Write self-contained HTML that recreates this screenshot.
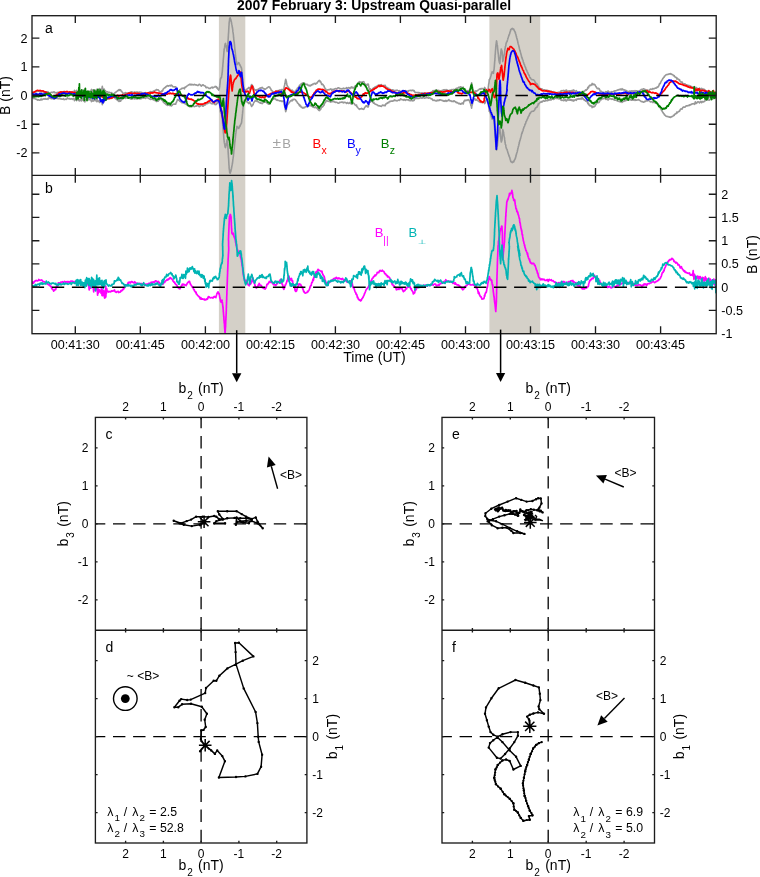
<!DOCTYPE html>
<html><head><meta charset="utf-8"><title>2007 February 3: Upstream Quasi-parallel</title>
<style>html,body{margin:0;padding:0;background:#fff}svg{display:block}</style></head>
<body>
<svg width="760" height="877" viewBox="0 0 760 877" font-family='"Liberation Sans", Arial, Helvetica, "DejaVu Sans", sans-serif' font-size="12.6" fill="#000">
<rect x="0" y="0" width="760" height="877" fill="#fff"/>
<rect x="218.9" y="15.7" width="26.4" height="318.0" fill="#d4d0c8"/>
<rect x="489.4" y="15.7" width="50.8" height="318.0" fill="#d4d0c8"/>
<clipPath id="ca"><rect x="32.0" y="15.7" width="684.2" height="159.60000000000002"/></clipPath>
<clipPath id="cb"><rect x="32.0" y="175.3" width="684.2" height="158.39999999999998"/></clipPath>
<g clip-path="url(#ca)">
<polyline points="31.0,93.5 31.5,93.2 32.1,93.2 32.6,93.3 33.1,92.5 33.6,93.3 34.1,92.8 34.7,92.5 35.2,92.1 35.7,91.9 36.2,91.7 36.7,91.7 37.3,90.9 37.8,91.3 38.4,91.0 38.9,91.2 39.5,90.7 40.0,90.7 40.5,91.2 41.1,92.1 41.6,91.1 42.1,91.2 42.6,91.6 43.2,92.1 43.7,92.0 44.2,91.8 44.7,92.3 45.3,92.4 45.8,91.8 46.3,92.0 46.8,91.9 47.4,92.3 47.9,91.7 48.4,92.7 48.9,93.4 49.5,93.3 50.0,92.8 50.6,92.7 51.1,92.3 51.7,92.3 52.2,92.3 52.8,92.7 53.3,92.2 53.8,91.8 54.4,92.0 54.9,93.0 55.5,92.8 56.0,92.6 56.6,93.1 57.1,92.6 57.6,92.4 58.2,92.4 58.7,92.3 59.2,92.3 59.7,92.5 60.3,92.1 60.8,92.0 61.3,92.3 61.8,91.8 62.4,91.7 62.9,92.1 63.4,92.4 64.0,91.4 64.6,91.5 65.1,91.8 65.7,91.9 66.2,91.5 66.8,92.0 67.3,93.2 67.9,92.5 68.4,92.3 69.0,92.2 69.5,92.5 70.1,91.8 70.7,92.0 71.2,92.3 71.8,92.3 72.3,91.7 72.9,92.1 73.4,92.6 73.9,92.0 74.5,90.3 75.0,91.2 75.5,93.1 76.1,92.6 76.6,90.4 77.1,91.2 77.6,91.4 78.2,92.6 78.8,90.6 79.3,90.1 79.9,91.5 80.4,90.5 81.0,92.0 81.5,90.0 82.1,91.2 82.6,92.4 83.2,91.5 83.7,90.1 84.3,93.8 84.8,89.1 85.4,90.9 86.0,91.9 86.5,91.5 87.1,93.0 87.6,91.3 88.2,93.1 88.7,91.1 89.3,91.4 89.8,91.9 90.4,91.0 90.9,91.0 91.5,89.4 92.0,90.9 92.6,92.4 93.2,89.8 93.7,90.6 94.3,90.3 94.8,91.1 95.4,91.7 95.9,90.2 96.5,89.4 97.0,92.3 97.6,89.6 98.1,89.4 98.7,90.1 99.2,90.1 99.7,88.5 100.2,91.3 100.7,89.4 101.2,90.2 101.7,89.9 102.3,86.4 102.8,89.1 103.2,89.4 103.6,89.8 104.1,89.0 104.5,90.7 104.9,93.5 105.3,90.6 105.7,92.7 106.1,91.4 106.6,91.7 107.1,92.0 107.6,91.8 108.2,92.1 108.7,92.8 109.2,92.3 109.7,92.4 110.3,92.9 110.8,93.0 111.4,92.6 112.0,93.2 112.5,93.6 113.1,93.5 113.6,94.6 114.2,94.0 114.7,93.1 115.2,92.4 115.6,92.5 116.1,92.1 116.6,91.5 117.0,91.5 117.3,90.9 117.7,90.8 118.0,90.8 118.3,90.1 118.7,90.5 119.0,89.6 119.4,89.6 119.8,90.4 120.2,89.9 120.6,89.8 121.0,90.9 121.4,91.3 121.8,91.4 122.2,92.2 122.6,92.8 123.0,93.4 123.4,93.4 124.0,93.2 124.5,93.1 125.1,93.1 125.6,92.5 126.2,93.0 126.7,93.0 127.3,93.2 127.8,93.0 128.3,92.8 128.9,92.7 129.4,92.9 130.0,92.5 130.5,92.0 131.1,92.1 131.6,91.7 132.2,92.0 132.8,92.8 133.3,92.8 133.9,92.2 134.4,92.0 135.0,92.3 135.5,92.2 136.1,92.6 136.6,92.0 137.2,92.2 137.7,92.1 138.3,92.8 138.9,92.5 139.4,92.4 140.0,92.0 140.5,92.7 141.1,92.2 141.6,92.4 142.2,92.9 142.7,93.2 143.3,93.1 143.8,92.8 144.4,93.4 144.9,93.2 145.5,92.6 146.1,93.1 146.6,93.5 147.2,93.4 147.7,93.0 148.3,92.9 148.8,92.8 149.4,92.1 149.9,92.0 150.5,91.6 151.0,91.6 151.6,91.9 152.1,92.0 152.6,91.8 153.1,91.3 153.6,91.1 154.1,91.3 154.6,90.9 155.0,90.4 155.5,90.4 155.9,90.2 156.4,89.6 156.8,89.5 157.2,89.9 157.7,89.8 158.1,89.7 158.6,90.4 159.0,90.9 159.5,91.3 160.0,91.8 160.5,92.0 160.9,92.0 161.3,91.5 161.7,91.2 162.0,90.7 162.3,91.1 162.7,90.7 163.0,89.8 163.3,89.0 163.7,88.7 164.1,88.1 164.5,87.8 164.8,87.5 165.2,87.7 165.6,87.2 166.0,86.5 166.5,86.6 167.0,85.8 167.5,85.6 167.9,85.8 168.4,86.1 168.9,85.7 169.5,85.7 170.0,85.3 170.5,85.9 171.1,85.5 171.5,85.1 172.0,85.5 172.5,86.2 173.0,86.9 173.4,86.7 173.9,86.7 174.4,87.0 174.9,86.9 175.4,87.0 175.8,86.9 176.0,88.1 176.3,88.5 176.5,88.7 176.8,89.7 177.0,90.2 177.3,91.1 177.5,91.3 177.9,91.6 178.3,90.8 178.7,91.0 179.2,90.6 179.6,89.8 180.0,89.7 180.5,89.3 180.9,89.1 181.4,88.9 181.8,88.3 182.4,88.5 182.9,88.1 183.4,88.1 183.9,88.1 184.4,88.9 184.9,87.2 185.3,87.1 185.7,87.1 186.2,86.8 186.6,86.3 187.1,85.9 187.6,85.6 188.0,85.3 188.5,85.1 189.0,84.8 189.5,84.5 190.0,84.1 190.5,84.7 191.1,84.9 191.6,84.4 192.1,84.8 192.6,84.5 193.2,85.0 193.7,84.8 194.2,84.4 194.7,84.5 195.3,84.7 195.8,85.0 196.3,84.7 196.8,85.2 197.4,85.3 197.9,85.6 198.5,85.2 199.0,84.3 199.6,84.4 200.1,84.7 200.7,85.4 201.2,86.2 201.8,85.6 202.3,84.9 202.9,85.3 203.4,84.9 203.9,85.6 204.4,85.9 204.9,86.0 205.4,86.1 205.9,87.6 206.3,87.8 206.8,87.4 207.4,87.4 207.9,87.6 208.4,88.0 208.9,88.4 209.5,88.3 210.0,88.4 210.5,88.2 211.1,87.6 211.6,87.5 212.1,87.0 212.7,88.0 213.2,87.8 213.7,87.3 214.2,87.2 214.7,86.8 215.2,86.3 215.7,86.7 216.1,87.1 216.4,86.7 216.8,87.9 217.1,87.5 217.4,88.0 217.7,89.1 218.0,89.2 218.3,89.5 218.5,89.7 218.7,90.1 218.9,89.7 219.0,89.3 219.2,88.8 219.4,88.3 219.5,87.7 219.6,86.2 219.7,86.4 219.7,85.7 219.8,85.2 219.9,84.2 219.9,84.5 220.0,83.9 220.0,82.8 220.1,82.6 220.2,81.9 220.2,81.0 220.3,80.6 220.3,80.0 220.4,79.5 220.5,79.0 220.7,78.1 221.0,77.8 221.4,77.8 221.5,77.5 221.6,76.7 221.6,75.7 221.7,75.6 221.8,75.3 221.9,74.2 222.0,74.4 222.0,73.8 222.1,72.9 222.2,72.4 222.3,72.1 222.3,71.4 222.4,70.5 222.4,70.0 222.5,69.3 222.5,68.5 222.6,68.4 222.6,67.4 222.7,67.1 222.7,67.0 222.8,66.5 222.8,65.5 222.8,65.4 222.9,65.2 222.9,64.2 223.0,63.1 223.0,62.6 223.1,62.9 223.1,62.5 223.2,61.2 223.2,60.4 223.3,60.1 223.3,60.0 223.3,59.8 223.4,58.6 223.4,58.5 223.5,57.5 223.5,57.3 223.6,57.1 223.6,56.2 223.7,55.3 223.7,54.6 223.8,54.5 223.8,53.9 223.8,53.4 223.9,52.4 223.9,51.5 224.0,51.8 224.0,51.3 224.1,50.7 224.1,50.1 224.2,49.5 224.3,48.6 224.4,48.0 224.5,47.7 224.6,47.2 224.7,46.6 224.8,46.1 224.9,45.4 225.0,44.7 225.1,44.0 225.5,43.4 225.7,44.1 225.8,44.7 226.0,45.6 226.1,45.6 226.2,45.5 226.3,46.8 226.4,48.0 226.5,48.1 226.6,48.5 226.7,49.0 226.8,50.2 226.9,50.3 227.0,50.9 227.1,51.1 227.2,51.5 227.2,50.8 227.3,50.9 227.4,50.4 227.4,49.8 227.5,48.8 227.6,47.9 227.6,47.3 227.7,46.8 227.8,46.6 227.8,45.3 227.8,44.8 227.9,44.2 227.9,43.7 227.9,42.6 228.0,42.8 228.0,42.3 228.0,41.3 228.1,41.5 228.1,40.9 228.1,40.3 228.1,39.6 228.2,38.7 228.2,38.8 228.2,37.6 228.3,38.0 228.3,37.6 228.3,36.5 228.4,36.0 228.4,35.7 228.4,34.6 228.5,33.8 228.5,33.7 228.5,33.6 228.6,32.8 228.6,32.4 228.6,32.3 228.7,31.1 228.7,30.9 228.7,30.2 228.8,28.9 228.8,29.0 228.8,27.9 228.9,27.4 228.9,27.4 228.9,26.4 229.0,25.9 229.0,25.6 229.0,25.2 229.1,24.7 229.1,24.4 229.1,23.3 229.2,22.2 229.3,21.9 229.3,21.7 229.4,21.0 229.5,20.6 229.6,19.7 229.6,18.8 229.7,18.7 229.8,18.9 229.9,18.0 230.0,17.8 230.3,17.9 230.5,19.2 230.7,19.5 230.8,19.6 231.0,20.0 231.1,21.4 231.3,21.7 231.4,21.8 231.5,22.5 231.6,23.6 231.7,23.7 231.8,24.4 231.9,24.9 232.0,25.1 232.1,26.1 232.2,26.6 232.3,27.5 232.4,27.4 232.4,27.0 232.5,28.4 232.6,28.6 232.7,29.6 232.8,30.3 232.8,30.6 232.9,31.9 233.0,32.3 233.1,32.8 233.1,33.3 233.2,33.3 233.3,34.0 233.4,35.0 233.4,34.8 233.5,35.9 233.5,36.7 233.6,37.7 233.7,37.6 233.7,38.3 233.8,39.0 233.8,39.8 233.9,40.6 234.0,40.8 234.0,41.4 234.1,41.9 234.1,41.8 234.2,42.1 234.3,42.8 234.3,43.8 234.4,43.8 234.4,44.4 234.5,45.1 234.5,46.2 234.6,46.2 234.6,47.1 234.7,47.6 234.8,48.7 234.8,49.4 234.9,49.2 234.9,50.1 235.0,49.9 235.0,50.9 235.1,51.1 235.2,52.0 235.2,52.2 235.3,52.6 235.4,53.8 235.4,54.0 235.5,55.2 235.6,55.4 235.6,56.3 235.7,57.1 235.8,57.1 235.8,57.6 235.9,58.1 236.0,58.8 236.0,59.4 236.1,59.9 236.2,60.4 236.3,60.9 236.4,61.2 236.5,61.9 236.6,61.8 236.7,62.7 236.8,63.3 236.9,64.7 237.1,64.4 237.6,64.0 238.0,63.5 238.4,62.8 238.7,62.6 239.0,63.0 239.3,63.7 239.5,65.0 239.8,64.4 240.0,64.9 240.3,65.5 240.6,66.4 240.9,67.1 241.2,67.2 241.5,68.0 241.5,68.7 241.6,68.7 241.7,69.4 241.8,70.8 241.8,71.3 241.9,72.2 242.0,72.2 242.0,72.2 242.1,72.9 242.1,73.7 242.2,74.2 242.2,73.9 242.3,75.2 242.3,75.3 242.4,75.9 242.4,76.7 242.5,77.1 242.6,78.1 242.6,78.4 242.7,79.3 242.7,80.2 242.8,80.6 242.8,80.6 242.9,81.3 243.0,82.2 243.0,83.0 243.1,83.4 243.2,83.7 243.2,83.9 243.3,84.5 243.3,85.2 243.4,86.4 243.5,86.8 243.5,87.0 243.6,87.2 243.7,87.9 243.9,87.5 244.0,88.7 244.2,89.5 244.4,90.4 244.5,89.8 244.7,90.5 245.1,90.6 245.6,90.7 246.1,89.8 246.5,89.3 247.0,89.2 247.4,88.9 247.9,88.2 248.4,88.4 248.9,87.4 249.4,88.1 249.9,89.0 250.1,87.7 250.4,87.5 250.7,86.8 250.9,86.1 251.2,85.7 251.4,85.0 251.7,84.5 252.0,85.3 252.3,85.9 252.6,85.7 252.9,86.2 253.2,86.6 253.5,87.9 253.8,88.4 254.1,88.8 254.5,89.5 254.8,89.9 255.1,90.0 255.6,90.2 256.1,89.7 256.6,90.9 257.1,90.1 257.6,89.5 258.2,89.0 258.7,89.1 259.2,88.5 259.7,88.4 260.3,87.8 260.8,88.4 261.3,87.8 261.8,87.6 262.4,87.4 262.8,88.1 263.3,88.5 263.8,88.9 264.3,88.7 264.8,89.4 265.2,89.3 265.7,88.9 266.2,88.6 266.7,88.3 267.2,87.8 267.6,87.5 268.1,87.3 268.6,86.8 269.1,87.0 269.6,87.1 269.9,87.5 270.1,87.6 270.3,88.5 270.6,88.8 270.8,88.8 271.1,89.9 271.3,90.3 271.6,90.5 272.0,90.6 272.5,91.4 272.9,91.8 273.3,91.9 273.8,92.3 274.3,92.6 274.9,92.1 275.4,92.0 275.9,91.7 276.4,90.9 277.0,90.6 277.5,91.2 278.0,90.7 278.6,90.5 279.1,90.5 279.5,90.1 280.0,90.0 280.5,90.1 281.0,90.2 281.4,89.6 281.9,89.6 282.3,89.5 282.8,89.7 283.2,90.0 283.5,90.4 283.6,89.6 283.7,89.4 283.8,89.0 284.0,88.6 284.1,87.0 284.2,86.9 284.3,86.3 284.4,85.9 284.6,85.3 284.7,85.0 284.8,83.6 284.9,83.8 285.0,83.0 285.1,83.1 285.2,82.2 285.3,81.4 285.4,81.1 285.5,80.5 285.6,79.8 285.7,79.4 285.8,79.6 285.9,79.8 286.1,80.7 286.2,81.7 286.3,81.2 286.4,82.0 286.5,82.7 286.6,83.3 286.7,84.0 286.8,84.6 287.0,85.1 287.2,85.7 287.4,86.1 287.7,86.5 287.9,86.5 288.2,87.1 288.6,87.4 289.0,88.5 289.4,88.5 289.8,89.1 290.2,89.9 290.7,90.2 291.1,90.2 291.5,90.8 292.0,90.0 292.5,90.5 293.0,91.7 293.5,91.3 293.9,91.7 294.4,91.7 294.9,91.4 295.4,91.2 295.9,90.5 296.2,90.0 296.6,89.8 296.9,89.1 297.2,88.9 297.6,87.9 297.9,87.8 298.3,87.4 298.7,86.9 299.1,86.1 299.5,85.2 299.9,86.1 300.2,85.2 300.5,85.0 300.9,85.0 301.2,83.6 301.5,83.6 301.8,83.5 302.4,83.6 303.0,82.8 303.5,83.5 304.1,83.6 304.6,83.3 305.0,83.9 305.5,84.3 306.0,84.2 306.5,84.3 307.0,84.8 307.5,84.4 308.0,85.0 308.4,85.5 308.9,85.6 309.3,85.4 309.7,85.7 310.2,86.0 310.6,85.2 311.1,85.4 311.5,85.0 311.9,84.7 312.4,84.2 312.8,84.6 313.2,83.9 313.7,83.7 314.2,83.4 314.7,83.5 315.2,83.8 315.7,84.2 316.0,83.4 316.4,83.0 316.7,83.1 317.1,83.1 317.5,82.2 317.9,81.6 318.3,81.5 318.8,80.6 319.2,80.6 319.6,80.4 319.9,81.2 320.2,81.9 320.6,81.6 320.9,82.2 321.3,83.2 321.7,84.4 322.1,83.8 322.5,84.3 322.9,84.5 323.2,84.9 323.5,85.7 323.7,85.8 324.0,85.8 324.3,87.0 324.6,87.5 324.9,88.1 325.2,88.7 325.5,88.7 325.9,89.5 326.2,90.1 326.5,90.1 326.8,90.5 327.3,89.9 327.8,89.7 328.3,89.6 328.8,89.9 329.3,89.7 329.8,89.3 330.3,89.3 330.8,88.9 331.3,89.4 331.8,90.3 332.3,89.9 332.8,89.3 333.3,89.6 333.8,89.9 334.2,89.0 334.7,89.0 335.3,88.6 335.8,88.8 336.4,88.7 336.9,88.6 337.5,88.3 338.0,87.9 338.6,87.8 339.1,88.0 339.7,88.8 340.2,88.6 340.8,88.8 341.3,89.0 341.9,88.8 342.4,88.5 342.9,89.0 343.5,88.1 344.0,88.6 344.6,88.8 345.1,88.5 345.7,88.4 346.2,88.1 346.7,87.5 347.2,88.5 347.7,88.2 348.2,87.9 348.6,87.5 349.0,87.7 349.5,88.1 349.9,88.6 350.3,87.7 350.7,87.9 351.1,87.4 351.4,86.9 351.9,87.8 352.3,87.2 352.8,87.7 353.2,88.2 353.6,87.8 354.0,87.6 354.4,87.1 354.8,86.5 355.2,86.0 355.6,85.7 355.9,85.5 356.2,85.6 356.5,86.0 356.9,84.2 357.2,84.1 357.6,83.7 358.0,83.1 358.5,82.4 358.9,82.2 359.3,81.7 359.9,82.3 360.5,82.0 361.0,82.1 361.6,82.7 362.1,82.2 362.6,81.9 363.1,81.6 363.5,81.9 364.0,81.9 364.4,83.0 364.8,83.8 365.3,84.1 365.7,84.5 366.1,85.3 366.6,84.7 367.0,85.1 367.5,84.2 367.9,84.4 368.2,84.1 368.4,84.3 368.5,85.3 368.6,85.7 368.8,86.4 368.9,87.2 369.0,87.7 369.1,87.9 369.3,88.8 369.4,89.5 369.7,89.6 370.2,88.8 370.7,90.4 371.2,89.9 371.6,90.0 372.1,89.4 372.5,89.0 372.9,88.6 373.4,87.9 373.8,88.7 374.3,87.8 374.7,87.3 375.1,86.9 375.6,86.7 376.1,86.5 376.6,86.4 377.1,86.1 377.6,85.9 378.1,85.3 378.6,85.2 379.1,85.0 379.6,85.2 380.2,85.0 380.8,84.7 381.3,84.6 381.9,85.2 382.5,85.9 383.0,85.5 383.6,85.8 384.2,85.3 384.7,85.7 385.2,85.3 385.7,86.9 386.1,86.8 386.5,87.7 387.0,87.7 387.4,87.6 387.9,88.5 388.3,88.2 388.7,88.2 389.2,89.3 389.7,89.6 390.2,89.4 390.7,89.7 391.2,90.0 391.7,90.0 392.2,89.9 392.8,89.8 393.3,90.5 393.8,90.4 394.4,91.1 394.9,90.3 395.5,90.8 396.0,90.6 396.6,90.2 397.1,90.1 397.7,90.5 398.3,90.7 398.8,91.0 399.4,90.6 399.9,91.0 400.5,92.2 401.1,91.4 401.6,91.7 402.2,91.3 402.8,91.2 403.3,90.7 403.9,91.4 404.5,91.5 405.0,90.7 405.6,90.6 406.1,91.4 406.7,91.2 407.2,91.2 407.8,91.0 408.3,91.5 408.8,90.6 409.3,90.5 409.9,90.4 410.4,90.3 410.9,90.5 411.4,90.7 411.9,90.3 412.4,90.4 412.9,90.0 413.3,90.5 413.7,91.0 414.2,90.7 414.6,91.8 415.0,92.4 415.5,92.5 416.1,92.5 416.6,92.5 417.2,92.5 417.7,92.6 418.3,92.8 418.8,92.6 419.4,92.8 420.0,93.0 420.5,93.4 421.1,93.0 421.7,92.9 422.2,92.8 422.8,93.3 423.3,93.6 423.9,93.1 424.5,92.7 425.0,92.9 425.6,93.1 426.2,93.2 426.7,93.8 427.3,93.3 427.9,93.3 428.4,92.7 429.0,93.0 429.5,93.2 430.1,93.0 430.6,92.5 431.1,92.1 431.6,92.5 432.1,92.0 432.6,91.1 433.1,90.6 433.6,90.7 434.1,90.9 434.5,90.5 435.0,90.6 435.5,90.3 436.1,90.1 436.6,90.0 437.1,90.8 437.6,90.4 438.2,90.7 438.7,90.4 439.2,91.2 439.7,90.7 440.3,91.2 440.8,91.0 441.3,91.0 441.8,90.6 442.4,90.2 442.9,90.6 443.4,89.8 444.0,89.8 444.5,90.2 445.1,89.7 445.6,90.6 446.2,90.4 446.7,89.6 447.3,90.2 447.8,90.5 448.4,90.6 448.9,91.5 449.5,90.2 450.0,90.4 450.6,90.0 451.1,90.2 451.7,89.6 452.2,89.8 452.8,89.7 453.3,89.4 453.7,90.2 454.2,89.7 454.7,89.9 455.2,89.1 455.7,89.3 456.2,88.5 456.7,88.2 457.2,88.5 457.8,88.1 458.3,87.6 458.8,87.2 459.3,87.6 459.9,87.5 460.4,86.8 460.9,86.9 461.4,87.4 461.9,87.8 462.4,88.0 462.9,87.2 463.2,87.1 463.6,88.4 463.9,89.8 464.2,90.0 464.5,90.0 464.9,91.0 465.4,90.3 465.9,90.6 466.4,90.9 467.0,90.5 467.5,91.1 468.0,91.0 468.5,91.4 469.0,90.4 469.5,90.6 469.6,90.0 469.8,89.1 470.0,88.7 470.1,88.0 470.3,88.2 470.4,87.7 470.6,87.9 470.7,86.5 470.9,85.4 471.0,85.5 471.2,85.1 471.3,84.7 471.4,83.9 471.6,82.8 471.7,83.8 471.8,84.6 472.0,85.6 472.1,85.9 472.2,86.0 472.3,86.1 472.4,87.2 472.6,87.4 472.7,88.3 472.9,89.3 473.1,90.5 473.3,90.1 473.5,90.4 473.7,91.5 473.9,92.0 474.1,92.2 474.6,92.3 475.1,92.0 475.6,90.9 476.1,91.6 476.5,91.3 476.9,90.7 477.4,90.6 477.8,90.6 478.3,89.9 478.8,89.6 479.3,89.2 479.8,88.9 480.3,88.6 480.8,89.3 481.4,88.5 482.0,88.8 482.5,88.6 483.0,88.7 483.5,89.3 483.9,89.7 484.2,88.7 484.4,88.0 484.6,87.4 484.9,87.8 485.1,88.5 485.3,88.4 485.6,90.0 485.8,89.9 486.1,90.6 486.3,90.9 486.6,91.3 486.9,91.8 487.2,92.5 487.4,92.2 487.6,92.3 487.7,92.5 487.8,91.5 487.8,91.4 487.9,90.1 488.0,89.7 488.1,89.0 488.1,88.8 488.2,88.7 488.3,87.9 488.3,86.9 488.4,86.7 488.5,85.8 488.6,85.2 488.6,84.9 488.7,83.9 488.8,84.0 488.9,83.5 488.9,83.2 489.0,82.8 489.1,81.8 489.2,80.9 489.2,79.7 489.4,79.6 489.6,79.6 489.8,79.2 490.1,78.4 490.3,78.1 490.4,77.5 490.6,76.9 490.7,76.7 490.8,76.2 491.0,75.5 491.1,75.3 491.2,74.9 491.4,74.3 491.6,73.2 491.8,73.1 492.1,71.9 492.3,72.4 492.6,72.9 492.9,72.7 493.2,73.2 493.5,73.4 493.5,72.9 493.6,72.2 493.7,71.0 493.8,70.7 493.8,70.6 493.9,70.4 494.0,69.7 494.0,69.6 494.1,69.2 494.2,68.0 494.2,67.6 494.3,66.8 494.3,67.1 494.4,65.6 494.4,65.1 494.5,64.4 494.5,64.0 494.5,63.6 494.6,63.2 494.6,62.2 494.7,62.2 494.7,61.0 494.8,60.9 494.8,60.1 494.9,60.5 494.9,58.3 494.9,58.7 495.0,57.5 495.0,58.1 495.1,56.7 495.1,55.7 495.1,55.3 495.2,54.5 495.2,54.4 495.3,54.6 495.3,54.1 495.3,53.5 495.4,52.2 495.4,51.7 495.5,50.9 495.5,50.7 495.5,50.2 495.6,49.9 495.6,49.0 495.7,48.6 495.7,47.8 495.7,47.6 495.8,46.6 495.8,46.4 495.9,45.6 496.0,45.3 496.0,44.2 496.1,44.4 496.2,43.6 496.2,43.3 496.3,42.2 496.4,41.5 496.5,42.0 496.5,40.9 496.6,41.6 496.7,41.8 496.8,41.6 496.9,43.7 497.0,44.2 497.1,44.5 497.2,44.7 497.3,45.4 497.4,45.4 497.5,46.6 497.5,46.8 497.6,47.9 497.6,48.1 497.7,48.8 497.7,49.8 497.8,49.4 497.8,49.8 497.9,50.5 497.9,51.6 498.0,51.6 498.1,52.4 498.1,52.9 498.2,53.2 498.2,53.8 498.3,54.0 498.4,54.7 498.4,55.3 498.5,56.0 498.5,56.9 498.6,57.1 498.7,57.9 498.7,58.7 498.8,58.6 498.9,59.7 498.9,60.3 499.0,60.7 499.2,61.7 499.3,62.0 499.4,62.5 499.6,62.7 499.7,63.5 499.8,63.6 499.9,63.0 499.9,62.9 500.0,61.5 500.0,60.5 500.1,60.4 500.1,59.6 500.1,59.2 500.2,58.5 500.2,57.9 500.3,57.5 500.3,57.2 500.4,56.8 500.4,55.9 500.5,55.8 500.5,55.0 500.6,54.7 500.7,53.7 500.7,53.0 500.8,52.5 500.8,52.0 500.9,51.6 501.0,51.1 501.0,50.4 501.1,50.1 501.2,50.0 501.2,49.0 501.3,49.0 501.5,49.3 501.6,49.9 501.8,50.9 501.9,50.7 502.0,50.9 502.1,52.3 502.2,52.4 502.2,53.3 502.2,53.1 502.3,53.8 502.3,54.9 502.3,55.2 502.4,55.5 502.4,56.8 502.4,56.9 502.5,57.8 502.5,58.9 502.6,59.3 502.6,59.1 502.6,59.4 502.7,59.8 502.7,61.0 502.7,61.6 502.9,60.9 503.1,60.6 503.2,59.5 503.4,58.8 503.5,59.0 503.6,58.7 503.7,57.2 503.8,56.7 503.9,56.1 504.0,55.5 504.1,55.0 504.2,54.9 504.3,54.1 504.4,53.9 504.4,54.0 504.5,53.2 504.6,52.2 504.7,51.1 504.8,50.7 504.8,50.3 504.9,49.7 505.0,48.5 505.1,49.0 505.1,49.0 505.2,48.0 505.3,47.1 505.4,46.5 505.6,46.4 505.7,46.0 505.8,45.8 505.9,44.6 506.0,43.9 506.1,43.4 506.3,43.2 506.4,42.3 506.6,42.1 506.8,41.9 507.1,41.7 507.3,40.5 507.5,39.9 507.7,39.2 507.8,38.6 508.0,38.2 508.2,37.7 508.3,37.1 508.5,36.8 508.7,36.1 508.9,35.3 509.0,34.8 509.2,35.1 509.4,34.3 509.6,33.7 509.7,33.6 509.9,32.8 510.1,31.8 510.3,31.3 510.4,31.3 510.7,29.6 511.0,29.7 511.2,29.1 511.5,29.1 511.8,28.6 512.1,28.7 512.5,28.4 512.9,29.2 513.3,29.6 513.7,29.1 514.0,30.0 514.3,30.3 514.5,31.1 514.8,31.6 515.1,32.0 515.3,33.0 515.5,32.8 515.6,33.7 515.8,34.3 515.9,34.4 516.1,35.5 516.2,36.2 516.4,36.3 516.5,37.0 516.6,37.5 516.8,38.1 516.9,38.8 517.0,38.6 517.2,39.2 517.3,39.6 517.4,40.4 517.6,40.8 517.7,41.4 517.8,42.3 518.0,42.7 518.1,43.4 518.2,43.7 518.4,44.5 518.5,44.8 518.6,44.9 518.8,45.8 518.9,46.6 519.0,46.9 519.1,46.8 519.3,48.0 519.4,49.0 519.5,49.1 519.7,49.7 519.8,50.3 519.9,50.7 520.1,50.9 520.2,51.5 520.3,51.7 520.5,52.2 520.6,52.7 520.8,53.5 520.9,54.1 521.1,54.5 521.2,55.1 521.4,55.8 521.5,56.6 521.7,57.2 521.8,57.9 522.0,57.4 522.2,58.4 522.4,58.9 522.5,59.6 522.7,59.8 522.9,59.9 523.1,60.8 523.3,62.0 523.5,62.4 523.7,62.8 523.8,63.2 524.0,64.1 524.2,64.4 524.4,64.5 524.6,65.1 524.8,65.8 525.0,66.4 525.2,67.1 525.4,67.1 525.6,67.6 525.8,68.1 526.0,69.4 526.2,69.6 526.4,69.8 526.6,70.1 526.8,70.6 527.1,71.6 527.3,71.9 527.5,72.4 527.7,72.6 527.9,72.8 528.1,73.8 528.4,74.3 528.6,74.8 528.9,75.2 529.1,75.3 529.4,76.1 529.6,77.0 529.9,77.6 530.2,77.5 530.5,78.0 530.8,78.7 531.1,79.0 531.6,79.5 532.1,79.6 532.6,79.7 533.1,79.8 533.5,79.7 534.0,80.4 534.4,80.8 534.8,81.2 535.2,82.6 535.6,82.5 535.9,83.4 536.3,83.6 536.6,83.9 536.9,83.8 537.2,84.1 537.5,85.2 537.7,85.0 538.0,85.6 538.2,87.2 538.5,86.6 538.7,87.2 538.9,87.1 539.3,87.9 539.7,88.1 540.1,88.5 540.5,88.8 540.9,88.7 541.3,89.6 541.8,88.8 542.4,89.3 542.9,90.0 543.4,90.4 543.9,90.0 544.5,89.9 545.1,89.9 545.6,90.8 546.2,90.5 546.7,90.4 547.3,90.2 547.9,91.5 548.4,91.1 548.9,90.7 549.5,91.3 550.0,91.3 550.5,91.0 551.1,91.0 551.6,91.9 552.1,92.2 552.6,91.8 553.2,92.0 553.7,91.5 554.2,92.0 554.8,93.4 555.3,93.2 555.9,92.6 556.4,93.4 557.0,92.6 557.5,92.7 558.1,92.4 558.6,93.1 559.2,92.0 559.7,93.2 560.2,93.0 560.5,92.6 560.8,91.2 561.2,90.6 561.6,91.0 562.1,90.9 562.7,90.8 563.3,90.3 563.8,91.1 564.4,90.6 564.9,91.2 565.5,91.5 566.0,90.1 566.6,90.1 567.1,91.0 567.7,91.3 568.2,91.2 568.8,90.8 569.3,90.9 569.9,91.4 570.5,90.8 571.0,91.4 571.6,90.6 572.1,90.7 572.6,91.0 573.2,89.9 573.7,91.0 574.2,90.3 574.7,91.0 575.3,91.2 575.8,91.4 576.3,90.6 576.8,91.9 577.4,91.8 577.9,92.3 578.4,92.4 578.9,91.7 579.5,92.0 580.0,92.4 580.6,92.6 581.1,91.7 581.7,93.1 582.2,93.4 582.8,92.0 583.2,92.5 583.7,91.3 584.1,91.5 584.6,90.7 585.0,90.8 585.4,90.0 585.8,89.9 586.2,90.2 586.6,90.0 587.0,89.2 587.4,89.1 587.8,87.4 588.2,87.1 588.6,87.8 588.9,86.2 589.4,85.8 589.8,85.2 590.3,85.1 590.7,85.6 591.2,85.2 591.7,84.7 592.2,83.4 592.6,84.7 593.1,84.5 593.6,84.0 594.1,84.7 594.6,84.4 595.1,85.0 595.5,85.9 595.9,86.6 596.2,86.9 596.6,87.7 597.0,88.1 597.4,88.7 597.8,88.2 598.2,88.2 598.6,88.9 599.0,88.5 599.4,89.1 599.8,90.0 600.2,91.3 600.6,91.8 601.1,91.3 601.6,91.4 602.1,92.0 602.6,92.9 603.2,92.2 603.7,92.4 604.2,92.5 604.7,92.8 605.3,92.6 605.8,91.6 606.4,92.2 607.0,91.7 607.5,92.7 608.1,90.9 608.6,91.6 609.2,92.0 609.7,92.5 610.3,92.4 610.8,92.5 611.3,91.6 611.8,91.9 612.4,91.7 612.9,92.1 613.4,91.3 613.9,91.7 614.5,90.9 615.0,91.0 615.5,90.9 616.1,90.8 616.6,90.6 617.1,90.3 617.6,90.0 618.2,89.6 618.7,90.0 619.3,89.6 619.9,89.3 620.4,89.0 621.0,89.9 621.6,89.8 622.1,88.7 622.6,89.7 623.2,89.8 623.7,89.6 624.2,90.2 624.7,90.1 625.3,90.3 625.8,90.3 626.3,90.7 626.8,91.5 627.4,91.3 627.9,91.2 628.4,92.3 628.9,91.6 629.5,91.7 630.0,90.9 630.5,91.5 631.1,92.0 631.6,90.8 632.2,91.7 632.7,91.0 633.3,90.8 633.9,92.1 634.4,91.2 635.0,90.6 635.5,91.5 636.1,90.8 636.6,90.8 637.1,91.0 637.6,91.0 638.2,91.4 638.7,91.4 639.2,90.8 639.7,90.7 640.2,90.3 640.7,90.1 641.2,89.4 641.7,89.5 642.2,89.5 642.7,89.3 643.2,88.8 643.7,88.9 644.2,89.0 644.6,89.6 645.1,89.5 645.6,89.5 646.1,90.2 646.6,90.8 647.1,90.1 647.7,90.3 648.2,90.5 648.8,90.5 649.3,90.1 649.9,89.7 650.4,89.1 651.0,89.3 651.5,89.2 652.1,89.4 652.6,88.5 653.2,88.5 653.7,88.9 654.2,88.7 654.7,88.3 655.3,88.2 655.8,87.9 656.2,88.1 656.7,87.8 657.2,86.9 657.7,87.1 658.2,87.0 658.4,86.6 658.7,85.8 659.0,85.4 659.3,84.2 659.6,83.6 659.8,83.9 660.1,83.5 660.4,83.4 660.6,82.4 660.9,82.2 661.1,81.3 661.4,81.0 661.6,80.6 661.9,80.2 662.1,79.8 662.4,79.3 662.8,78.8 663.1,78.2 663.4,77.8 663.8,77.2 664.1,77.2 664.5,76.1 665.0,75.9 665.4,75.5 665.8,75.0 666.3,74.8 666.8,74.6 667.3,74.4 667.8,74.6 668.3,74.3 668.9,74.1 669.4,73.8 670.0,74.2 670.6,73.5 671.1,73.9 671.7,74.4 672.2,74.5 672.6,74.5 673.1,75.1 673.5,75.7 673.9,75.9 674.3,75.7 674.7,76.7 675.1,77.0 675.5,77.1 675.9,77.4 676.4,77.5 676.8,79.0 677.2,78.1 677.7,78.8 678.1,79.1 678.5,79.5 678.9,79.4 679.3,80.2 679.7,79.9 680.1,81.1 680.5,81.8 681.0,82.1 681.5,82.0 682.0,81.8 682.4,82.7 682.9,83.7 683.4,83.7 683.9,84.1 684.4,83.7 684.8,83.8 685.3,84.1 685.8,84.9 686.3,85.0 686.7,85.2 687.2,85.1 687.7,85.2 688.2,85.4 688.7,85.5 689.2,86.1 689.7,85.5 690.2,86.2 690.7,86.4 691.2,86.4 691.7,87.0 692.2,87.1 692.7,87.0 693.2,87.1 693.7,87.5 694.2,87.4 694.7,86.6 695.3,89.1 695.8,88.7 696.3,87.6 696.8,87.9 697.4,88.9 697.9,89.2 698.4,89.2 698.9,88.7 699.5,88.1 700.0,88.9 700.5,89.6 701.1,88.9 701.6,88.4 702.1,89.6 702.6,89.1 703.2,89.2 703.7,89.1 704.2,89.8 704.7,89.6 705.3,90.8 705.8,91.9 706.3,91.3 706.8,90.8 707.4,91.1 707.9,91.6 708.4,91.2 708.9,90.8 709.5,90.8 710.0,91.9 710.5,92.4 711.1,92.8 711.6,93.4 712.1,92.7 712.6,91.7 713.2,92.4 713.7,93.3 714.2,92.9 714.7,93.5 715.3,93.2 715.9,93.2 716.4,92.9 717.0,92.5 717.5,92.8" fill="none" stroke="#989898" stroke-width="1.6" stroke-linejoin="round" stroke-linecap="butt" />
<polyline points="31.0,97.5 31.5,97.8 32.1,97.8 32.6,97.7 33.1,98.5 33.6,97.7 34.1,98.2 34.7,98.5 35.2,98.9 35.7,99.1 36.2,99.3 36.7,99.3 37.3,100.1 37.8,99.7 38.4,100.0 38.9,99.8 39.5,100.3 40.0,100.3 40.5,99.8 41.1,98.9 41.6,99.9 42.1,99.8 42.6,99.4 43.2,98.9 43.7,99.0 44.2,99.2 44.7,98.7 45.3,98.6 45.8,99.2 46.3,99.0 46.8,99.1 47.4,98.7 47.9,99.3 48.4,98.3 48.9,97.6 49.5,97.7 50.0,98.2 50.6,98.3 51.1,98.7 51.7,98.7 52.2,98.7 52.8,98.3 53.3,98.8 53.8,99.2 54.4,99.0 54.9,98.0 55.5,98.2 56.0,98.4 56.6,97.9 57.1,98.4 57.6,98.6 58.2,98.6 58.7,98.7 59.2,98.7 59.7,98.5 60.3,98.9 60.8,99.0 61.3,98.7 61.8,99.2 62.4,99.3 62.9,98.9 63.4,98.6 64.0,99.6 64.6,99.5 65.1,99.2 65.7,99.1 66.2,99.5 66.8,99.0 67.3,97.8 67.9,98.5 68.4,98.7 69.0,98.8 69.5,98.5 70.1,99.2 70.7,99.0 71.2,98.7 71.8,98.7 72.3,99.3 72.9,98.9 73.4,98.4 73.9,99.0 74.5,100.7 75.0,99.8 75.5,97.9 76.1,98.4 76.6,100.6 77.1,99.8 77.6,99.6 78.2,98.4 78.8,100.4 79.3,100.9 79.9,99.5 80.4,100.5 81.0,99.0 81.5,101.0 82.1,99.8 82.6,98.6 83.2,99.5 83.7,100.9 84.3,97.2 84.8,101.9 85.4,100.1 86.0,99.1 86.5,99.5 87.1,98.0 87.6,99.7 88.2,97.9 88.7,99.9 89.3,99.6 89.8,99.1 90.4,100.0 90.9,100.0 91.5,101.6 92.0,100.1 92.6,98.6 93.2,101.2 93.7,100.4 94.3,100.7 94.8,99.9 95.4,99.3 95.9,100.8 96.5,101.6 97.0,98.7 97.6,101.4 98.1,101.6 98.7,100.9 99.2,100.9 99.7,102.5 100.2,99.7 100.7,101.6 101.2,100.8 101.7,101.1 102.3,104.6 102.8,101.9 103.2,101.6 103.6,101.2 104.1,102.0 104.5,100.3 104.9,97.5 105.3,100.4 105.7,98.3 106.1,99.6 106.6,99.3 107.1,99.0 107.6,99.2 108.2,98.9 108.7,98.2 109.2,98.7 109.7,98.6 110.3,98.1 110.8,98.0 111.4,98.4 112.0,97.8 112.5,97.4 113.1,97.5 113.6,96.4 114.2,97.0 114.7,97.9 115.2,98.6 115.6,98.5 116.1,98.9 116.6,99.5 117.0,99.5 117.3,100.1 117.7,100.2 118.0,100.2 118.3,100.9 118.7,100.5 119.0,101.4 119.4,101.4 119.8,100.6 120.2,101.1 120.6,101.2 121.0,100.1 121.4,99.7 121.8,99.6 122.2,98.8 122.6,98.2 123.0,97.6 123.4,97.6 124.0,97.8 124.5,97.9 125.1,97.9 125.6,98.5 126.2,98.0 126.7,98.0 127.3,97.8 127.8,98.0 128.3,98.2 128.9,98.3 129.4,98.1 130.0,98.5 130.5,99.0 131.1,98.9 131.6,99.3 132.2,99.0 132.8,98.2 133.3,98.2 133.9,98.8 134.4,99.0 135.0,98.7 135.5,98.8 136.1,98.4 136.6,99.0 137.2,98.8 137.7,98.9 138.3,98.2 138.9,98.5 139.4,98.6 140.0,99.0 140.5,98.3 141.1,98.8 141.6,98.6 142.2,98.1 142.7,97.8 143.3,97.9 143.8,98.2 144.4,97.6 144.9,97.8 145.5,98.4 146.1,97.9 146.6,97.5 147.2,97.6 147.7,98.0 148.3,98.1 148.8,98.2 149.4,98.9 149.9,99.0 150.5,99.4 151.0,99.4 151.6,99.1 152.1,99.0 152.6,99.2 153.1,99.7 153.6,99.9 154.1,99.7 154.6,100.1 155.0,100.6 155.5,100.6 155.9,100.8 156.4,101.4 156.8,101.5 157.2,101.1 157.7,101.2 158.1,101.3 158.6,100.6 159.0,100.1 159.5,99.7 160.0,99.2 160.5,99.0 160.9,99.0 161.3,99.5 161.7,99.8 162.0,100.3 162.3,99.9 162.7,100.3 163.0,101.2 163.3,102.0 163.7,102.3 164.1,102.9 164.5,103.2 164.8,103.5 165.2,103.3 165.6,103.8 166.0,104.5 166.5,104.4 167.0,105.2 167.5,105.4 167.9,105.2 168.4,104.9 168.9,105.3 169.5,105.3 170.0,105.7 170.5,105.1 171.1,105.5 171.5,105.9 172.0,105.5 172.5,104.8 173.0,104.1 173.4,104.3 173.9,104.3 174.4,104.0 174.9,104.1 175.4,104.0 175.8,104.1 176.0,102.9 176.3,102.5 176.5,102.3 176.8,101.3 177.0,100.8 177.3,99.9 177.5,99.7 177.9,99.4 178.3,100.2 178.7,100.0 179.2,100.4 179.6,101.2 180.0,101.3 180.5,101.7 180.9,101.9 181.4,102.1 181.8,102.7 182.4,102.5 182.9,102.9 183.4,102.9 183.9,102.9 184.4,102.1 184.9,103.8 185.3,103.9 185.7,103.9 186.2,104.2 186.6,104.7 187.1,105.1 187.6,105.4 188.0,105.7 188.5,105.9 189.0,106.2 189.5,106.5 190.0,106.9 190.5,106.3 191.1,106.1 191.6,106.6 192.1,106.2 192.6,106.5 193.2,106.0 193.7,106.2 194.2,106.6 194.7,106.5 195.3,106.3 195.8,106.0 196.3,106.3 196.8,105.8 197.4,105.7 197.9,105.4 198.5,105.8 199.0,106.7 199.6,106.6 200.1,106.3 200.7,105.6 201.2,104.8 201.8,105.4 202.3,106.1 202.9,105.7 203.4,106.1 203.9,105.4 204.4,105.1 204.9,105.0 205.4,104.9 205.9,103.4 206.3,103.2 206.8,103.6 207.4,103.6 207.9,103.4 208.4,103.0 208.9,102.6 209.5,102.7 210.0,102.6 210.5,102.8 211.1,103.4 211.6,103.5 212.1,104.0 212.7,103.0 213.2,103.2 213.7,103.7 214.2,103.8 214.7,104.2 215.2,104.7 215.7,104.3 216.1,103.9 216.4,104.3 216.8,103.1 217.1,103.5 217.4,103.0 217.7,101.9 218.0,101.8 218.3,101.5 218.5,101.3 218.7,100.9 218.9,101.3 219.0,101.7 219.2,102.2 219.4,102.7 219.5,103.3 219.6,104.8 219.7,104.6 219.7,105.3 219.8,105.8 219.9,106.8 219.9,106.5 220.0,107.1 220.0,108.2 220.1,108.4 220.2,109.1 220.2,110.0 220.3,110.4 220.3,111.0 220.4,111.5 220.5,112.0 220.7,112.9 221.0,113.2 221.4,113.2 221.5,113.5 221.6,114.3 221.6,115.3 221.7,115.4 221.8,115.7 221.9,116.8 222.0,116.6 222.0,117.2 222.1,118.1 222.2,118.6 222.3,118.9 222.3,119.6 222.4,120.5 222.4,121.0 222.5,121.7 222.5,122.5 222.6,122.6 222.6,123.6 222.7,123.9 222.7,124.0 222.8,124.5 222.8,125.5 222.8,125.6 222.9,125.8 222.9,126.8 223.0,127.9 223.0,128.4 223.1,128.1 223.1,128.5 223.2,129.8 223.2,130.6 223.3,130.9 223.3,131.0 223.3,131.2 223.4,132.4 223.4,132.5 223.5,133.5 223.5,133.7 223.6,133.9 223.6,134.8 223.7,135.7 223.7,136.4 223.8,136.5 223.8,137.1 223.8,137.6 223.9,138.6 223.9,139.5 224.0,139.2 224.0,139.7 224.1,140.3 224.1,140.9 224.2,141.5 224.3,142.4 224.4,143.0 224.5,143.3 224.6,143.8 224.7,144.4 224.8,144.9 224.9,145.6 225.0,146.3 225.1,147.0 225.5,147.6 225.7,146.9 225.8,146.3 226.0,145.4 226.1,145.4 226.2,145.5 226.3,144.2 226.4,143.0 226.5,142.9 226.6,142.5 226.7,142.0 226.8,140.8 226.9,140.7 227.0,140.1 227.1,139.9 227.2,139.5 227.2,140.2 227.3,140.1 227.4,140.6 227.4,141.2 227.5,142.2 227.6,143.1 227.6,143.7 227.7,144.2 227.8,144.4 227.8,145.7 227.8,146.2 227.9,146.8 227.9,147.3 227.9,148.4 228.0,148.2 228.0,148.7 228.0,149.7 228.1,149.5 228.1,150.1 228.1,150.7 228.1,151.4 228.2,152.3 228.2,152.2 228.2,153.4 228.3,153.0 228.3,153.4 228.3,154.5 228.4,155.0 228.4,155.3 228.4,156.4 228.5,157.2 228.5,157.3 228.5,157.4 228.6,158.2 228.6,158.6 228.6,158.7 228.7,159.9 228.7,160.1 228.7,160.8 228.8,162.1 228.8,162.0 228.8,163.1 228.9,163.6 228.9,163.6 228.9,164.6 229.0,165.1 229.0,165.4 229.0,165.8 229.1,166.3 229.1,166.6 229.1,167.7 229.2,168.8 229.3,169.1 229.3,169.3 229.4,170.0 229.5,170.4 229.6,171.3 229.6,172.2 229.7,172.3 229.8,172.1 229.9,173.0 230.0,173.2 230.3,173.1 230.5,171.8 230.7,171.5 230.8,171.4 231.0,171.0 231.1,169.6 231.3,169.3 231.4,169.2 231.5,168.5 231.6,167.4 231.7,167.3 231.8,166.6 231.9,166.1 232.0,165.9 232.1,164.9 232.2,164.4 232.3,163.5 232.4,163.6 232.4,164.0 232.5,162.6 232.6,162.4 232.7,161.4 232.8,160.7 232.8,160.4 232.9,159.1 233.0,158.7 233.1,158.2 233.1,157.7 233.2,157.7 233.3,157.0 233.4,156.0 233.4,156.2 233.5,155.1 233.5,154.3 233.6,153.3 233.7,153.4 233.7,152.7 233.8,152.0 233.8,151.2 233.9,150.4 234.0,150.2 234.0,149.6 234.1,149.1 234.1,149.2 234.2,148.9 234.3,148.2 234.3,147.2 234.4,147.2 234.4,146.6 234.5,145.9 234.5,144.8 234.6,144.8 234.6,143.9 234.7,143.4 234.8,142.3 234.8,141.6 234.9,141.8 234.9,140.9 235.0,141.1 235.0,140.1 235.1,139.9 235.2,139.0 235.2,138.8 235.3,138.4 235.4,137.2 235.4,137.0 235.5,135.8 235.6,135.6 235.6,134.7 235.7,133.9 235.8,133.9 235.8,133.4 235.9,132.9 236.0,132.2 236.0,131.6 236.1,131.1 236.2,130.6 236.3,130.1 236.4,129.8 236.5,129.1 236.6,129.2 236.7,128.3 236.8,127.7 236.9,126.3 237.1,126.6 237.6,127.0 238.0,127.5 238.4,128.2 238.7,128.4 239.0,128.0 239.3,127.3 239.5,126.0 239.8,126.6 240.0,126.1 240.3,125.5 240.6,124.6 240.9,123.9 241.2,123.8 241.5,123.0 241.5,122.3 241.6,122.3 241.7,121.6 241.8,120.2 241.8,119.7 241.9,118.8 242.0,118.8 242.0,118.8 242.1,118.1 242.1,117.3 242.2,116.8 242.2,117.1 242.3,115.8 242.3,115.7 242.4,115.1 242.4,114.3 242.5,113.9 242.6,112.9 242.6,112.6 242.7,111.7 242.7,110.8 242.8,110.4 242.8,110.4 242.9,109.7 243.0,108.8 243.0,108.0 243.1,107.6 243.2,107.3 243.2,107.1 243.3,106.5 243.3,105.8 243.4,104.6 243.5,104.2 243.5,104.0 243.6,103.8 243.7,103.1 243.9,103.5 244.0,102.3 244.2,101.5 244.4,100.6 244.5,101.2 244.7,100.5 245.1,100.4 245.6,100.3 246.1,101.2 246.5,101.7 247.0,101.8 247.4,102.1 247.9,102.8 248.4,102.6 248.9,103.6 249.4,102.9 249.9,102.0 250.1,103.3 250.4,103.5 250.7,104.2 250.9,104.9 251.2,105.3 251.4,106.0 251.7,106.5 252.0,105.7 252.3,105.1 252.6,105.3 252.9,104.8 253.2,104.4 253.5,103.1 253.8,102.6 254.1,102.2 254.5,101.5 254.8,101.1 255.1,101.0 255.6,100.8 256.1,101.3 256.6,100.1 257.1,100.9 257.6,101.5 258.2,102.0 258.7,101.9 259.2,102.5 259.7,102.6 260.3,103.2 260.8,102.6 261.3,103.2 261.8,103.4 262.4,103.6 262.8,102.9 263.3,102.5 263.8,102.1 264.3,102.3 264.8,101.6 265.2,101.7 265.7,102.1 266.2,102.4 266.7,102.7 267.2,103.2 267.6,103.5 268.1,103.7 268.6,104.2 269.1,104.0 269.6,103.9 269.9,103.5 270.1,103.4 270.3,102.5 270.6,102.2 270.8,102.2 271.1,101.1 271.3,100.7 271.6,100.5 272.0,100.4 272.5,99.6 272.9,99.2 273.3,99.1 273.8,98.7 274.3,98.4 274.9,98.9 275.4,99.0 275.9,99.3 276.4,100.1 277.0,100.4 277.5,99.8 278.0,100.3 278.6,100.5 279.1,100.5 279.5,100.9 280.0,101.0 280.5,100.9 281.0,100.8 281.4,101.4 281.9,101.4 282.3,101.5 282.8,101.3 283.2,101.0 283.5,100.6 283.6,101.4 283.7,101.6 283.8,102.0 284.0,102.4 284.1,104.0 284.2,104.1 284.3,104.7 284.4,105.1 284.6,105.7 284.7,106.0 284.8,107.4 284.9,107.2 285.0,108.0 285.1,107.9 285.2,108.8 285.3,109.6 285.4,109.9 285.5,110.5 285.6,111.2 285.7,111.6 285.8,111.4 285.9,111.2 286.1,110.3 286.2,109.3 286.3,109.8 286.4,109.0 286.5,108.3 286.6,107.7 286.7,107.0 286.8,106.4 287.0,105.9 287.2,105.3 287.4,104.9 287.7,104.5 287.9,104.5 288.2,103.9 288.6,103.6 289.0,102.5 289.4,102.5 289.8,101.9 290.2,101.1 290.7,100.8 291.1,100.8 291.5,100.2 292.0,101.0 292.5,100.5 293.0,99.3 293.5,99.7 293.9,99.3 294.4,99.3 294.9,99.6 295.4,99.8 295.9,100.5 296.2,101.0 296.6,101.2 296.9,101.9 297.2,102.1 297.6,103.1 297.9,103.2 298.3,103.6 298.7,104.1 299.1,104.9 299.5,105.8 299.9,104.9 300.2,105.8 300.5,106.0 300.9,106.0 301.2,107.4 301.5,107.4 301.8,107.5 302.4,107.4 303.0,108.2 303.5,107.5 304.1,107.4 304.6,107.7 305.0,107.1 305.5,106.7 306.0,106.8 306.5,106.7 307.0,106.2 307.5,106.6 308.0,106.0 308.4,105.5 308.9,105.4 309.3,105.6 309.7,105.3 310.2,105.0 310.6,105.8 311.1,105.6 311.5,106.0 311.9,106.3 312.4,106.8 312.8,106.4 313.2,107.1 313.7,107.3 314.2,107.6 314.7,107.5 315.2,107.2 315.7,106.8 316.0,107.6 316.4,108.0 316.7,107.9 317.1,107.9 317.5,108.8 317.9,109.4 318.3,109.5 318.8,110.4 319.2,110.4 319.6,110.6 319.9,109.8 320.2,109.1 320.6,109.4 320.9,108.8 321.3,107.8 321.7,106.6 322.1,107.2 322.5,106.7 322.9,106.5 323.2,106.1 323.5,105.3 323.7,105.2 324.0,105.2 324.3,104.0 324.6,103.5 324.9,102.9 325.2,102.3 325.5,102.3 325.9,101.5 326.2,100.9 326.5,100.9 326.8,100.5 327.3,101.1 327.8,101.3 328.3,101.4 328.8,101.1 329.3,101.3 329.8,101.7 330.3,101.7 330.8,102.1 331.3,101.6 331.8,100.7 332.3,101.1 332.8,101.7 333.3,101.4 333.8,101.1 334.2,102.0 334.7,102.0 335.3,102.4 335.8,102.2 336.4,102.3 336.9,102.4 337.5,102.7 338.0,103.1 338.6,103.2 339.1,103.0 339.7,102.2 340.2,102.4 340.8,102.2 341.3,102.0 341.9,102.2 342.4,102.5 342.9,102.0 343.5,102.9 344.0,102.4 344.6,102.2 345.1,102.5 345.7,102.6 346.2,102.9 346.7,103.5 347.2,102.5 347.7,102.8 348.2,103.1 348.6,103.5 349.0,103.3 349.5,102.9 349.9,102.4 350.3,103.3 350.7,103.1 351.1,103.6 351.4,104.1 351.9,103.2 352.3,103.8 352.8,103.3 353.2,102.8 353.6,103.2 354.0,103.4 354.4,103.9 354.8,104.5 355.2,105.0 355.6,105.3 355.9,105.5 356.2,105.4 356.5,105.0 356.9,106.8 357.2,106.9 357.6,107.3 358.0,107.9 358.5,108.6 358.9,108.8 359.3,109.3 359.9,108.7 360.5,109.0 361.0,108.9 361.6,108.3 362.1,108.8 362.6,109.1 363.1,109.4 363.5,109.1 364.0,109.1 364.4,108.0 364.8,107.2 365.3,106.9 365.7,106.5 366.1,105.7 366.6,106.3 367.0,105.9 367.5,106.8 367.9,106.6 368.2,106.9 368.4,106.7 368.5,105.7 368.6,105.3 368.8,104.6 368.9,103.8 369.0,103.3 369.1,103.1 369.3,102.2 369.4,101.5 369.7,101.4 370.2,102.2 370.7,100.6 371.2,101.1 371.6,101.0 372.1,101.6 372.5,102.0 372.9,102.4 373.4,103.1 373.8,102.3 374.3,103.2 374.7,103.7 375.1,104.1 375.6,104.3 376.1,104.5 376.6,104.6 377.1,104.9 377.6,105.1 378.1,105.7 378.6,105.8 379.1,106.0 379.6,105.8 380.2,106.0 380.8,106.3 381.3,106.4 381.9,105.8 382.5,105.1 383.0,105.5 383.6,105.2 384.2,105.7 384.7,105.3 385.2,105.7 385.7,104.1 386.1,104.2 386.5,103.3 387.0,103.3 387.4,103.4 387.9,102.5 388.3,102.8 388.7,102.8 389.2,101.7 389.7,101.4 390.2,101.6 390.7,101.3 391.2,101.0 391.7,101.0 392.2,101.1 392.8,101.2 393.3,100.5 393.8,100.6 394.4,99.9 394.9,100.7 395.5,100.2 396.0,100.4 396.6,100.8 397.1,100.9 397.7,100.5 398.3,100.3 398.8,100.0 399.4,100.4 399.9,100.0 400.5,98.8 401.1,99.6 401.6,99.3 402.2,99.7 402.8,99.8 403.3,100.3 403.9,99.6 404.5,99.5 405.0,100.3 405.6,100.4 406.1,99.6 406.7,99.8 407.2,99.8 407.8,100.0 408.3,99.5 408.8,100.4 409.3,100.5 409.9,100.6 410.4,100.7 410.9,100.5 411.4,100.3 411.9,100.7 412.4,100.6 412.9,101.0 413.3,100.5 413.7,100.0 414.2,100.3 414.6,99.2 415.0,98.6 415.5,98.5 416.1,98.5 416.6,98.5 417.2,98.5 417.7,98.4 418.3,98.2 418.8,98.4 419.4,98.2 420.0,98.0 420.5,97.6 421.1,98.0 421.7,98.1 422.2,98.2 422.8,97.7 423.3,97.4 423.9,97.9 424.5,98.3 425.0,98.1 425.6,97.9 426.2,97.8 426.7,97.2 427.3,97.7 427.9,97.7 428.4,98.3 429.0,98.0 429.5,97.8 430.1,98.0 430.6,98.5 431.1,98.9 431.6,98.5 432.1,99.0 432.6,99.9 433.1,100.4 433.6,100.3 434.1,100.1 434.5,100.5 435.0,100.4 435.5,100.7 436.1,100.9 436.6,101.0 437.1,100.2 437.6,100.6 438.2,100.3 438.7,100.6 439.2,99.8 439.7,100.3 440.3,99.8 440.8,100.0 441.3,100.0 441.8,100.4 442.4,100.8 442.9,100.4 443.4,101.2 444.0,101.2 444.5,100.8 445.1,101.3 445.6,100.4 446.2,100.6 446.7,101.4 447.3,100.8 447.8,100.5 448.4,100.4 448.9,99.5 449.5,100.8 450.0,100.6 450.6,101.0 451.1,100.8 451.7,101.4 452.2,101.2 452.8,101.3 453.3,101.6 453.7,100.8 454.2,101.3 454.7,101.1 455.2,101.9 455.7,101.7 456.2,102.5 456.7,102.8 457.2,102.5 457.8,102.9 458.3,103.4 458.8,103.8 459.3,103.4 459.9,103.5 460.4,104.2 460.9,104.1 461.4,103.6 461.9,103.2 462.4,103.0 462.9,103.8 463.2,103.9 463.6,102.6 463.9,101.2 464.2,101.0 464.5,101.0 464.9,100.0 465.4,100.7 465.9,100.4 466.4,100.1 467.0,100.5 467.5,99.9 468.0,100.0 468.5,99.6 469.0,100.6 469.5,100.4 469.6,101.0 469.8,101.9 470.0,102.3 470.1,103.0 470.3,102.8 470.4,103.3 470.6,103.1 470.7,104.5 470.9,105.6 471.0,105.5 471.2,105.9 471.3,106.3 471.4,107.1 471.6,108.2 471.7,107.2 471.8,106.4 472.0,105.4 472.1,105.1 472.2,105.0 472.3,104.9 472.4,103.8 472.6,103.6 472.7,102.7 472.9,101.7 473.1,100.5 473.3,100.9 473.5,100.6 473.7,99.5 473.9,99.0 474.1,98.8 474.6,98.7 475.1,99.0 475.6,100.1 476.1,99.4 476.5,99.7 476.9,100.3 477.4,100.4 477.8,100.4 478.3,101.1 478.8,101.4 479.3,101.8 479.8,102.1 480.3,102.4 480.8,101.7 481.4,102.5 482.0,102.2 482.5,102.4 483.0,102.3 483.5,101.7 483.9,101.3 484.2,102.3 484.4,103.0 484.6,103.6 484.9,103.2 485.1,102.5 485.3,102.6 485.6,101.0 485.8,101.1 486.1,100.4 486.3,100.1 486.6,99.7 486.9,99.2 487.2,98.5 487.4,98.8 487.6,98.7 487.7,98.5 487.8,99.5 487.8,99.6 487.9,100.9 488.0,101.3 488.1,102.0 488.1,102.2 488.2,102.3 488.3,103.1 488.3,104.1 488.4,104.3 488.5,105.2 488.6,105.8 488.6,106.1 488.7,107.1 488.8,107.0 488.9,107.5 488.9,107.8 489.0,108.2 489.1,109.2 489.2,110.1 489.2,111.3 489.4,111.4 489.6,111.4 489.8,111.8 490.1,112.6 490.3,112.9 490.4,113.5 490.6,114.1 490.7,114.3 490.8,114.8 491.0,115.5 491.1,115.7 491.2,116.1 491.4,116.7 491.6,117.8 491.8,117.9 492.1,119.1 492.3,118.6 492.6,118.1 492.9,118.3 493.2,117.8 493.5,117.6 493.5,118.1 493.6,118.8 493.7,120.0 493.8,120.3 493.8,120.4 493.9,120.6 494.0,121.3 494.0,121.4 494.1,121.8 494.2,123.0 494.2,123.4 494.3,124.2 494.3,123.9 494.4,125.4 494.4,125.9 494.5,126.6 494.5,127.0 494.5,127.4 494.6,127.8 494.6,128.8 494.7,128.8 494.7,130.0 494.8,130.1 494.8,130.9 494.9,130.5 494.9,132.7 494.9,132.3 495.0,133.5 495.0,132.9 495.1,134.3 495.1,135.3 495.1,135.7 495.2,136.5 495.2,136.6 495.3,136.4 495.3,136.9 495.3,137.5 495.4,138.8 495.4,139.3 495.5,140.1 495.5,140.3 495.5,140.8 495.6,141.1 495.6,142.0 495.7,142.4 495.7,143.2 495.7,143.4 495.8,144.4 495.8,144.6 495.9,145.4 496.0,145.7 496.0,146.8 496.1,146.6 496.2,147.4 496.2,147.7 496.3,148.8 496.4,149.5 496.5,149.0 496.5,150.1 496.6,149.4 496.7,149.2 496.8,149.4 496.9,147.3 497.0,146.8 497.1,146.5 497.2,146.3 497.3,145.6 497.4,145.6 497.5,144.4 497.5,144.2 497.6,143.1 497.6,142.9 497.7,142.2 497.7,141.2 497.8,141.6 497.8,141.2 497.9,140.5 497.9,139.4 498.0,139.4 498.1,138.6 498.1,138.1 498.2,137.8 498.2,137.2 498.3,137.0 498.4,136.3 498.4,135.7 498.5,135.0 498.5,134.1 498.6,133.9 498.7,133.1 498.7,132.3 498.8,132.4 498.9,131.3 498.9,130.7 499.0,130.3 499.2,129.3 499.3,129.0 499.4,128.5 499.6,128.3 499.7,127.5 499.8,127.4 499.9,128.0 499.9,128.1 500.0,129.5 500.0,130.5 500.1,130.6 500.1,131.4 500.1,131.8 500.2,132.5 500.2,133.1 500.3,133.5 500.3,133.8 500.4,134.2 500.4,135.1 500.5,135.2 500.5,136.0 500.6,136.3 500.7,137.3 500.7,138.0 500.8,138.5 500.8,139.0 500.9,139.4 501.0,139.9 501.0,140.6 501.1,140.9 501.2,141.0 501.2,142.0 501.3,142.0 501.5,141.7 501.6,141.1 501.8,140.1 501.9,140.3 502.0,140.1 502.1,138.7 502.2,138.6 502.2,137.7 502.2,137.9 502.3,137.2 502.3,136.1 502.3,135.8 502.4,135.5 502.4,134.2 502.4,134.1 502.5,133.2 502.5,132.1 502.6,131.7 502.6,131.9 502.6,131.6 502.7,131.2 502.7,130.0 502.7,129.4 502.9,130.1 503.1,130.4 503.2,131.5 503.4,132.2 503.5,132.0 503.6,132.3 503.7,133.8 503.8,134.3 503.9,134.9 504.0,135.5 504.1,136.0 504.2,136.1 504.3,136.9 504.4,137.1 504.4,137.0 504.5,137.8 504.6,138.8 504.7,139.9 504.8,140.3 504.8,140.7 504.9,141.3 505.0,142.5 505.1,142.0 505.1,142.0 505.2,143.0 505.3,143.9 505.4,144.5 505.6,144.6 505.7,145.0 505.8,145.2 505.9,146.4 506.0,147.1 506.1,147.6 506.3,147.8 506.4,148.7 506.6,148.9 506.8,149.1 507.1,149.3 507.3,150.5 507.5,151.1 507.7,151.8 507.8,152.4 508.0,152.8 508.2,153.3 508.3,153.9 508.5,154.2 508.7,154.9 508.9,155.7 509.0,156.2 509.2,155.9 509.4,156.7 509.6,157.3 509.7,157.4 509.9,158.2 510.1,159.2 510.3,159.7 510.4,159.7 510.7,161.4 511.0,161.3 511.2,161.9 511.5,161.9 511.8,162.4 512.1,162.3 512.5,162.6 512.9,161.8 513.3,161.4 513.7,161.9 514.0,161.0 514.3,160.7 514.5,159.9 514.8,159.4 515.1,159.0 515.3,158.0 515.5,158.2 515.6,157.3 515.8,156.7 515.9,156.6 516.1,155.5 516.2,154.8 516.4,154.7 516.5,154.0 516.6,153.5 516.8,152.9 516.9,152.2 517.0,152.4 517.2,151.8 517.3,151.4 517.4,150.6 517.6,150.2 517.7,149.6 517.8,148.7 518.0,148.3 518.1,147.6 518.2,147.3 518.4,146.5 518.5,146.2 518.6,146.1 518.8,145.2 518.9,144.4 519.0,144.1 519.1,144.2 519.3,143.0 519.4,142.0 519.5,141.9 519.7,141.3 519.8,140.7 519.9,140.3 520.1,140.1 520.2,139.5 520.3,139.3 520.5,138.8 520.6,138.3 520.8,137.5 520.9,136.9 521.1,136.5 521.2,135.9 521.4,135.2 521.5,134.4 521.7,133.8 521.8,133.1 522.0,133.6 522.2,132.6 522.4,132.1 522.5,131.4 522.7,131.2 522.9,131.1 523.1,130.2 523.3,129.0 523.5,128.6 523.7,128.2 523.8,127.8 524.0,126.9 524.2,126.6 524.4,126.5 524.6,125.9 524.8,125.2 525.0,124.6 525.2,123.9 525.4,123.9 525.6,123.4 525.8,122.9 526.0,121.6 526.2,121.4 526.4,121.2 526.6,120.9 526.8,120.4 527.1,119.4 527.3,119.1 527.5,118.6 527.7,118.4 527.9,118.2 528.1,117.2 528.4,116.7 528.6,116.2 528.9,115.8 529.1,115.7 529.4,114.9 529.6,114.0 529.9,113.4 530.2,113.5 530.5,113.0 530.8,112.3 531.1,112.0 531.6,111.5 532.1,111.4 532.6,111.3 533.1,111.2 533.5,111.3 534.0,110.6 534.4,110.2 534.8,109.8 535.2,108.4 535.6,108.5 535.9,107.6 536.3,107.4 536.6,107.1 536.9,107.2 537.2,106.9 537.5,105.8 537.7,106.0 538.0,105.4 538.2,103.8 538.5,104.4 538.7,103.8 538.9,103.9 539.3,103.1 539.7,102.9 540.1,102.5 540.5,102.2 540.9,102.3 541.3,101.4 541.8,102.2 542.4,101.7 542.9,101.0 543.4,100.6 543.9,101.0 544.5,101.1 545.1,101.1 545.6,100.2 546.2,100.5 546.7,100.6 547.3,100.8 547.9,99.5 548.4,99.9 548.9,100.3 549.5,99.7 550.0,99.7 550.5,100.0 551.1,100.0 551.6,99.1 552.1,98.8 552.6,99.2 553.2,99.0 553.7,99.5 554.2,99.0 554.8,97.6 555.3,97.8 555.9,98.4 556.4,97.6 557.0,98.4 557.5,98.3 558.1,98.6 558.6,97.9 559.2,99.0 559.7,97.8 560.2,98.0 560.5,98.4 560.8,99.8 561.2,100.4 561.6,100.0 562.1,100.1 562.7,100.2 563.3,100.7 563.8,99.9 564.4,100.4 564.9,99.8 565.5,99.5 566.0,100.9 566.6,100.9 567.1,100.0 567.7,99.7 568.2,99.8 568.8,100.2 569.3,100.1 569.9,99.6 570.5,100.2 571.0,99.6 571.6,100.4 572.1,100.3 572.6,100.0 573.2,101.1 573.7,100.0 574.2,100.7 574.7,100.0 575.3,99.8 575.8,99.6 576.3,100.4 576.8,99.1 577.4,99.2 577.9,98.7 578.4,98.6 578.9,99.3 579.5,99.0 580.0,98.6 580.6,98.4 581.1,99.3 581.7,97.9 582.2,97.6 582.8,99.0 583.2,98.5 583.7,99.7 584.1,99.5 584.6,100.3 585.0,100.2 585.4,101.0 585.8,101.1 586.2,100.8 586.6,101.0 587.0,101.8 587.4,101.9 587.8,103.6 588.2,103.9 588.6,103.2 588.9,104.8 589.4,105.2 589.8,105.8 590.3,105.9 590.7,105.4 591.2,105.8 591.7,106.3 592.2,107.6 592.6,106.3 593.1,106.5 593.6,107.0 594.1,106.3 594.6,106.6 595.1,106.0 595.5,105.1 595.9,104.4 596.2,104.1 596.6,103.3 597.0,102.9 597.4,102.3 597.8,102.8 598.2,102.8 598.6,102.1 599.0,102.5 599.4,101.9 599.8,101.0 600.2,99.7 600.6,99.2 601.1,99.7 601.6,99.6 602.1,99.0 602.6,98.1 603.2,98.8 603.7,98.6 604.2,98.5 604.7,98.2 605.3,98.4 605.8,99.4 606.4,98.8 607.0,99.3 607.5,98.3 608.1,100.1 608.6,99.4 609.2,99.0 609.7,98.5 610.3,98.6 610.8,98.5 611.3,99.4 611.8,99.1 612.4,99.3 612.9,98.9 613.4,99.7 613.9,99.3 614.5,100.1 615.0,100.0 615.5,100.1 616.1,100.2 616.6,100.4 617.1,100.7 617.6,101.0 618.2,101.4 618.7,101.0 619.3,101.4 619.9,101.7 620.4,102.0 621.0,101.1 621.6,101.2 622.1,102.3 622.6,101.3 623.2,101.2 623.7,101.4 624.2,100.8 624.7,100.9 625.3,100.7 625.8,100.7 626.3,100.3 626.8,99.5 627.4,99.7 627.9,99.8 628.4,98.7 628.9,99.4 629.5,99.3 630.0,100.1 630.5,99.5 631.1,99.0 631.6,100.2 632.2,99.3 632.7,100.0 633.3,100.2 633.9,98.9 634.4,99.8 635.0,100.4 635.5,99.5 636.1,100.2 636.6,100.2 637.1,100.0 637.6,100.0 638.2,99.6 638.7,99.6 639.2,100.2 639.7,100.3 640.2,100.7 640.7,100.9 641.2,101.6 641.7,101.5 642.2,101.5 642.7,101.7 643.2,102.2 643.7,102.1 644.2,102.0 644.6,101.4 645.1,101.5 645.6,101.5 646.1,100.8 646.6,100.2 647.1,100.9 647.7,100.7 648.2,100.5 648.8,100.5 649.3,100.9 649.9,101.3 650.4,101.9 651.0,101.7 651.5,101.8 652.1,101.6 652.6,102.5 653.2,102.5 653.7,102.1 654.2,102.3 654.7,102.7 655.3,102.8 655.8,103.1 656.2,102.9 656.7,103.2 657.2,104.1 657.7,103.9 658.2,104.0 658.4,104.4 658.7,105.2 659.0,105.6 659.3,106.8 659.6,107.4 659.8,107.1 660.1,107.5 660.4,107.6 660.6,108.6 660.9,108.8 661.1,109.7 661.4,110.0 661.6,110.4 661.9,110.8 662.1,111.2 662.4,111.7 662.8,112.2 663.1,112.8 663.4,113.2 663.8,113.8 664.1,113.8 664.5,114.9 665.0,115.1 665.4,115.5 665.8,116.0 666.3,116.2 666.8,116.4 667.3,116.6 667.8,116.4 668.3,116.7 668.9,116.9 669.4,117.2 670.0,116.8 670.6,117.5 671.1,117.1 671.7,116.6 672.2,116.5 672.6,116.5 673.1,115.9 673.5,115.3 673.9,115.1 674.3,115.3 674.7,114.3 675.1,114.0 675.5,113.9 675.9,113.6 676.4,113.5 676.8,112.0 677.2,112.9 677.7,112.2 678.1,111.9 678.5,111.5 678.9,111.6 679.3,110.8 679.7,111.1 680.1,109.9 680.5,109.2 681.0,108.9 681.5,109.0 682.0,109.2 682.4,108.3 682.9,107.3 683.4,107.3 683.9,106.9 684.4,107.3 684.8,107.2 685.3,106.9 685.8,106.1 686.3,106.0 686.7,105.8 687.2,105.9 687.7,105.8 688.2,105.6 688.7,105.5 689.2,104.9 689.7,105.5 690.2,104.8 690.7,104.6 691.2,104.6 691.7,104.0 692.2,103.9 692.7,104.0 693.2,103.9 693.7,103.5 694.2,103.6 694.7,104.4 695.3,101.9 695.8,102.3 696.3,103.4 696.8,103.1 697.4,102.1 697.9,101.8 698.4,101.8 698.9,102.3 699.5,102.9 700.0,102.1 700.5,101.4 701.1,102.1 701.6,102.6 702.1,101.4 702.6,101.9 703.2,101.8 703.7,101.9 704.2,101.2 704.7,101.4 705.3,100.2 705.8,99.1 706.3,99.7 706.8,100.2 707.4,99.9 707.9,99.4 708.4,99.8 708.9,100.2 709.5,100.2 710.0,99.1 710.5,98.6 711.1,98.2 711.6,97.6 712.1,98.3 712.6,99.3 713.2,98.6 713.7,97.7 714.2,98.1 714.7,97.5 715.3,97.8 715.9,97.8 716.4,98.1 717.0,98.5 717.5,98.2" fill="none" stroke="#989898" stroke-width="1.6" stroke-linejoin="round" stroke-linecap="butt" />
<polyline points="31.0,92.8 31.5,92.9 32.1,92.7 32.6,92.4 33.1,92.7 33.6,92.3 34.1,92.1 34.7,91.7 35.2,91.5 35.7,91.3 36.2,90.7 36.8,90.5 37.3,90.3 37.9,90.5 38.5,90.6 39.0,90.6 39.6,90.7 40.1,90.4 40.7,90.8 41.2,90.8 41.7,91.0 42.2,91.0 42.8,90.9 43.3,90.9 43.8,91.2 44.3,91.8 44.8,92.0 45.3,91.9 45.7,92.4 46.2,92.1 46.7,93.0 47.1,92.8 47.5,93.2 47.9,93.8 48.3,94.0 48.7,94.2 49.1,94.8 49.5,95.2 50.0,95.6 50.5,96.0 51.1,96.1 51.6,95.7 52.1,96.3 52.6,96.7 53.2,96.5 53.7,96.6 54.3,96.2 54.8,95.8 55.4,95.6 55.8,95.5 56.2,95.3 56.6,94.9 57.0,94.7 57.3,94.3 57.7,94.3 58.1,93.8 58.6,93.1 59.1,92.9 59.6,92.6 60.1,92.3 60.7,91.8 61.2,92.2 61.7,92.0 62.3,92.1 62.8,92.3 63.4,92.1 63.9,91.8 64.5,92.4 65.1,92.0 65.6,91.9 66.2,91.7 66.7,91.5 67.3,91.5 67.9,91.9 68.4,92.2 69.0,92.4 69.6,91.8 70.1,92.1 70.7,92.3 71.3,92.1 71.8,92.1 72.4,92.3 72.9,92.5 73.5,92.8 74.0,92.4 74.6,92.4 75.1,92.7 75.7,92.8 76.2,92.9 76.7,93.1 77.3,93.1 77.8,92.3 78.4,93.3 78.9,93.8 79.5,94.8 80.0,94.7 80.6,94.6 81.1,94.4 81.7,94.9 82.2,95.4 82.8,95.0 83.3,94.7 83.9,95.4 84.4,95.6 85.0,95.1 85.5,95.6 86.1,95.3 86.6,95.2 87.2,95.8 87.7,95.7 88.3,95.0 88.8,95.2 89.4,95.8 89.9,95.1 90.5,95.9 91.0,95.4 91.6,95.3 92.1,95.3 92.7,95.6 93.2,96.4 93.8,95.6 94.3,96.4 94.9,96.0 95.4,96.0 96.0,95.3 96.5,94.7 97.1,95.5 97.6,96.1 98.1,95.1 98.7,96.0 99.2,96.5 99.7,97.3 100.3,95.1 100.8,95.9 101.3,96.2 101.8,96.8 102.4,96.9 102.9,97.3 103.4,97.7 103.9,97.4 104.5,97.6 105.0,97.4 105.5,97.6 106.1,98.1 106.6,98.2 107.1,97.8 107.6,98.3 108.2,98.4 108.7,98.5 109.2,98.3 109.7,98.2 110.3,98.3 110.7,98.1 111.2,98.1 111.7,97.7 112.2,97.8 112.7,97.3 113.1,97.1 113.6,97.1 114.1,96.9 114.6,96.6 115.0,96.7 115.5,95.9 116.1,95.7 116.7,95.7 117.2,95.5 117.8,95.2 118.3,96.2 118.9,96.3 119.5,95.6 120.0,95.5 120.6,95.4 121.2,95.7 121.7,95.5 122.3,94.8 122.9,95.2 123.4,95.6 124.0,95.3 124.5,95.0 125.1,94.8 125.6,94.7 126.2,94.1 126.7,94.5 127.2,94.3 127.6,94.1 128.1,93.4 128.5,93.4 128.9,93.1 129.5,93.2 130.1,93.1 130.6,93.0 131.2,93.0 131.8,93.4 132.3,93.9 132.9,93.5 133.4,93.5 134.0,93.4 134.6,93.0 135.1,93.4 135.7,93.4 136.2,93.4 136.8,93.8 137.3,93.6 137.9,93.3 138.4,93.6 139.0,93.6 139.5,93.5 140.1,93.9 140.7,93.9 141.2,93.8 141.8,93.6 142.3,93.6 142.9,94.2 143.4,94.2 143.9,94.3 144.5,94.0 145.0,93.6 145.5,93.3 146.1,93.2 146.6,93.4 147.1,93.3 147.7,93.0 148.2,92.8 148.8,93.0 149.3,93.3 149.9,93.2 150.5,93.2 151.0,92.7 151.6,93.1 152.2,92.7 152.7,93.1 153.3,92.7 153.9,92.6 154.4,92.2 155.0,92.3 155.5,92.7 156.1,92.7 156.6,92.8 157.1,92.8 157.6,93.0 158.2,93.1 158.7,93.3 159.2,93.1 159.7,93.2 160.3,93.6 160.8,93.5 161.3,93.5 161.8,93.7 162.4,93.7 162.9,94.0 163.4,94.1 164.0,93.8 164.6,94.2 165.1,94.1 165.7,93.8 166.3,94.1 166.8,94.2 167.4,94.2 167.9,93.8 168.5,93.4 169.0,93.4 169.6,93.6 170.1,93.1 170.7,93.3 171.2,93.7 171.8,93.7 172.3,93.6 172.9,93.1 173.4,93.8 173.9,93.9 174.5,93.9 175.0,93.9 175.5,94.0 176.1,93.8 176.6,94.6 177.1,94.6 177.6,94.7 178.2,94.6 178.8,94.4 179.3,94.6 179.9,94.7 180.5,94.9 181.0,94.6 181.6,94.9 182.1,95.3 182.7,95.5 183.2,95.7 183.8,95.9 184.3,96.1 184.9,96.4 185.3,96.9 185.7,96.9 186.2,97.5 186.6,97.5 187.1,97.5 187.5,97.5 187.9,98.7 188.4,98.4 188.9,99.1 189.5,99.2 190.0,99.0 190.5,99.1 191.1,99.5 191.6,99.1 192.1,99.9 192.6,99.8 193.2,100.2 193.6,100.5 194.0,100.6 194.4,101.2 194.7,101.5 195.1,101.8 195.5,102.5 195.9,102.9 196.3,102.9 196.8,103.6 197.4,103.8 197.9,104.2 198.4,104.0 198.9,103.8 199.5,104.3 200.0,104.3 200.5,104.0 201.1,104.2 201.6,104.2 202.1,104.1 202.6,104.3 203.2,104.0 203.7,103.9 204.2,103.6 204.7,103.1 205.1,102.9 205.6,103.1 206.1,102.7 206.6,102.5 207.1,102.2 207.5,102.1 208.0,101.5 208.5,101.0 209.0,101.0 209.5,101.1 210.0,100.4 210.5,100.6 211.1,100.2 211.6,100.4 212.0,100.2 212.2,101.4 212.5,101.6 212.8,102.0 213.2,101.9 213.8,102.0 214.4,102.6 214.8,101.6 215.2,101.6 215.7,101.2 216.1,100.5 216.6,100.1 217.0,100.1 217.4,99.5 217.9,99.6 218.3,99.1 218.6,99.0 218.8,99.5 218.9,100.1 219.1,100.8 219.2,100.9 219.4,101.7 219.5,102.1 219.7,102.4 219.8,103.2 219.9,103.6 220.0,104.2 220.2,104.8 220.3,105.5 220.4,106.0 220.5,106.3 220.6,106.6 220.7,107.4 220.9,108.0 221.0,108.6 221.1,109.0 221.2,109.3 221.3,110.5 221.4,110.9 221.5,111.0 221.6,111.7 221.7,111.9 221.8,112.7 221.9,113.4 222.1,113.8 222.2,114.4 222.2,114.8 222.3,115.5 222.4,116.2 222.5,116.4 222.6,116.9 222.7,117.6 222.8,118.3 222.9,119.0 222.9,119.5 223.0,119.9 223.1,120.5 223.2,120.9 223.3,121.4 223.4,121.9 223.4,122.2 223.5,123.0 223.6,123.5 223.7,123.9 223.8,124.7 223.8,125.3 223.9,125.8 224.0,126.5 224.1,126.9 224.1,127.4 224.2,127.8 224.3,128.5 224.4,128.9 224.5,129.5 224.6,129.9 224.8,130.9 224.9,131.3 225.0,132.3 225.1,132.2 225.2,132.9 225.4,132.6 225.6,132.6 225.9,131.9 226.0,131.1 226.1,130.5 226.1,130.1 226.2,129.6 226.2,128.8 226.3,128.4 226.3,127.9 226.4,127.1 226.4,127.1 226.4,126.3 226.5,126.0 226.5,125.2 226.6,124.7 226.6,124.0 226.7,123.7 226.7,123.1 226.8,122.9 226.8,121.8 226.8,121.3 226.9,121.1 226.9,120.5 226.9,120.1 227.0,119.3 227.0,118.7 227.1,118.2 227.1,117.6 227.1,116.8 227.2,116.9 227.2,116.0 227.2,115.5 227.3,114.8 227.3,114.2 227.3,113.8 227.4,113.4 227.4,112.9 227.5,112.2 227.5,111.1 227.5,110.3 227.6,109.9 227.6,109.8 227.6,109.2 227.7,109.0 227.7,108.3 227.8,107.4 227.8,107.1 227.8,106.5 227.9,106.1 227.9,105.4 227.9,104.9 228.0,104.3 228.0,103.6 228.1,103.6 228.1,102.7 228.1,102.0 228.2,101.3 228.2,100.9 228.2,100.7 228.3,99.9 228.3,99.3 228.4,98.5 228.4,98.0 228.4,97.9 228.5,97.2 228.5,96.8 228.6,96.2 228.6,95.5 228.6,94.9 228.7,93.9 228.7,94.1 228.8,93.1 228.8,92.6 228.8,92.0 228.9,92.0 228.9,90.9 229.0,90.3 229.0,89.9 229.0,89.3 229.1,88.8 229.1,88.3 229.1,87.2 229.2,86.9 229.2,86.7 229.2,86.1 229.3,85.8 229.3,85.6 229.3,84.4 229.4,84.3 229.4,83.7 229.5,83.6 229.5,82.1 229.6,81.7 229.6,80.9 229.7,80.8 229.7,80.6 229.8,79.8 229.9,79.2 229.9,78.9 230.0,78.6 230.0,78.1 230.1,77.3 230.2,76.3 230.4,76.1 230.5,75.2 230.6,75.4 230.7,75.9 230.8,76.0 230.8,76.3 230.9,77.6 230.9,78.0 231.0,78.3 231.0,79.1 231.1,80.0 231.1,80.3 231.2,80.8 231.2,81.6 231.3,81.9 231.3,82.7 231.4,83.2 231.4,83.4 231.4,84.0 231.5,84.7 231.5,85.2 231.6,86.3 231.6,86.5 231.6,86.9 231.7,87.2 231.7,88.0 231.8,88.6 231.9,89.2 232.0,89.8 232.1,90.4 232.2,91.0 232.2,90.6 232.3,89.7 232.4,89.1 232.4,88.3 232.5,87.5 232.6,87.6 232.6,86.9 232.7,86.5 232.7,85.6 232.8,85.1 232.9,84.6 233.1,83.9 233.2,83.5 233.3,82.9 233.5,82.4 233.6,82.0 233.7,81.6 234.0,81.1 234.2,80.3 234.5,79.7 234.7,79.4 235.1,79.2 235.5,78.5 236.0,78.4 236.3,77.5 236.5,77.4 236.8,76.8 237.1,76.5 237.4,75.9 237.7,75.5 238.1,75.0 238.5,74.4 238.8,73.7 239.2,73.4 239.5,73.4 239.8,72.5 240.1,72.0 240.3,72.2 240.4,72.4 240.5,73.2 240.6,74.2 240.7,74.7 240.7,75.2 240.8,75.7 240.9,76.2 241.0,76.7 241.0,77.5 241.1,77.7 241.2,78.7 241.2,78.8 241.3,79.1 241.3,80.1 241.4,80.4 241.4,81.4 241.5,81.7 241.5,82.7 241.6,82.6 241.6,83.6 241.7,83.9 241.8,84.5 241.8,84.9 241.9,85.7 242.0,86.0 242.1,87.1 242.1,87.0 242.2,87.7 242.3,88.0 242.4,88.3 242.5,89.0 242.5,89.9 242.6,90.5 242.8,91.2 243.2,91.2 243.5,91.5 243.9,91.6 244.2,92.6 244.7,92.2 245.1,92.0 245.6,91.4 246.2,91.9 246.7,91.4 247.3,91.3 247.9,91.1 248.2,91.4 248.6,92.4 248.9,92.7 249.3,93.2 249.6,93.1 249.7,92.2 249.9,92.0 250.1,91.4 250.3,90.5 250.4,90.3 250.6,89.5 250.8,89.2 251.0,88.7 251.1,88.1 251.3,87.6 251.5,87.3 251.7,86.9 251.8,86.4 252.0,85.8 252.2,85.9 252.3,86.1 252.5,86.5 252.6,87.2 252.7,87.3 252.9,87.9 253.0,88.9 253.2,89.5 253.3,89.8 253.4,90.0 253.6,91.2 253.7,91.3 253.8,92.0 253.9,92.3 254.1,92.9 254.2,93.9 254.3,93.9 254.5,94.9 255.0,94.9 255.5,94.8 256.0,95.2 256.4,95.3 257.0,95.9 257.5,96.0 258.0,96.2 258.6,96.5 259.1,96.3 259.6,96.9 260.1,97.1 260.7,97.1 261.2,97.3 261.7,97.7 262.2,96.8 262.8,97.2 263.3,97.1 263.8,97.6 264.3,97.5 264.8,97.8 265.2,96.6 265.7,96.4 266.1,95.9 266.6,95.6 267.1,95.7 267.5,95.4 268.0,95.0 268.5,94.6 269.0,94.7 269.5,94.4 270.0,94.0 270.4,93.7 270.9,93.7 271.4,93.6 272.0,93.3 272.5,92.9 273.0,92.9 273.6,92.8 274.1,92.5 274.6,92.2 275.1,92.0 275.7,91.2 276.2,91.8 276.7,91.7 277.2,91.6 277.8,91.9 278.3,91.6 278.8,91.2 279.3,92.2 279.7,92.4 280.1,92.5 280.6,92.6 281.0,92.8 281.4,93.7 281.9,93.8 282.3,94.3 282.8,94.5 283.2,94.6 283.5,94.2 283.7,94.1 283.8,93.8 284.0,92.6 284.1,92.2 284.3,91.3 284.4,91.2 284.6,90.3 284.7,89.6 285.0,89.7 285.3,88.9 285.5,88.4 285.8,87.9 286.1,87.7 286.5,87.9 287.0,88.2 287.5,88.6 288.0,88.7 288.4,89.3 288.8,89.7 289.2,89.7 289.6,90.0 290.0,90.8 290.4,90.9 290.9,91.1 291.3,92.2 291.8,91.6 292.2,92.0 292.7,92.2 293.2,92.5 293.7,92.8 294.2,92.7 294.7,93.3 295.3,93.3 295.8,93.7 296.3,93.2 296.8,93.5 297.4,93.0 297.9,92.8 298.4,92.8 298.9,92.2 299.5,92.0 300.0,92.2 300.5,92.1 301.1,92.4 301.6,92.2 302.1,92.0 302.6,92.7 303.0,92.4 303.5,92.8 304.0,93.2 304.5,93.3 305.0,93.8 305.4,94.0 305.9,94.4 306.4,94.4 306.9,94.6 307.3,95.0 307.7,95.6 308.1,96.0 308.5,96.5 308.9,96.9 309.3,96.7 309.8,97.3 310.3,97.3 310.8,97.7 311.2,97.4 311.6,96.6 311.9,96.4 312.3,96.4 312.7,95.5 313.0,95.0 313.3,94.7 313.6,94.3 313.9,93.8 314.2,92.9 314.4,92.6 314.7,92.8 315.0,92.1 315.4,91.8 315.7,91.4 316.1,90.5 316.4,90.2 316.8,89.9 317.2,89.7 317.7,89.4 318.2,89.1 318.7,89.0 319.2,89.1 319.7,89.1 320.2,89.4 320.7,89.4 321.2,89.5 321.8,89.6 322.3,89.4 322.9,89.8 323.4,89.7 323.9,89.9 324.4,90.6 324.9,90.6 325.3,91.0 325.7,91.8 326.2,91.6 326.6,92.0 327.1,92.1 327.5,92.8 327.9,93.3 328.4,93.4 328.8,93.8 329.4,93.8 329.9,93.4 330.5,93.8 331.0,93.3 331.4,93.1 331.7,92.8 332.1,92.2 332.5,92.3 333.0,92.2 333.4,91.8 333.9,91.3 334.3,91.4 334.9,91.1 335.4,91.6 335.9,91.2 336.4,90.6 337.0,90.6 337.5,90.9 338.1,90.7 338.7,91.0 339.2,91.6 339.8,91.2 340.4,91.4 340.9,91.0 341.5,90.8 342.0,90.9 342.6,91.2 343.2,91.3 343.7,91.0 344.3,91.3 344.8,91.6 345.4,92.0 345.9,91.8 346.4,92.0 346.8,91.8 347.3,91.4 347.7,90.9 348.2,90.9 348.6,90.9 349.0,90.8 349.5,91.6 349.9,91.9 350.3,92.2 350.7,92.4 351.1,93.3 351.4,93.4 351.9,93.6 352.3,93.7 352.8,94.3 353.2,94.6 353.6,94.8 354.0,95.3 354.4,95.7 354.8,96.3 355.2,97.1 355.6,97.1 356.0,97.1 356.4,97.1 356.8,98.0 357.2,98.6 357.7,98.7 358.2,98.5 358.8,98.8 359.3,98.4 359.8,98.9 360.2,97.8 360.7,97.5 361.1,97.1 361.5,96.9 361.8,96.6 362.1,96.1 362.4,95.7 362.7,95.0 363.0,94.8 363.3,93.8 363.7,93.9 364.2,94.2 364.6,93.4 365.0,93.0 365.5,92.7 366.0,93.3 366.5,93.2 367.0,93.0 367.5,93.2 367.9,93.3 368.3,92.7 368.8,92.3 369.2,91.9 369.6,91.5 370.1,91.6 370.5,91.2 371.0,91.1 371.4,90.4 371.9,90.3 372.4,90.3 372.9,90.0 373.4,89.2 373.8,89.5 374.3,89.1 374.7,88.6 375.1,88.3 375.6,88.2 376.0,87.8 376.4,87.8 376.9,87.4 377.4,86.8 377.8,86.8 378.3,86.2 378.8,85.6 379.4,85.6 379.9,86.5 380.5,86.1 381.1,85.5 381.6,86.1 382.2,86.0 382.7,86.2 383.2,86.2 383.7,86.4 384.1,87.0 384.6,87.0 385.0,87.5 385.4,87.6 385.9,88.2 386.3,88.7 386.8,88.8 387.2,89.0 387.7,89.3 388.2,89.5 388.7,90.0 389.2,90.1 389.7,89.9 390.2,89.9 390.7,90.7 391.2,91.3 391.7,90.8 392.2,91.2 392.8,91.5 393.3,91.8 393.8,92.3 394.4,92.1 394.9,92.6 395.5,92.6 396.0,92.5 396.6,93.0 397.1,93.4 397.7,93.1 398.3,93.5 398.8,93.4 399.4,93.1 399.9,93.1 400.5,93.4 401.1,93.1 401.6,93.0 402.2,93.1 402.8,93.0 403.3,93.2 403.9,92.8 404.5,92.6 405.0,92.8 405.6,92.7 406.1,92.7 406.7,92.9 407.2,92.8 407.8,93.4 408.3,93.7 408.7,93.7 409.2,93.9 409.7,94.1 410.2,94.5 410.7,94.5 411.2,94.6 411.8,95.1 412.3,95.5 412.9,95.3 413.4,95.6 413.9,95.4 414.5,95.2 415.1,95.4 415.6,94.7 416.2,94.9 416.8,94.9 417.3,95.0 417.9,94.9 418.4,94.6 418.9,94.5 419.5,94.6 420.0,94.8 420.5,94.7 421.1,94.5 421.6,93.9 422.1,94.4 422.7,93.8 423.3,93.7 423.8,94.0 424.4,93.8 424.9,93.3 425.5,93.9 426.1,93.4 426.6,93.5 427.2,93.4 427.8,93.2 428.3,93.7 428.9,93.2 429.5,93.3 430.0,93.1 430.5,92.9 431.1,92.7 431.6,93.2 432.1,92.9 432.6,92.6 433.2,92.6 433.7,92.3 434.2,92.1 434.7,91.6 435.3,91.9 435.8,91.9 436.3,91.5 436.8,91.4 437.4,91.4 437.9,91.5 438.4,91.5 438.9,91.7 439.5,92.4 440.0,92.1 440.5,91.7 441.1,91.8 441.6,91.8 442.1,92.1 442.6,92.2 443.2,92.1 443.7,91.8 444.3,91.7 444.8,92.0 445.4,91.6 445.9,91.2 446.4,91.0 447.0,91.4 447.5,91.1 448.1,90.8 448.6,90.9 449.2,91.5 449.7,91.3 450.3,91.6 450.8,91.3 451.4,91.1 451.9,91.9 452.5,91.8 453.0,92.0 453.5,92.0 454.0,91.1 454.5,91.3 454.9,90.9 455.4,90.4 455.9,90.7 456.3,91.0 456.8,91.3 457.2,91.9 457.6,92.3 458.1,92.8 458.5,92.7 458.9,93.2 459.4,93.2 459.9,93.5 460.5,93.4 461.0,93.4 461.6,93.9 462.1,93.3 462.6,93.3 463.1,92.9 463.6,92.3 464.1,92.5 464.6,92.5 465.1,92.5 465.7,92.1 466.2,91.9 466.7,92.2 467.2,92.4 467.8,92.4 468.3,92.4 468.8,92.1 469.4,92.5 469.9,92.2 470.5,92.5 471.0,92.6 471.5,92.3 472.0,92.2 472.5,92.1 473.0,92.3 473.5,92.2 474.0,92.5 474.5,92.8 474.9,93.3 475.3,93.6 475.7,93.9 476.1,94.4 476.5,94.8 476.9,95.1 477.1,95.5 477.4,96.4 477.7,96.7 478.0,98.3 478.3,98.1 478.5,97.9 478.8,98.6 479.1,99.1 479.4,99.4 479.7,100.0 480.1,100.7 480.4,101.0 480.7,101.5 481.2,101.2 481.6,101.7 482.1,101.8 482.6,102.4 483.1,102.2 483.5,101.7 484.0,100.9 484.2,100.5 484.2,100.2 484.2,99.5 484.2,98.5 484.4,98.2 484.5,97.9 484.7,96.6 484.8,96.1 485.0,95.9 485.1,95.8 485.3,95.4 485.4,94.8 485.5,93.9 485.6,93.4 485.7,93.4 485.8,92.8 485.9,92.0 486.0,91.7 486.1,91.3 486.2,90.4 486.3,89.7 486.7,90.3 487.0,90.9 487.4,91.4 487.7,91.7 488.0,91.2 488.3,90.9 488.5,90.5 488.8,89.9 489.0,89.4 489.3,89.5 489.5,89.8 489.7,90.2 489.9,90.6 490.1,91.1 490.3,92.1 490.5,92.4 490.7,91.9 490.9,91.2 491.2,90.4 491.4,90.3 491.6,89.5 491.9,89.3 492.3,88.7 492.5,89.3 492.6,89.8 492.7,90.6 492.8,90.9 492.9,91.3 493.0,91.6 493.1,92.4 493.2,93.1 493.3,93.3 493.4,94.3 493.5,94.4 493.7,95.0 493.8,95.5 494.0,96.1 494.2,96.7 494.3,97.3 494.5,97.6 494.7,97.5 495.0,97.0 495.3,96.8 495.6,96.1 495.6,95.7 495.7,95.3 495.8,94.6 495.8,95.1 495.9,93.8 496.0,93.4 496.0,92.6 496.1,92.4 496.2,91.9 496.2,90.9 496.3,89.9 496.3,89.7 496.3,88.7 496.4,88.5 496.4,87.9 496.4,87.2 496.4,86.5 496.5,86.4 496.5,86.4 496.5,85.3 496.5,84.6 496.6,84.1 496.6,83.5 496.6,82.9 496.6,82.3 496.6,82.2 496.7,81.7 496.7,81.3 496.7,80.5 496.8,79.8 496.8,79.4 496.8,78.8 496.8,78.5 496.9,77.3 496.9,76.6 496.9,76.6 496.9,76.0 497.0,75.5 497.0,75.0 497.0,74.2 497.1,74.3 497.3,73.6 497.6,73.0 497.8,72.9 498.0,73.7 498.1,73.8 498.3,74.3 498.4,74.8 498.5,75.1 498.5,76.0 498.6,77.1 498.7,77.9 498.8,77.6 498.8,78.6 498.9,78.8 499.0,79.2 499.1,78.7 499.2,78.1 499.3,77.3 499.4,76.6 499.5,75.9 499.6,75.7 499.7,75.5 499.8,74.5 499.9,73.8 500.0,73.4 500.0,73.2 500.1,72.5 500.2,71.7 500.2,71.6 500.3,71.8 500.4,70.7 500.5,69.8 500.5,69.5 500.6,68.9 500.7,68.1 500.7,67.5 500.9,67.4 501.2,66.6 501.4,65.9 501.6,65.5 501.6,66.3 501.7,67.0 501.8,67.4 501.8,67.9 501.9,68.4 502.0,68.7 502.0,69.7 502.1,70.1 502.2,70.7 502.2,71.2 502.3,71.6 502.3,72.4 502.4,73.0 502.5,73.2 502.5,73.8 502.6,73.8 502.6,74.8 502.7,75.7 502.7,76.1 502.8,77.0 502.8,76.9 502.9,77.2 502.9,78.0 503.0,78.5 503.0,79.4 503.1,79.6 503.2,80.2 503.3,79.5 503.4,79.2 503.5,78.3 503.6,78.2 503.7,77.3 503.8,76.9 503.9,76.7 504.0,75.9 504.1,75.4 504.1,74.8 504.2,74.7 504.2,73.8 504.3,73.2 504.3,72.9 504.4,71.9 504.4,71.8 504.5,71.2 504.5,70.8 504.6,70.4 504.7,69.7 504.7,69.1 504.8,68.1 504.8,68.0 504.9,67.5 504.9,66.7 505.0,66.2 505.1,66.1 505.1,65.1 505.2,64.4 505.2,64.1 505.3,63.5 505.4,62.9 505.4,62.2 505.5,62.0 505.5,61.3 505.6,60.6 505.7,60.1 505.7,59.4 505.8,59.4 505.9,58.8 505.9,58.2 506.0,57.8 506.1,57.3 506.2,56.2 506.3,55.8 506.3,55.6 506.4,55.2 506.5,54.3 506.6,53.9 506.6,53.1 506.7,52.8 506.8,52.5 506.9,51.9 507.1,51.2 507.3,50.6 507.5,50.2 507.6,49.4 507.8,48.3 508.1,48.5 508.5,49.6 508.9,49.3 509.2,49.5 509.4,48.3 509.6,47.8 509.8,47.3 510.0,46.7 510.5,46.7 511.1,46.7 511.5,47.0 511.9,47.4 512.3,47.8 512.7,48.2 513.2,48.8 513.6,49.0 514.0,49.4 514.3,50.7 514.6,50.9 514.8,51.2 515.0,51.0 515.3,52.0 515.5,52.5 515.7,52.9 515.9,53.5 516.1,53.8 516.3,54.4 516.6,55.8 516.8,55.8 517.0,56.1 517.3,56.4 517.5,56.7 517.8,57.5 518.0,58.0 518.2,58.4 518.4,59.0 518.6,59.9 518.8,59.8 519.0,60.7 519.2,61.0 519.4,61.8 519.6,62.0 519.8,62.4 520.0,62.9 520.2,63.3 520.4,64.6 520.6,64.9 520.8,65.3 521.1,66.1 521.3,66.0 521.5,66.4 521.7,67.4 521.9,67.6 522.1,67.8 522.3,68.4 522.5,69.2 522.7,69.7 522.9,70.0 523.2,70.3 523.4,70.4 523.6,71.3 523.8,71.8 524.0,72.6 524.2,72.9 524.5,73.5 524.7,73.9 525.0,74.4 525.2,74.1 525.4,75.0 525.7,75.6 525.9,76.2 526.2,76.7 526.5,77.5 526.7,77.8 527.0,78.2 527.3,79.0 527.6,79.1 527.9,79.7 528.1,80.1 528.4,80.6 528.8,81.4 529.1,81.4 529.5,82.2 529.8,82.5 530.2,83.2 530.5,84.6 531.1,84.3 531.6,83.9 532.1,83.6 532.6,83.8 533.2,83.9 533.7,84.1 534.2,84.2 534.7,84.5 535.1,84.8 535.5,85.1 535.9,85.3 536.3,86.3 536.7,86.2 537.0,86.6 537.4,87.2 537.8,87.1 538.2,88.1 538.6,88.7 538.9,89.0 539.4,88.6 539.9,89.1 540.4,89.3 540.9,89.6 541.3,90.4 541.8,90.5 542.4,90.7 542.9,90.9 543.4,90.6 543.9,90.8 544.5,91.0 545.0,91.0 545.5,90.9 546.1,90.8 546.7,90.7 547.2,91.4 547.8,91.3 548.4,91.6 548.9,91.1 549.5,91.5 550.0,91.9 550.5,91.8 551.1,91.9 551.6,92.0 552.1,92.1 552.6,92.1 553.2,92.5 553.7,92.6 554.2,92.7 554.8,92.7 555.3,92.5 555.9,93.0 556.4,92.9 557.0,92.8 557.5,93.3 558.1,93.3 558.6,93.5 559.2,93.6 559.7,93.2 560.3,93.4 560.8,93.1 561.3,92.8 561.9,93.0 562.4,93.0 563.0,92.8 563.5,92.9 564.1,92.7 564.6,92.3 565.2,92.9 565.7,92.6 566.3,92.2 566.9,92.3 567.4,92.8 568.0,92.5 568.5,92.6 569.1,92.5 569.6,92.3 570.2,92.9 570.7,92.5 571.3,92.6 571.8,92.5 572.4,92.6 572.9,92.4 573.4,92.7 573.9,92.6 574.5,93.3 575.0,93.0 575.5,93.4 576.1,93.6 576.6,93.3 577.2,93.5 577.8,93.4 578.3,93.6 578.9,93.3 579.5,93.9 580.0,92.9 580.6,93.6 581.1,93.9 581.7,94.0 582.3,94.1 582.8,93.8 583.4,94.1 584.0,94.2 584.5,94.7 585.1,94.5 585.6,95.0 586.2,95.3 586.7,95.5 587.2,94.9 587.7,94.7 588.2,94.3 588.7,94.0 589.1,93.8 589.5,93.3 589.9,93.1 590.3,92.7 590.7,91.9 591.2,91.7 591.7,91.5 592.2,91.6 592.6,91.4 593.1,91.5 593.6,91.8 594.1,91.9 594.6,92.1 595.1,92.6 595.5,92.2 596.0,92.5 596.4,92.7 596.8,93.2 597.4,93.5 597.9,93.3 598.4,93.4 598.9,93.8 599.5,93.8 600.0,94.0 600.6,93.9 601.2,94.0 601.7,93.9 602.3,94.1 602.9,93.6 603.4,94.2 604.0,94.5 604.5,94.0 605.1,94.1 605.6,94.0 606.2,94.2 606.7,94.6 607.3,94.5 607.9,94.1 608.4,94.0 609.0,93.9 609.5,94.2 610.1,94.2 610.6,94.2 611.2,94.5 611.7,94.4 612.3,94.3 612.8,94.1 613.4,94.2 613.9,94.4 614.5,94.2 615.1,94.3 615.6,94.1 616.2,94.0 616.7,94.4 617.3,94.1 617.8,94.0 618.4,94.1 618.9,94.3 619.5,94.0 620.0,93.9 620.6,93.7 621.1,93.4 621.7,93.7 622.3,93.4 622.8,93.3 623.4,93.4 623.9,93.1 624.5,92.9 625.0,93.3 625.6,93.2 626.1,93.4 626.7,93.6 627.2,93.8 627.8,94.0 628.3,94.1 628.9,93.2 629.4,93.6 630.0,93.5 630.5,93.7 631.1,93.7 631.6,93.6 632.2,93.5 632.7,93.4 633.3,93.4 633.9,93.6 634.4,93.3 635.0,93.5 635.5,93.6 636.1,93.2 636.6,93.3 637.1,93.0 637.6,93.3 638.2,93.3 638.7,92.8 639.2,92.8 639.7,92.5 640.3,92.1 640.8,92.1 641.3,91.9 641.8,91.7 642.4,91.7 642.9,91.3 643.4,91.4 643.9,91.4 644.5,91.4 645.0,91.2 645.5,91.6 646.1,91.4 646.6,90.7 647.2,90.6 647.7,91.6 648.3,92.1 648.8,92.3 649.4,91.6 649.9,91.8 650.5,92.3 651.0,92.5 651.6,92.7 652.1,92.8 652.7,92.4 653.2,92.5 653.8,92.8 654.3,93.0 654.9,93.3 655.4,93.0 655.9,92.8 656.4,93.5 657.0,93.5 657.5,93.9 658.0,94.1 658.5,94.9 659.0,95.1 659.5,95.0 659.9,94.6 660.4,94.4 660.8,94.0 661.2,93.5 661.6,93.7 662.0,92.7 662.3,92.3 662.7,91.9 663.1,91.6 663.4,91.3 663.8,91.1 664.1,90.3 664.4,90.3 664.7,89.8 665.1,89.4 665.4,88.6 665.7,88.2 666.1,87.4 666.4,87.5 666.7,86.8 667.0,86.8 667.4,86.1 667.7,85.4 668.0,85.2 668.4,85.1 668.7,84.6 669.0,84.0 669.3,83.1 669.7,82.7 670.1,82.3 670.5,82.0 670.9,82.1 671.3,81.5 671.9,81.3 672.4,81.2 673.0,81.2 673.6,81.2 674.1,81.2 674.7,81.3 675.3,81.3 675.7,81.1 676.2,81.9 676.7,81.7 677.2,82.4 677.7,82.4 678.1,82.9 678.6,83.6 679.1,83.6 679.6,83.8 680.0,84.1 680.5,84.0 681.1,84.2 681.6,84.3 682.1,84.4 682.6,84.6 683.2,84.9 683.7,85.2 684.2,85.5 684.7,85.4 685.3,85.7 685.8,85.9 686.3,85.5 686.8,86.3 687.4,86.4 687.9,86.9 688.4,86.7 689.0,87.3 689.5,87.5 690.1,87.6 690.6,86.9 691.2,87.8 691.7,87.9 692.3,87.8 692.8,88.1 693.4,88.1 693.9,88.6 694.5,88.9 695.0,88.9 695.5,90.9 696.1,89.3 696.6,90.4 697.1,89.4 697.6,90.3 698.2,88.9 698.7,90.0 699.2,88.9 699.7,89.7 700.3,90.8 700.8,91.2 701.3,91.0 701.8,90.4 702.4,90.2 702.9,90.5 703.4,90.7 703.9,90.4 704.5,91.0 705.0,90.6 705.5,91.6 706.1,91.2 706.6,92.0 707.1,92.5 707.6,92.2 708.2,91.7 708.7,90.6 709.2,91.5 709.7,91.8 710.3,92.0 710.8,92.4 711.3,94.1 711.8,93.1 712.4,91.5 712.9,91.8 713.4,90.6 713.9,93.2 714.5,94.3 715.0,92.4 715.6,93.2 716.1,93.2 716.7,95.4 717.2,94.2" fill="none" stroke="#ff0000" stroke-width="1.7" stroke-linejoin="round" stroke-linecap="butt" />
<polyline points="31.0,94.1 31.5,94.1 32.1,93.8 32.6,94.2 33.2,94.1 33.7,94.5 34.3,94.5 34.8,94.3 35.4,93.9 36.0,94.2 36.5,93.9 37.1,94.1 37.6,94.4 38.2,94.4 38.7,94.3 39.3,93.9 39.8,93.3 40.4,94.0 40.9,93.5 41.5,93.8 42.0,94.2 42.6,94.1 43.2,94.0 43.7,94.1 44.3,94.0 44.8,93.8 45.4,93.5 45.9,94.0 46.4,93.9 46.9,93.7 47.4,94.8 47.9,95.2 48.4,95.5 48.8,95.7 49.3,96.2 49.8,95.9 50.3,96.6 50.8,96.4 51.2,97.1 51.7,97.3 52.2,97.4 52.8,97.6 53.3,97.6 53.8,97.9 54.3,98.4 54.8,98.2 55.3,98.1 55.8,97.9 56.3,97.5 56.7,97.3 57.2,96.2 57.5,95.5 57.9,95.5 58.3,95.0 58.7,94.4 59.0,94.2 59.5,93.9 60.0,94.2 60.5,94.1 61.1,93.7 61.6,93.5 62.1,93.6 62.7,93.3 63.3,93.1 63.8,93.2 64.4,93.2 65.0,93.3 65.5,94.0 66.1,93.5 66.7,93.8 67.2,94.5 67.8,94.1 68.3,93.6 68.9,93.4 69.5,93.5 70.0,93.3 70.5,93.9 71.1,94.0 71.6,93.8 72.1,93.9 72.6,94.4 73.2,94.4 73.7,94.1 74.3,93.6 74.8,94.2 75.4,94.3 75.9,94.5 76.5,95.5 77.0,95.5 77.6,95.3 78.1,94.7 78.7,93.4 79.2,94.7 79.8,95.2 80.3,94.6 80.9,92.6 81.4,92.9 82.0,93.7 82.5,96.6 83.1,94.5 83.6,95.7 84.2,95.7 84.7,97.1 85.3,95.5 85.8,95.9 86.4,95.9 86.9,96.7 87.5,95.6 88.0,94.6 88.6,96.8 89.1,97.6 89.6,94.9 90.2,96.9 90.7,96.2 91.3,96.2 91.8,96.7 92.4,98.3 93.0,95.0 93.5,97.0 94.1,98.2 94.6,98.8 95.2,96.9 95.7,95.5 96.3,95.0 96.8,97.3 97.3,94.0 97.8,97.2 98.3,96.7 98.8,97.0 99.2,96.1 99.7,98.7 100.2,98.2 100.6,101.2 101.1,101.5 101.5,100.1 101.9,101.4 102.4,99.6 102.9,103.0 103.5,99.4 104.1,100.7 104.6,96.6 105.0,99.2 105.4,100.1 105.9,99.2 106.3,98.1 106.8,97.6 107.2,97.9 107.7,98.0 108.2,97.2 108.7,97.1 109.3,97.2 109.8,97.0 110.3,96.9 110.8,95.8 111.4,96.4 112.0,95.9 112.5,95.6 113.1,96.1 113.6,96.3 114.2,96.3 114.7,96.7 115.2,96.8 115.7,96.7 116.2,97.0 116.7,97.6 117.2,97.5 117.8,97.9 118.3,98.3 118.8,98.2 119.3,98.4 119.9,98.4 120.4,98.4 120.9,98.0 121.4,97.6 122.0,97.7 122.5,97.4 123.0,97.2 123.5,96.7 124.0,96.5 124.4,96.7 124.9,95.8 125.4,95.4 125.9,95.3 126.5,95.6 127.0,96.0 127.6,95.2 128.1,95.1 128.7,95.0 129.2,95.4 129.8,94.9 130.4,95.4 130.9,95.2 131.5,95.1 132.0,94.5 132.6,95.3 133.2,95.6 133.7,95.8 134.3,95.3 134.8,95.5 135.4,95.9 135.9,95.5 136.5,95.1 137.0,95.0 137.6,94.9 138.2,94.8 138.7,94.6 139.2,94.8 139.7,95.0 140.3,94.7 140.8,95.1 141.3,93.9 141.8,94.3 142.4,93.6 142.9,93.8 143.4,93.8 143.9,93.6 144.5,93.3 145.0,93.6 145.5,93.9 146.1,94.6 146.6,94.4 147.1,94.1 147.6,94.5 148.1,94.7 148.6,95.0 149.0,95.5 149.5,95.3 150.0,95.9 150.5,96.0 151.1,96.0 151.6,96.1 152.2,96.4 152.7,96.4 153.3,96.3 153.8,96.4 154.4,96.3 154.9,96.1 155.5,96.4 156.0,96.6 156.6,96.5 157.1,96.0 157.7,96.1 158.3,95.1 158.8,95.4 159.4,96.1 160.0,95.8 160.5,95.8 161.0,95.6 161.5,95.4 162.0,94.3 162.6,94.6 163.1,94.1 163.6,94.3 164.1,94.2 164.5,93.6 165.0,93.1 165.5,93.2 165.9,93.9 166.4,92.9 166.9,92.3 167.3,92.4 167.8,91.5 168.3,91.5 168.8,91.2 169.2,90.9 169.7,90.2 170.2,90.1 170.7,89.7 171.2,89.6 171.7,90.1 172.2,90.2 172.8,90.6 173.3,90.4 173.7,90.1 174.2,90.2 174.7,89.7 175.2,89.3 175.7,88.8 176.2,88.9 176.7,88.8 177.0,88.2 177.1,89.1 177.2,90.1 177.3,90.0 177.4,90.8 177.5,91.5 177.6,92.3 177.8,92.5 177.9,93.1 178.1,93.7 178.3,94.1 178.4,94.3 178.6,95.1 178.7,95.9 178.9,96.2 179.1,96.4 179.3,97.1 179.6,98.2 179.9,98.6 180.1,99.1 180.4,99.6 180.7,99.8 180.9,99.9 181.3,100.7 181.7,101.0 182.1,101.2 182.5,101.3 182.9,101.9 183.4,102.1 183.8,102.4 184.3,102.1 184.9,102.2 185.1,101.8 185.3,101.1 185.6,100.3 185.8,99.9 186.1,100.3 186.3,99.4 186.4,98.7 186.6,98.1 186.8,97.9 186.9,97.0 187.1,96.8 187.3,96.1 187.4,95.4 187.7,94.8 188.2,95.0 188.7,93.5 189.2,94.0 189.7,94.3 190.3,94.5 190.8,95.0 191.3,94.7 191.8,94.9 192.3,95.0 192.8,94.6 193.3,94.5 193.8,94.5 194.3,93.5 194.7,93.5 195.3,92.8 195.8,93.4 196.3,92.8 196.8,92.4 197.4,91.4 197.9,92.1 198.5,91.7 199.0,92.4 199.6,92.1 200.1,92.3 200.7,92.8 201.2,92.6 201.7,92.8 202.2,92.5 202.8,92.5 203.3,92.7 203.7,93.0 204.2,94.1 204.6,94.4 205.0,94.6 205.5,94.9 205.9,94.5 206.2,95.3 206.6,96.1 207.0,96.3 207.5,96.7 207.9,97.0 208.3,97.2 208.8,97.4 209.2,97.9 209.6,98.4 210.1,98.4 210.5,99.2 210.9,99.4 211.3,99.6 211.7,100.3 212.1,100.7 212.5,101.0 212.9,101.4 213.5,101.9 214.1,101.8 214.6,101.5 215.2,100.8 215.7,101.0 216.2,100.4 216.8,100.6 217.3,100.7 217.9,100.5 218.4,100.7 218.8,101.2 218.9,101.4 219.1,101.2 219.2,102.1 219.4,102.6 219.5,103.2 219.7,103.9 219.8,104.0 219.9,105.1 220.0,105.3 220.1,106.0 220.2,105.8 220.3,106.3 220.4,107.5 220.6,108.2 220.7,108.2 220.8,109.2 221.0,110.9 221.2,110.2 221.4,110.4 221.5,110.9 221.7,111.8 221.8,112.0 221.9,112.4 222.0,112.9 222.0,113.4 222.1,114.2 222.2,114.8 222.3,115.3 222.4,116.2 222.5,116.7 222.6,117.4 222.7,118.1 222.7,118.3 222.8,118.5 222.9,119.7 223.0,120.2 223.0,120.4 223.1,121.2 223.2,121.4 223.3,121.9 223.3,122.5 223.4,122.7 223.5,123.8 223.6,124.7 223.6,125.6 223.7,125.8 223.8,126.3 223.9,125.8 223.9,126.9 224.0,127.5 224.1,128.2 224.1,128.2 224.5,129.1 224.8,128.9 224.8,128.8 224.8,128.3 224.9,127.8 224.9,127.1 225.0,126.5 225.0,126.0 225.1,125.2 225.1,124.7 225.1,123.7 225.2,122.9 225.2,122.8 225.3,122.7 225.3,122.3 225.3,121.8 225.4,120.8 225.4,120.5 225.4,120.5 225.5,119.7 225.5,118.5 225.5,117.9 225.5,117.3 225.6,116.5 225.6,115.8 225.6,115.9 225.7,115.3 225.7,115.5 225.7,114.5 225.8,113.7 225.8,113.2 225.8,112.9 225.8,111.9 225.9,111.9 225.9,111.0 225.9,110.8 226.0,110.1 226.0,109.1 226.0,108.8 226.1,108.5 226.1,106.9 226.1,107.1 226.1,106.8 226.2,106.3 226.2,105.5 226.2,105.5 226.3,105.1 226.3,104.2 226.3,103.4 226.4,103.2 226.4,102.6 226.4,101.5 226.5,101.5 226.5,100.5 226.5,100.0 226.6,100.0 226.6,98.9 226.6,98.7 226.7,97.8 226.7,97.1 226.7,96.8 226.8,95.9 226.8,95.6 226.9,95.2 226.9,94.2 227.0,93.7 227.0,93.1 227.0,92.7 227.1,92.3 227.1,91.7 227.2,90.7 227.2,90.4 227.2,89.5 227.3,89.3 227.3,89.0 227.4,87.9 227.4,87.8 227.4,86.9 227.5,86.6 227.5,86.2 227.5,85.4 227.6,85.3 227.6,85.1 227.6,84.3 227.7,83.4 227.7,82.5 227.7,82.4 227.8,81.7 227.8,81.2 227.9,80.7 227.9,80.0 227.9,78.7 228.0,78.6 228.0,78.5 228.0,78.3 228.0,77.4 228.0,77.3 228.0,76.3 228.1,75.8 228.1,75.3 228.1,74.9 228.1,74.5 228.1,74.3 228.1,73.1 228.2,72.5 228.2,72.3 228.2,70.9 228.2,70.6 228.2,70.1 228.2,70.0 228.3,68.8 228.3,68.5 228.3,67.9 228.3,67.9 228.3,67.0 228.3,65.7 228.4,65.9 228.4,65.0 228.4,64.6 228.4,65.0 228.4,64.6 228.4,63.5 228.5,62.5 228.5,62.0 228.5,62.0 228.5,61.4 228.5,60.5 228.6,59.5 228.6,58.6 228.6,58.8 228.6,58.0 228.7,57.5 228.7,57.1 228.7,56.3 228.7,56.1 228.8,55.4 228.8,55.3 228.8,54.9 228.8,54.0 228.9,53.1 228.9,52.9 228.9,52.1 228.9,51.7 229.0,50.4 229.0,49.8 229.0,49.8 229.0,49.6 229.1,49.6 229.1,48.6 229.1,47.2 229.1,46.9 229.2,47.1 229.3,45.9 229.3,45.8 229.4,45.3 229.5,45.0 229.6,44.7 229.6,43.0 229.7,42.4 229.8,42.2 230.0,41.7 230.5,41.6 230.7,42.4 230.9,42.9 231.1,43.1 231.2,43.4 231.2,44.5 231.3,44.7 231.4,45.0 231.4,45.8 231.5,46.2 231.5,47.1 231.6,47.6 231.6,48.2 231.7,48.1 231.8,48.5 232.0,49.4 232.2,49.5 232.4,50.2 232.6,50.9 232.7,51.7 232.9,51.9 233.0,52.9 233.1,53.4 233.2,53.9 233.4,54.6 233.5,55.0 233.6,55.4 233.7,56.6 233.8,56.6 233.9,57.4 234.0,57.3 234.0,58.1 234.1,58.4 234.2,58.8 234.3,59.7 234.4,59.9 234.5,60.9 234.6,61.6 234.7,62.3 234.8,62.4 234.9,63.1 235.0,63.3 235.2,64.7 235.3,64.7 235.4,65.0 235.5,65.9 235.6,66.2 235.7,66.9 235.8,67.5 235.9,67.9 236.0,68.7 236.1,69.1 236.2,69.2 236.4,70.6 236.5,70.6 236.7,70.8 236.8,71.7 237.0,72.2 237.1,72.9 237.4,73.1 237.9,73.1 238.2,73.3 238.4,73.0 238.6,72.3 238.7,71.8 238.9,70.7 239.1,71.1 239.2,70.9 239.3,72.1 239.5,72.6 239.6,73.5 239.7,73.6 239.8,74.2 239.9,75.0 240.0,75.4 240.1,75.9 240.2,76.3 240.3,76.6 240.4,76.4 240.5,75.8 240.6,75.7 240.7,74.7 240.8,73.9 240.9,73.6 241.0,73.4 241.3,73.0 241.5,72.3 241.7,72.8 241.7,73.4 241.8,73.6 241.8,74.4 241.9,75.0 241.9,74.9 242.0,75.5 242.0,76.4 242.1,76.5 242.1,77.2 242.2,77.6 242.3,78.5 242.3,79.0 242.4,79.5 242.4,80.4 242.5,80.9 242.5,81.6 242.6,82.2 242.6,82.3 242.7,82.6 242.7,82.8 242.8,83.8 242.8,84.3 242.9,85.0 243.0,85.0 243.1,85.8 243.2,86.3 243.2,86.7 243.3,87.4 243.4,87.9 243.5,88.9 243.6,89.3 243.6,89.2 243.7,90.0 243.9,90.9 244.1,91.6 244.3,91.6 244.5,91.9 244.7,92.8 244.9,93.5 245.1,94.5 245.4,94.8 245.6,95.3 245.8,95.3 246.1,95.8 246.3,96.7 246.6,97.3 246.8,97.4 247.0,97.9 247.3,98.3 247.5,98.8 247.8,99.8 248.0,100.3 248.3,99.7 248.6,98.8 248.9,99.0 249.2,97.9 249.6,96.7 250.0,96.6 250.3,96.2 250.6,96.3 250.8,97.6 251.0,97.9 251.2,98.3 251.4,99.1 251.6,99.8 251.7,100.2 252.0,101.0 252.2,100.2 252.4,99.2 252.6,98.4 252.8,97.9 253.0,97.6 253.3,96.8 253.7,96.5 254.0,96.2 254.3,95.8 254.6,95.5 255.0,95.0 255.3,94.4 255.6,94.1 256.0,93.7 256.3,93.3 256.6,92.7 256.9,92.3 257.3,91.8 257.8,91.8 258.3,91.1 258.8,90.6 259.3,90.7 259.7,90.3 260.3,90.6 260.8,90.4 261.3,90.3 261.8,90.3 262.4,91.0 262.8,91.2 263.2,91.4 263.7,91.1 264.1,92.3 264.5,92.4 264.9,93.1 265.2,93.7 265.6,93.5 266.0,94.3 266.3,94.7 266.7,95.1 267.1,95.7 267.5,96.0 267.9,95.8 268.3,97.0 268.8,96.1 269.3,96.0 269.8,96.8 270.3,96.0 270.7,95.5 271.1,94.6 271.4,94.5 271.8,93.5 272.2,93.5 272.7,93.9 273.2,93.6 273.7,93.9 274.2,93.1 274.7,93.4 275.3,92.9 275.8,93.4 276.3,92.8 276.8,92.8 277.4,92.6 277.9,92.4 278.4,92.8 278.9,92.5 279.5,92.0 280.0,92.1 280.5,91.8 281.0,91.7 281.4,91.3 281.7,91.8 282.0,92.3 282.3,93.2 282.6,93.4 282.8,93.2 282.9,94.3 283.1,94.2 283.2,94.7 283.3,96.1 283.4,96.5 283.5,96.4 283.7,97.1 283.8,98.0 283.9,98.5 284.0,98.6 284.1,99.0 284.2,99.5 284.3,100.3 284.3,101.2 284.4,101.5 284.5,101.6 284.6,102.3 284.7,102.9 284.7,103.8 284.8,104.6 284.9,104.6 285.0,105.8 285.1,106.4 285.2,107.0 285.4,107.2 285.6,107.7 285.7,108.5 285.9,109.0 286.1,108.7 286.1,108.4 286.2,107.7 286.3,107.6 286.4,107.0 286.5,106.7 286.6,105.3 286.7,105.5 286.8,104.8 286.9,104.0 287.0,103.3 287.1,103.3 287.2,102.5 287.3,102.1 287.5,101.3 287.6,100.9 287.7,101.1 287.8,100.3 287.9,99.0 288.1,98.8 288.2,98.7 288.3,97.8 288.4,97.3 288.8,97.0 289.2,96.1 289.6,96.0 290.0,95.3 290.5,95.1 291.0,95.1 291.5,94.7 292.0,94.4 292.5,94.3 293.1,94.1 293.7,94.0 294.2,93.9 294.6,94.1 295.0,93.9 295.5,92.7 295.9,92.9 296.2,92.3 296.6,91.5 296.9,91.1 297.2,90.7 297.6,90.8 297.9,90.6 298.2,90.1 298.6,89.5 298.9,88.4 299.2,87.6 299.5,88.0 299.9,87.1 300.2,87.7 300.5,88.6 300.7,88.8 301.0,89.1 301.3,89.5 301.4,89.8 301.6,90.5 301.8,91.2 302.0,91.4 302.1,91.8 302.3,92.4 302.5,93.4 302.7,94.2 302.9,94.8 303.0,95.2 303.2,95.5 303.4,95.8 303.6,96.6 303.7,97.6 303.9,97.4 304.1,98.0 304.3,98.4 304.4,99.1 304.6,99.5 304.8,100.5 305.0,100.9 305.1,100.8 305.3,101.4 305.5,102.3 305.7,102.6 305.9,103.6 306.1,104.4 306.3,104.6 306.6,104.6 306.9,105.0 307.2,105.8 307.5,106.3 307.8,106.5 308.0,106.0 308.2,105.2 308.4,104.7 308.6,104.0 308.8,103.6 309.0,103.4 309.2,103.4 309.4,102.1 309.6,101.8 309.8,101.4 310.0,101.3 310.2,101.1 310.4,100.0 310.7,99.8 311.1,99.1 311.4,98.6 311.7,98.0 312.0,98.4 312.4,97.6 312.7,97.1 312.9,96.3 313.2,95.9 313.5,95.6 313.8,94.5 314.1,94.4 314.3,94.3 314.7,94.0 315.1,93.4 315.5,92.7 315.9,92.3 316.3,91.9 316.8,91.7 317.3,91.3 317.8,90.9 318.3,91.1 318.7,91.6 319.2,91.7 319.6,92.4 320.0,92.4 320.5,92.6 321.0,92.6 321.5,91.7 322.0,91.9 322.5,90.8 322.9,91.6 323.3,92.5 323.8,93.0 324.2,93.2 324.6,93.6 325.1,94.6 325.5,94.8 326.0,95.0 326.4,95.6 326.9,95.1 327.4,95.4 327.9,95.9 328.4,95.9 328.9,96.0 329.4,96.5 329.9,96.3 330.3,96.8 330.6,96.1 330.9,95.8 331.2,95.0 331.4,94.2 331.8,93.9 332.2,93.2 332.5,93.3 332.9,93.4 333.2,92.2 333.7,92.1 334.1,92.1 334.6,92.1 335.1,91.7 335.6,91.1 336.1,90.7 336.6,91.1 337.2,90.7 337.7,90.9 338.3,90.8 338.8,91.3 339.4,90.8 339.9,90.9 340.5,91.0 341.0,91.2 341.6,91.5 342.1,91.8 342.7,91.7 343.2,91.3 343.8,91.1 344.3,91.5 344.9,92.4 345.3,91.8 345.7,91.5 346.2,91.0 346.6,91.2 347.0,90.2 347.4,90.3 347.8,90.3 348.2,90.1 348.4,90.2 348.6,90.3 348.9,90.7 349.1,91.6 349.4,91.8 349.7,91.8 350.1,92.8 350.5,93.3 350.9,93.2 351.2,93.6 351.6,94.5 352.0,94.4 352.4,94.9 352.8,95.8 353.2,96.0 353.5,95.3 353.8,95.2 354.0,94.6 354.3,94.4 354.5,93.4 354.7,93.2 355.1,92.9 355.5,92.8 355.9,92.0 356.2,91.9 356.6,92.3 357.0,93.0 357.4,93.1 357.6,93.6 357.8,94.3 358.1,94.7 358.3,95.6 358.6,95.5 358.8,96.5 359.1,96.9 359.4,97.1 359.7,97.0 360.1,97.9 360.4,98.2 360.7,98.9 361.0,99.4 361.3,99.9 361.6,100.2 362.0,101.1 362.3,101.3 362.6,101.9 363.1,102.5 363.5,102.0 364.0,102.9 364.4,102.4 364.8,102.0 365.2,101.9 365.5,100.8 365.9,100.7 366.3,101.5 366.7,101.4 367.0,101.9 367.4,102.0 367.6,102.6 367.8,103.3 368.1,103.7 368.3,104.0 368.6,104.4 368.7,103.3 368.9,103.0 369.1,102.6 369.3,101.8 369.4,101.2 369.6,101.0 369.8,100.7 369.9,100.0 370.1,99.4 370.2,99.3 370.3,98.8 370.5,98.3 370.6,97.8 370.7,97.3 370.9,96.4 371.0,95.6 371.1,95.7 371.3,95.2 371.5,94.8 371.7,93.9 371.9,93.8 372.1,92.9 372.3,92.0 372.5,92.1 373.0,92.1 373.6,92.2 374.0,93.0 374.5,93.1 374.9,93.9 375.4,94.2 375.8,94.4 376.3,93.9 376.8,94.0 377.3,94.2 377.8,93.6 378.2,93.2 378.6,92.9 379.1,92.5 379.5,92.8 380.0,92.6 380.5,91.9 381.0,92.1 381.5,92.5 382.0,92.9 382.5,93.3 382.9,92.8 383.4,93.1 383.9,93.1 384.4,92.8 384.9,92.1 385.4,92.2 385.9,92.5 386.4,92.4 386.9,91.8 387.4,91.5 387.9,90.7 388.5,91.2 389.0,91.2 389.6,91.1 390.1,91.1 390.6,91.3 391.1,92.0 391.6,92.0 392.1,92.4 392.6,92.7 393.2,92.7 393.7,92.3 394.2,92.3 394.7,92.3 395.3,92.9 395.8,92.8 396.3,93.5 396.8,93.2 397.4,93.4 397.9,93.2 398.5,92.7 399.0,92.7 399.6,92.5 400.1,93.0 400.6,92.0 401.1,91.9 401.6,91.9 402.0,91.6 402.5,90.7 403.0,91.2 403.6,90.7 404.2,91.0 404.7,90.8 405.1,91.2 405.5,91.4 405.8,92.1 406.2,91.6 406.5,92.6 406.9,93.4 407.4,93.6 407.8,94.3 408.2,94.5 408.7,94.5 409.1,95.1 409.6,95.9 410.0,95.8 410.4,96.3 410.9,96.1 411.3,96.1 411.8,96.7 412.2,97.1 412.6,97.1 413.1,97.6 413.5,97.5 413.9,97.5 414.4,96.8 414.8,97.0 415.3,96.6 415.8,96.7 416.3,96.7 416.8,96.7 417.4,95.9 417.9,95.9 418.5,95.4 419.0,95.6 419.6,95.5 420.2,95.1 420.7,94.8 421.3,95.1 421.8,94.8 422.4,94.7 423.0,95.1 423.5,94.2 424.1,94.6 424.6,95.5 425.2,95.2 425.7,95.0 426.3,94.3 426.8,93.8 427.4,94.2 427.9,94.3 428.5,94.3 429.0,94.5 429.6,93.3 430.1,93.5 430.7,94.1 431.2,94.3 431.8,94.4 432.4,93.9 432.9,93.6 433.4,93.6 433.9,93.5 434.5,93.2 435.0,93.5 435.5,93.3 436.1,93.3 436.6,93.7 437.1,93.3 437.6,93.6 438.2,93.7 438.7,93.8 439.2,93.7 439.7,94.0 440.3,94.2 440.8,94.1 441.3,94.5 441.8,94.4 442.4,94.4 442.9,94.2 443.4,94.7 444.0,94.5 444.5,94.3 445.1,94.3 445.6,94.6 446.2,94.7 446.7,94.4 447.3,93.5 447.8,93.8 448.4,92.9 448.9,94.3 449.5,93.7 450.0,93.1 450.6,92.5 451.1,93.0 451.7,93.1 452.2,92.3 452.8,92.5 453.3,92.6 453.7,92.7 454.2,92.2 454.7,91.9 455.2,90.9 455.7,90.8 456.2,91.0 456.6,91.1 457.1,91.0 457.6,90.9 458.1,90.8 458.6,91.1 459.1,90.4 459.6,90.1 460.1,90.1 460.6,90.4 461.1,89.9 461.6,90.4 462.0,90.5 462.5,91.0 462.9,91.7 463.3,92.0 463.8,92.3 464.3,92.4 464.8,93.1 465.3,93.3 465.8,92.7 466.3,93.3 466.8,93.0 467.4,92.8 467.9,92.1 468.3,92.9 468.7,93.7 469.1,94.0 469.4,95.2 469.8,94.9 470.1,94.9 470.2,95.4 470.3,96.9 470.4,96.8 470.5,97.3 470.6,98.1 470.7,98.5 470.8,98.8 470.9,99.7 471.0,99.4 471.2,100.5 471.4,101.0 471.6,101.4 471.8,102.6 472.0,103.2 472.2,103.0 472.3,102.3 472.5,101.8 472.6,101.5 472.7,101.0 472.9,100.3 473.0,99.7 473.2,99.1 473.3,98.9 473.4,97.7 473.6,97.1 473.7,97.1 473.9,96.8 474.0,95.7 474.1,95.5 474.5,95.6 475.0,94.9 475.5,94.7 476.1,94.5 476.6,94.4 477.2,95.1 477.7,95.1 478.3,95.0 478.9,95.3 479.4,94.8 480.0,94.5 480.4,94.4 480.9,94.2 481.3,93.9 481.8,93.4 482.3,93.2 482.8,93.2 483.4,93.4 483.9,92.5 484.2,93.2 484.4,94.2 484.6,94.3 484.9,95.5 485.2,95.9 485.5,96.2 485.8,95.8 486.0,96.3 486.2,97.8 486.4,98.1 486.6,99.1 486.8,98.6 487.0,99.5 487.2,99.6 487.4,100.6 487.5,101.0 487.7,101.2 487.8,102.3 488.0,102.8 488.2,103.5 488.3,103.7 488.5,103.9 488.6,104.7 488.8,105.7 488.9,105.6 489.1,106.6 489.3,106.8 489.4,106.9 489.6,107.6 489.7,108.4 489.9,108.7 490.1,109.5 490.2,110.0 490.4,110.7 490.5,110.6 490.7,111.5 490.9,112.2 491.2,113.0 491.4,112.7 491.6,113.6 491.8,114.4 492.0,114.6 492.2,114.9 492.4,115.3 492.5,116.3 492.7,116.2 492.9,116.8 493.1,118.0 493.3,117.9 493.6,117.6 493.9,116.7 494.2,116.6 494.2,117.1 494.3,117.7 494.3,118.2 494.3,118.6 494.4,119.5 494.4,119.3 494.4,119.8 494.5,120.7 494.5,120.8 494.6,121.9 494.6,122.2 494.6,122.8 494.7,123.7 494.7,124.0 494.7,124.4 494.8,124.8 494.8,125.5 494.8,126.1 494.9,126.4 494.9,127.0 494.9,127.7 495.0,128.2 495.0,128.6 495.0,129.7 495.1,129.5 495.1,130.2 495.2,131.0 495.2,131.4 495.2,132.1 495.3,132.7 495.3,133.2 495.3,133.7 495.4,134.5 495.4,135.1 495.5,135.7 495.5,136.0 495.5,136.3 495.6,137.3 495.6,137.8 495.6,137.9 495.7,138.1 495.7,139.3 495.7,139.6 495.8,140.1 495.8,141.0 495.8,141.6 495.9,142.0 495.9,142.6 495.9,142.9 496.0,143.7 496.0,144.5 496.0,144.8 496.1,145.5 496.1,146.2 496.1,146.7 496.2,146.9 496.2,147.4 496.2,147.9 496.3,148.8 496.3,148.8 496.3,149.2 496.4,148.9 496.4,148.0 496.5,147.2 496.5,146.8 496.6,146.8 496.6,145.9 496.7,145.4 496.7,144.8 496.7,144.5 496.8,143.9 496.8,143.2 496.9,142.4 496.9,141.5 497.0,141.3 497.0,141.0 497.1,140.5 497.1,139.4 497.1,139.0 497.1,139.0 497.2,137.8 497.2,137.2 497.2,137.4 497.3,136.6 497.3,135.4 497.3,135.2 497.3,135.2 497.4,134.2 497.4,133.9 497.4,133.6 497.5,133.0 497.5,132.0 497.5,131.5 497.6,131.1 497.6,130.8 497.6,130.2 497.6,129.6 497.7,128.6 497.7,128.7 497.7,128.0 497.8,126.5 497.8,127.0 497.8,126.1 497.9,125.2 497.9,125.2 497.9,124.4 497.9,123.6 498.0,122.9 498.0,123.1 498.0,122.4 498.0,121.4 498.1,120.8 498.1,120.7 498.1,119.8 498.1,119.5 498.2,119.4 498.2,118.3 498.2,118.3 498.2,118.0 498.2,117.1 498.3,116.1 498.3,116.2 498.3,115.3 498.3,114.7 498.4,114.3 498.4,113.9 498.4,112.6 498.4,112.2 498.5,112.0 498.5,111.2 498.5,110.7 498.5,109.8 498.6,109.3 498.6,109.1 498.6,108.2 498.6,107.7 498.7,107.2 498.7,106.5 498.7,106.0 498.7,106.0 498.8,104.9 498.8,104.5 498.8,104.0 498.8,103.6 498.8,103.0 498.9,102.4 498.9,101.4 498.9,100.2 498.9,100.4 499.0,101.1 499.0,100.0 499.0,99.3 499.0,98.9 499.0,98.2 499.1,97.4 499.1,96.9 499.1,96.1 499.1,95.4 499.2,95.8 499.2,94.9 499.2,94.7 499.2,93.6 499.2,93.4 499.3,92.9 499.3,92.2 499.3,91.4 499.3,90.5 499.4,90.4 499.4,89.7 499.4,89.0 499.4,88.5 499.4,87.7 499.5,87.7 499.5,86.8 499.5,86.5 499.5,85.7 499.5,85.2 499.6,85.1 499.6,84.6 499.7,84.2 499.7,82.9 499.8,82.0 499.8,81.8 499.9,81.7 499.9,81.4 500.0,80.4 500.1,81.0 500.1,81.5 500.2,82.1 500.2,82.5 500.3,83.4 500.3,84.5 500.4,84.3 500.4,84.9 500.4,85.4 500.4,86.0 500.5,87.0 500.5,87.1 500.5,87.4 500.5,88.6 500.5,88.8 500.5,89.0 500.5,89.8 500.5,90.5 500.5,90.8 500.6,91.4 500.6,92.1 500.6,92.4 500.6,92.9 500.6,93.4 500.6,94.2 500.6,94.5 500.6,94.6 500.6,96.1 500.7,96.1 500.7,96.5 500.7,97.5 500.7,97.7 500.7,98.1 500.7,98.8 500.7,99.9 500.7,99.9 500.8,100.4 500.8,101.1 500.8,101.8 500.9,102.7 500.9,103.2 500.9,103.7 501.0,104.0 501.0,104.4 501.0,105.1 501.1,105.4 501.1,106.4 501.1,106.8 501.2,107.4 501.2,107.2 501.2,108.1 501.3,109.0 501.3,109.7 501.3,110.0 501.4,110.5 501.4,111.5 501.5,112.0 501.6,112.8 501.6,112.8 501.7,113.7 501.8,114.1 501.9,114.7 502.0,114.6 502.0,115.9 502.1,116.3 502.2,115.8 502.2,115.2 502.3,114.5 502.4,113.4 502.4,113.5 502.5,112.8 502.6,113.0 502.6,112.0 502.7,111.6 502.8,110.5 502.9,110.1 503.0,109.1 503.0,108.8 503.1,108.6 503.2,108.1 503.3,107.1 503.4,107.0 503.5,106.3 503.6,106.2 503.7,105.5 503.8,105.0 503.9,104.5 504.0,103.9 504.2,103.0 504.3,102.1 504.4,102.1 504.5,101.5 504.6,101.3 504.7,100.5 504.9,100.0 505.0,99.5 505.1,98.7 505.3,98.5 505.4,98.3 505.6,97.6 505.7,97.1 505.8,96.3 506.0,95.8 506.1,94.9 506.2,94.2 506.3,94.3 506.4,94.1 506.5,93.4 506.6,93.0 506.7,91.7 506.8,91.5 506.9,91.0 507.1,90.3 507.2,89.9 507.0,90.5 506.9,89.6 506.9,89.0 506.9,88.6 507.0,87.5 507.0,87.0 507.1,86.4 507.1,85.4 507.2,85.3 507.3,84.3 507.3,83.8 507.4,83.2 507.4,82.9 507.5,82.7 507.5,81.0 507.6,80.9 507.6,80.7 507.7,80.4 507.8,78.9 507.8,78.1 507.9,78.0 507.9,77.7 508.0,76.9 508.0,76.1 508.1,76.5 508.1,75.9 508.1,75.1 508.2,74.4 508.2,73.8 508.3,73.6 508.3,73.4 508.4,72.0 508.4,71.4 508.5,71.4 508.5,70.5 508.6,70.1 508.6,69.7 508.6,69.1 508.7,68.7 508.7,67.7 508.8,67.6 508.8,66.8 508.9,65.9 508.9,65.5 509.0,65.0 509.0,64.7 509.1,64.7 509.2,63.5 509.3,62.9 509.3,62.5 509.4,62.1 509.5,61.8 509.5,60.8 509.6,60.3 509.7,59.7 509.7,59.2 509.8,58.6 509.9,58.5 509.9,57.8 510.0,57.4 510.1,56.9 510.3,56.4 510.4,55.5 510.5,54.9 510.7,54.7 510.8,54.3 510.9,53.6 511.1,52.8 511.4,52.1 511.7,51.9 512.0,51.3 512.4,51.1 512.9,50.6 513.4,50.9 513.9,51.2 514.3,51.6 514.4,51.8 514.6,52.9 514.7,53.6 514.9,53.6 515.0,54.1 515.2,54.8 515.3,54.9 515.5,55.4 515.6,56.1 515.7,56.7 515.9,57.4 516.0,57.4 516.1,58.2 516.2,59.1 516.4,59.3 516.5,60.2 516.6,60.8 516.8,60.8 516.9,61.3 517.0,61.8 517.2,63.0 517.3,63.2 517.4,63.5 517.6,64.2 517.7,64.4 517.8,65.4 518.0,65.4 518.1,66.1 518.2,66.8 518.4,66.8 518.5,67.2 518.7,68.1 518.8,68.5 519.0,69.7 519.1,70.0 519.3,70.6 519.4,71.2 519.6,71.6 519.8,72.1 519.9,72.1 520.1,72.9 520.3,73.6 520.4,74.1 520.6,74.7 520.8,75.1 521.0,75.3 521.1,75.9 521.3,76.6 521.5,77.4 521.7,77.8 521.9,78.3 522.1,78.6 522.3,79.6 522.5,79.8 522.7,80.6 522.9,81.3 523.2,81.6 523.4,82.2 523.7,81.9 524.0,81.8 524.3,82.5 524.6,83.7 524.9,84.6 525.2,84.6 525.5,85.2 525.7,85.8 526.0,86.2 526.3,86.2 526.6,87.4 526.9,87.8 527.3,87.8 527.6,88.0 527.9,88.5 528.3,89.1 528.7,89.4 529.1,89.4 529.5,90.3 530.0,90.2 530.5,90.1 531.1,90.5 531.6,91.5 532.1,90.5 532.6,91.5 533.0,91.9 533.4,92.4 533.8,92.6 534.2,93.2 534.7,93.1 535.1,93.3 535.6,94.0 536.1,94.6 536.6,94.8 537.1,94.8 537.6,94.5 538.2,95.0 538.7,95.2 539.2,95.1 539.7,94.7 540.3,94.5 540.8,94.2 541.3,93.9 541.8,94.1 542.4,94.3 542.9,93.7 543.4,93.4 543.9,93.7 544.5,93.7 545.1,94.0 545.6,93.7 546.2,93.8 546.7,94.0 547.3,93.5 547.9,93.9 548.4,93.8 549.0,93.4 549.5,94.3 550.1,93.9 550.6,93.9 551.2,94.1 551.7,94.0 552.3,94.0 552.9,94.5 553.4,94.5 554.0,94.2 554.5,94.2 555.1,94.2 555.6,94.0 556.2,94.7 556.7,94.6 557.3,94.4 557.8,94.6 558.4,94.4 558.9,94.7 559.5,94.3 560.0,93.8 560.6,93.8 561.1,94.3 561.7,94.2 562.3,94.0 562.8,94.1 563.4,94.1 563.9,93.8 564.5,94.0 565.1,93.7 565.6,93.6 566.2,94.2 566.7,93.6 567.3,93.8 567.8,93.7 568.4,93.2 568.9,93.4 569.5,94.1 570.0,93.3 570.6,93.1 571.1,93.6 571.7,94.0 572.3,93.4 572.8,93.4 573.4,93.0 573.9,93.7 574.5,93.5 575.0,93.9 575.6,93.0 576.1,93.6 576.7,93.4 577.2,93.2 577.8,92.7 578.4,92.8 578.9,92.7 579.5,92.4 580.0,93.1 580.6,93.1 581.1,92.8 581.7,93.1 582.2,93.8 582.8,93.4 583.2,94.2 583.5,94.8 583.8,94.9 584.1,95.9 584.4,95.8 584.7,95.9 585.0,97.1 585.3,97.1 585.6,97.4 585.9,98.0 586.2,98.4 586.5,98.9 586.8,99.1 587.2,99.6 587.6,99.9 588.1,100.6 588.4,100.0 588.7,100.2 589.0,100.1 589.3,99.0 589.6,98.3 589.9,97.8 590.2,97.7 590.5,97.1 590.8,96.9 591.2,96.3 591.5,95.6 592.0,95.7 592.4,95.4 592.9,94.4 593.3,94.7 593.8,93.8 594.2,94.5 594.6,94.0 595.1,93.7 595.6,94.6 596.1,93.6 596.6,92.8 597.1,93.1 597.6,93.0 598.2,93.0 598.7,92.8 599.2,93.2 599.8,93.3 600.3,93.3 600.9,93.6 601.4,93.4 602.0,93.7 602.6,93.6 603.1,93.0 603.7,93.9 604.3,93.6 604.8,93.9 605.4,93.6 605.9,93.7 606.5,93.6 607.0,93.7 607.6,93.0 608.1,93.2 608.7,93.4 609.2,94.0 609.8,94.0 610.3,93.7 610.9,93.9 611.5,93.4 612.0,93.9 612.6,93.8 613.1,94.2 613.7,94.3 614.2,93.8 614.8,93.1 615.3,93.6 615.9,93.4 616.4,93.8 617.0,93.4 617.5,93.3 618.1,93.2 618.7,93.0 619.2,93.2 619.8,92.9 620.3,93.3 620.9,93.4 621.4,93.4 622.0,92.8 622.5,92.8 623.1,93.2 623.6,92.6 624.2,92.3 624.7,92.7 625.3,92.1 625.8,92.2 626.4,92.5 626.9,93.1 627.5,92.8 628.1,93.4 628.6,93.7 629.2,93.3 629.7,93.3 630.3,92.7 630.8,92.9 631.4,93.2 631.9,93.2 632.5,93.5 633.0,93.0 633.6,93.1 634.1,92.8 634.7,93.2 635.2,93.1 635.8,93.1 636.3,93.1 636.8,92.5 637.4,92.5 637.9,92.7 638.4,92.2 638.9,92.0 639.5,91.8 640.0,92.4 640.5,92.1 641.1,92.3 641.6,92.2 642.1,92.0 642.5,92.4 642.8,92.7 643.0,93.8 643.3,93.9 643.6,94.7 643.8,94.0 644.1,95.5 644.3,96.4 644.6,96.8 644.9,96.9 645.3,97.2 645.6,97.2 645.9,97.9 646.2,98.7 646.6,99.0 647.2,99.3 647.7,99.5 648.3,99.5 648.9,99.1 649.4,99.0 650.0,98.8 650.5,99.2 651.1,98.5 651.6,98.6 652.1,98.5 652.6,98.5 653.2,98.0 653.7,97.8 654.2,97.7 654.7,98.5 655.3,97.8 655.8,98.2 656.3,98.2 656.8,98.0 657.4,97.6 657.9,97.0 658.3,96.6 658.7,96.8 659.0,96.9 659.3,96.3 659.6,95.2 660.0,95.1 660.2,94.2 660.4,93.4 660.6,93.0 660.8,92.9 661.0,92.3 661.2,92.1 661.4,92.0 661.6,91.0 661.7,90.4 661.9,90.0 662.2,89.0 662.4,88.4 662.6,88.2 662.8,87.8 663.0,87.1 663.2,86.8 663.4,86.2 663.7,86.3 664.0,85.5 664.3,84.7 664.5,84.2 664.8,83.6 665.1,83.0 665.4,82.4 665.8,82.3 666.3,82.3 666.7,82.6 667.1,81.1 667.7,81.0 668.2,80.6 668.8,80.1 669.3,80.0 669.9,80.3 670.5,80.5 671.0,80.1 671.5,80.6 672.0,80.8 672.4,81.1 672.8,81.5 673.1,82.0 673.5,82.8 673.8,82.9 674.1,83.1 674.4,83.8 674.8,84.1 675.1,84.5 675.5,85.3 675.9,85.7 676.2,86.1 676.6,86.1 677.0,87.2 677.4,87.7 677.8,88.1 678.2,88.0 678.6,88.6 679.0,88.5 679.4,88.6 679.9,89.1 680.3,89.1 680.8,89.8 681.3,89.5 681.8,90.2 682.4,91.0 682.9,90.3 683.4,90.6 683.9,90.7 684.5,91.0 685.0,91.3 685.5,91.2 686.1,91.3 686.6,91.4 687.1,91.4 687.6,91.7 688.2,92.5 688.7,92.2 689.2,92.4 689.8,92.1 690.3,92.3 690.9,92.7 691.4,91.6 692.0,92.9 692.5,92.4 693.1,92.8 693.6,93.2 694.2,92.7 694.7,92.8 695.3,92.8 695.8,92.8 696.4,92.9 697.0,92.2 697.5,93.5 698.1,93.8 698.7,93.4 699.2,93.8 699.8,93.2 700.4,93.1 700.9,92.9 701.5,92.5 702.0,92.4 702.6,93.1 703.2,92.7 703.7,92.9 704.3,93.0 704.9,93.7 705.4,93.1 706.0,92.3 706.6,92.7 707.1,93.6 707.7,93.2 708.3,93.5 708.8,93.4 709.4,93.8 709.9,94.4 710.5,93.2 711.1,93.2 711.6,93.1 712.2,93.1 712.8,93.4 713.3,94.1 713.9,94.9 714.5,93.7 715.0,95.3 715.6,94.9 716.1,94.2 716.7,93.5 717.2,94.1" fill="none" stroke="#0000ff" stroke-width="1.7" stroke-linejoin="round" stroke-linecap="butt" />
<polyline points="31.0,96.9 31.5,97.1 32.1,96.5 32.6,96.3 33.2,96.8 33.8,96.6 34.3,96.8 34.9,96.0 35.5,96.6 36.0,96.7 36.6,95.8 37.1,96.2 37.7,96.5 38.3,96.6 38.8,96.4 39.4,96.4 40.0,95.8 40.5,96.1 41.1,96.4 41.7,96.1 42.2,95.8 42.8,95.7 43.3,95.5 43.9,95.1 44.5,94.7 45.0,95.3 45.4,95.5 45.9,94.6 46.4,93.9 46.9,93.7 47.3,94.3 47.8,93.8 48.2,93.8 48.7,93.2 49.2,93.7 49.7,93.6 50.2,94.2 50.6,94.4 51.0,94.9 51.4,95.6 51.8,95.8 52.2,96.3 52.6,96.6 53.2,96.7 53.7,96.7 54.2,96.4 54.7,96.6 55.3,97.4 55.8,97.1 56.4,96.1 56.9,96.0 57.5,96.0 58.0,96.1 58.6,95.7 59.1,96.5 59.6,95.9 60.2,95.9 60.7,96.3 61.3,95.6 61.8,94.8 62.4,95.5 62.9,95.3 63.4,95.5 64.0,95.4 64.5,95.7 65.1,95.8 65.6,96.2 66.2,95.0 66.7,95.6 67.3,95.2 67.8,95.8 68.4,95.5 68.9,95.7 69.5,95.1 70.0,95.2 70.6,94.1 71.1,94.4 71.7,94.9 72.2,94.9 72.8,95.8 73.4,96.1 73.9,95.2 74.5,95.5 75.0,95.5 75.6,95.4 75.8,95.6 76.1,95.6 76.4,99.6 76.6,92.7 76.9,95.2 77.2,92.0 77.5,95.0 77.7,93.4 78.0,98.8 78.3,98.1 78.5,96.9 78.8,87.6 79.1,96.9 79.4,83.8 79.6,93.6 79.9,96.0 80.2,92.8 80.5,91.6 80.7,97.5 81.0,92.8 81.3,98.3 81.5,92.4 81.8,89.9 82.1,94.3 82.4,95.4 82.6,95.9 82.9,93.3 83.2,94.6 83.4,94.9 83.7,92.6 84.0,90.6 84.3,100.5 84.5,93.6 84.8,94.1 85.1,92.7 85.4,88.3 85.6,96.9 85.9,91.3 86.2,95.1 86.4,93.8 86.7,95.2 87.0,100.7 87.3,96.3 87.5,91.3 87.8,97.7 88.1,93.7 88.3,96.2 88.6,91.8 88.9,91.5 89.2,96.2 89.4,93.7 89.7,96.9 90.0,94.5 90.3,94.3 90.5,93.6 90.8,97.9 91.1,91.7 91.3,92.4 91.6,96.8 91.9,93.4 92.2,97.4 92.4,93.4 92.7,95.3 93.0,97.0 93.2,96.0 93.5,94.4 93.8,97.9 94.1,90.0 94.3,98.7 94.6,96.7 94.9,97.8 95.2,92.9 95.4,93.7 95.7,94.2 96.0,91.1 96.2,94.8 96.5,95.8 96.8,98.5 97.1,93.8 97.3,91.8 97.6,92.2 97.9,89.4 98.1,94.9 98.4,94.8 98.7,93.0 99.0,94.8 99.2,95.7 99.5,91.6 99.8,97.0 100.1,89.8 100.3,91.7 100.6,94.3 100.9,92.3 101.1,96.0 101.4,95.6 101.7,94.7 102.0,92.4 102.2,91.1 102.5,94.7 102.8,95.7 103.0,92.6 103.3,92.9 103.6,90.3 103.9,98.7 104.1,91.3 104.4,93.2 104.7,92.5 105.0,92.9 105.2,95.7 105.5,95.2 105.8,93.7 106.0,100.2 106.6,95.0 107.2,94.2 107.7,94.2 108.3,95.2 108.9,95.5 109.4,94.7 110.0,95.0 110.5,95.0 111.1,95.3 111.7,94.1 112.2,95.3 112.8,95.3 113.4,94.7 113.9,95.9 114.5,94.9 115.0,96.2 115.5,95.9 116.0,96.3 116.5,96.7 117.0,97.4 117.5,99.0 118.0,98.0 118.5,97.7 119.0,98.6 119.5,98.4 120.0,98.3 120.5,97.9 121.1,97.7 121.6,97.6 122.1,98.3 122.6,97.3 123.2,98.4 123.7,97.7 124.1,96.6 124.6,96.6 125.1,96.7 125.6,96.7 126.1,96.0 126.6,95.6 127.1,96.5 127.6,96.6 128.2,98.1 128.7,97.6 129.2,97.4 129.8,97.7 130.4,97.5 130.9,97.4 131.5,96.9 132.0,98.1 132.6,97.3 133.2,96.4 133.7,97.2 134.3,97.2 134.9,97.5 135.4,97.2 136.0,97.5 136.6,97.3 137.1,98.2 137.7,97.4 138.3,98.1 138.8,97.4 139.4,97.6 139.9,98.0 140.5,97.2 141.1,97.5 141.6,97.2 142.1,96.8 142.6,96.7 143.2,96.9 143.7,97.1 144.2,96.4 144.7,96.5 145.3,96.0 145.8,95.7 146.4,96.1 146.9,95.5 147.5,95.8 148.0,95.9 148.5,95.6 149.0,95.6 149.5,95.8 150.1,95.0 150.6,97.3 151.1,96.5 151.6,97.3 152.1,97.2 152.6,98.1 153.1,98.4 153.6,98.2 154.1,98.4 154.6,97.9 155.0,98.5 155.5,98.9 155.9,99.8 156.4,99.2 156.8,100.5 157.2,99.4 157.7,99.2 158.1,98.9 158.6,98.0 159.0,99.2 159.5,98.3 160.0,98.0 160.5,98.0 161.0,98.0 161.4,98.5 161.8,98.6 162.3,99.2 162.7,99.0 163.2,99.2 163.6,100.5 164.0,100.7 164.4,101.1 164.8,100.0 165.2,100.7 165.6,101.5 166.0,102.0 166.4,101.6 166.9,102.7 167.3,103.5 167.8,104.1 168.2,103.1 168.7,103.6 169.3,103.2 169.8,104.1 170.4,104.5 170.8,103.8 171.2,102.9 171.6,102.4 172.0,102.0 172.4,101.7 172.7,101.9 172.9,101.6 173.2,100.4 173.5,100.7 173.8,99.6 174.1,99.3 174.3,98.2 174.6,97.9 174.8,97.5 175.0,97.3 175.3,97.2 175.5,96.6 175.7,94.8 176.0,94.8 176.2,94.6 176.5,94.1 176.8,93.9 177.1,93.6 177.5,92.8 177.8,91.9 178.1,92.1 178.5,91.2 179.0,92.2 179.5,91.5 180.0,91.9 180.3,93.4 180.6,93.4 180.9,94.1 181.2,94.6 181.5,95.2 181.8,95.5 182.4,95.8 182.9,96.1 183.4,96.3 183.9,96.6 184.3,95.5 184.6,96.8 184.9,96.7 185.1,98.0 185.4,98.8 185.7,99.2 185.9,100.3 186.1,100.6 186.2,101.0 186.4,101.4 186.6,101.2 186.8,102.7 187.0,103.2 187.1,103.4 187.3,104.0 187.5,104.4 187.9,105.2 188.4,105.7 188.8,105.5 189.3,106.0 189.7,106.0 190.3,105.6 190.8,106.1 191.3,106.3 191.8,105.5 192.3,105.5 192.6,105.4 193.0,105.1 193.4,104.3 193.7,103.6 194.1,103.7 194.5,102.6 194.8,102.3 195.2,102.1 195.6,101.1 196.0,100.9 196.3,100.7 196.7,101.4 197.2,100.6 197.8,99.6 198.3,99.3 198.8,100.1 199.3,99.7 199.9,99.6 200.4,99.2 200.9,99.1 201.4,98.7 202.0,98.5 202.3,98.0 202.6,97.8 202.9,97.4 203.2,96.6 203.5,96.1 203.8,95.8 204.1,95.0 204.4,94.7 204.7,94.3 204.9,94.4 205.2,93.6 205.5,93.0 205.8,92.6 206.2,92.9 206.8,91.7 207.3,91.5 207.9,92.2 208.4,92.3 208.9,91.6 209.5,92.4 210.0,92.5 210.5,92.6 210.9,93.2 211.3,93.8 211.7,94.0 212.0,95.4 212.4,94.3 212.9,94.3 213.4,95.6 213.9,95.6 214.4,95.9 214.8,95.7 215.4,95.9 215.9,96.4 216.4,96.8 217.0,97.1 217.5,96.3 218.0,97.0 218.6,96.3 219.1,97.4 219.7,96.0 219.8,97.4 220.0,97.5 220.1,98.3 220.3,99.2 220.4,100.1 220.5,100.1 220.6,100.6 220.7,100.8 220.8,101.7 220.9,102.2 221.1,103.0 221.2,102.7 221.3,103.4 221.4,103.8 221.6,105.4 221.8,106.0 222.1,106.2 222.2,105.4 222.3,104.9 222.4,105.0 222.4,104.5 222.5,103.8 222.6,103.4 222.7,102.6 222.7,101.9 222.8,101.5 222.9,101.2 223.0,100.0 223.1,99.7 223.2,99.3 223.4,98.6 223.4,99.7 223.5,101.4 223.5,100.3 223.6,101.4 223.6,102.0 223.7,101.7 223.8,102.1 223.8,102.8 223.8,103.2 223.9,104.1 223.9,104.3 223.9,105.0 224.0,106.1 224.0,107.4 224.1,107.4 224.1,107.7 224.1,107.9 224.2,109.0 224.2,109.1 224.2,109.6 224.3,110.2 224.3,110.9 224.4,111.8 224.4,111.9 224.4,112.6 224.5,112.9 224.5,113.3 224.5,114.0 224.6,114.3 224.7,114.7 224.7,115.7 224.8,116.9 224.9,117.1 225.0,117.3 225.0,118.1 225.1,118.6 225.2,119.1 225.2,118.6 225.3,119.7 225.4,120.9 225.4,121.1 225.5,122.4 225.6,121.9 225.7,123.0 225.7,123.7 225.8,124.1 225.9,124.1 226.0,124.7 226.0,125.5 226.1,126.5 226.2,126.6 226.3,127.0 226.4,128.0 226.4,127.8 226.5,128.4 226.6,129.0 226.7,129.8 226.7,130.5 226.8,131.1 226.9,132.4 227.0,132.6 227.1,133.1 227.1,133.4 227.2,133.7 227.3,134.4 227.4,135.2 227.4,136.1 227.6,137.1 227.7,137.2 227.9,137.5 228.0,137.7 228.1,138.5 228.3,138.7 228.6,139.3 228.9,137.6 229.0,137.3 229.1,137.7 229.2,138.2 229.2,138.6 229.3,139.2 229.4,140.7 229.4,140.5 229.5,140.1 229.6,141.6 229.6,141.3 229.7,142.4 229.8,142.9 229.8,143.0 229.9,144.5 230.0,145.1 230.0,145.3 230.1,146.1 230.2,146.5 230.2,146.8 230.3,146.7 230.3,148.1 230.7,147.9 231.0,148.5 231.1,149.5 231.2,149.7 231.2,150.4 231.3,150.7 231.3,150.6 231.4,152.3 231.4,153.0 231.4,153.5 231.5,153.6 231.5,154.0 231.6,153.6 231.7,152.7 231.7,152.3 231.8,151.1 231.8,150.5 231.9,151.0 231.9,150.0 232.0,149.5 232.0,148.5 232.1,147.7 232.2,147.6 232.2,147.7 232.3,146.2 232.4,146.1 232.4,145.3 232.5,144.6 232.5,144.5 232.6,144.4 232.7,143.7 232.7,142.8 232.8,142.5 232.8,142.1 232.9,140.8 232.9,141.0 233.0,139.4 233.0,138.0 233.1,138.8 233.1,137.6 233.2,137.5 233.2,136.6 233.3,137.3 233.3,136.6 233.4,135.2 233.4,134.4 233.5,134.0 233.5,134.2 233.6,133.5 233.6,132.7 233.7,132.1 233.7,131.8 233.8,131.6 233.9,130.1 233.9,129.9 234.0,129.9 234.0,128.6 234.1,128.1 234.1,127.6 234.2,127.0 234.2,126.8 234.3,125.9 234.3,125.6 234.4,124.6 234.5,124.6 234.5,123.7 234.6,123.7 234.6,122.8 234.7,122.4 234.7,121.6 234.8,120.5 234.9,120.1 235.0,119.9 235.0,118.8 235.1,118.7 235.2,118.4 235.2,118.1 235.3,117.2 235.4,117.0 235.4,115.8 235.5,115.8 235.6,115.2 235.6,114.1 235.7,113.1 235.8,113.1 235.9,113.1 235.9,112.3 236.0,111.5 236.1,111.4 236.1,110.7 236.2,110.2 236.3,110.0 236.3,108.9 236.4,108.1 236.5,107.8 236.5,107.5 236.6,106.8 236.7,105.9 236.8,105.4 236.8,105.7 236.9,105.0 237.0,104.4 237.0,103.4 237.1,102.9 237.2,102.7 237.2,101.7 237.3,101.4 237.4,100.9 237.4,100.2 237.5,99.7 237.6,98.9 237.7,98.4 237.8,98.0 237.8,97.6 237.9,96.8 238.0,96.2 238.1,95.4 238.2,95.1 238.3,95.1 238.4,94.0 238.5,93.2 238.6,93.1 238.8,92.3 238.9,91.8 239.1,91.5 239.3,90.3 239.5,90.2 239.7,89.6 240.1,89.2 240.3,89.5 240.3,90.6 240.4,90.3 240.4,90.7 240.5,91.0 240.6,92.1 240.6,92.6 240.7,93.3 240.8,93.8 240.8,94.1 240.9,95.0 240.9,95.4 241.0,95.3 241.1,96.3 241.2,96.7 241.3,97.6 241.4,98.6 241.4,97.9 241.5,98.6 241.6,100.7 241.7,102.0 241.8,101.2 241.9,101.7 242.0,101.5 242.1,102.3 242.2,103.0 242.3,103.6 242.4,104.0 242.5,104.3 242.8,104.0 243.1,105.2 243.3,105.8 243.4,104.6 243.5,104.5 243.7,103.7 243.8,103.1 243.9,102.3 244.2,103.2 244.4,102.5 244.6,100.9 244.9,100.5 245.2,99.9 245.5,99.8 245.8,99.1 246.0,99.0 246.3,97.6 246.5,97.2 246.7,96.9 246.9,96.3 247.1,95.9 247.3,96.4 247.5,95.8 247.8,95.2 248.0,94.6 248.3,93.4 248.5,93.9 248.6,95.3 248.8,95.8 249.0,96.0 249.2,96.9 249.5,96.7 250.0,97.4 250.5,96.8 250.9,97.7 251.3,97.2 251.7,96.7 252.0,97.2 252.3,96.7 252.7,96.0 253.2,96.4 253.6,94.9 254.0,96.1 254.5,96.7 254.9,96.9 255.4,96.6 255.8,97.4 256.2,98.7 256.7,98.3 257.2,99.1 257.7,99.5 258.2,99.5 258.7,99.0 259.2,99.2 259.7,99.9 260.1,99.6 260.7,99.7 261.2,100.7 261.8,100.3 262.4,101.0 262.9,100.7 263.5,101.1 264.1,101.7 264.6,99.3 265.2,99.6 265.8,99.7 266.3,100.6 266.8,100.8 267.2,100.9 267.6,102.3 268.1,102.0 268.5,102.0 268.9,102.4 269.4,103.3 269.8,103.2 270.1,103.5 270.3,102.4 270.6,101.9 270.8,101.9 271.0,101.0 271.2,101.1 271.5,100.6 271.7,99.5 272.0,98.8 272.3,98.9 272.6,98.7 272.8,98.0 273.1,97.3 273.4,96.6 273.8,96.6 274.3,95.4 274.8,96.1 275.3,96.4 275.8,96.2 276.3,95.7 276.8,95.5 277.3,95.2 277.7,95.6 278.2,95.1 278.7,95.3 279.2,94.2 279.7,94.4 280.1,94.9 280.5,95.6 280.9,95.0 281.2,95.9 281.5,95.9 281.8,95.6 282.0,95.4 282.2,95.1 282.4,93.7 282.6,93.0 282.8,93.5 283.0,93.7 283.2,92.7 283.5,91.6 283.7,91.1 284.0,90.7 284.2,91.0 284.3,90.9 284.5,92.0 284.7,92.7 284.9,92.8 285.0,93.3 285.2,94.3 285.4,94.5 285.6,95.6 285.8,96.7 286.0,96.4 286.2,96.5 286.4,96.7 286.6,97.2 286.9,97.7 287.1,97.0 287.4,96.9 287.7,96.6 288.0,96.0 288.5,95.8 289.0,96.4 289.5,96.1 290.0,96.6 290.5,96.4 291.0,96.1 291.5,96.2 292.0,95.3 292.5,95.5 293.1,95.3 293.7,93.9 294.2,94.6 294.7,94.9 295.2,95.1 295.7,94.6 296.2,94.3 296.7,94.0 297.2,94.0 297.6,94.5 298.1,93.2 298.5,92.8 298.9,92.6 299.3,92.5 299.7,91.6 300.0,91.4 300.2,91.3 300.4,90.4 300.6,88.7 300.8,87.8 301.0,88.3 301.2,88.2 301.4,87.9 301.6,87.2 301.8,86.5 302.0,85.8 302.2,85.2 302.4,84.9 302.8,84.5 303.3,84.1 303.8,83.3 304.1,84.4 304.3,84.5 304.5,85.7 304.8,86.3 305.0,86.8 305.2,87.0 305.4,88.0 305.6,87.8 305.8,88.1 306.0,88.6 306.2,89.0 306.4,89.9 306.6,90.3 306.8,90.8 306.9,91.4 307.1,92.5 307.2,92.7 307.4,93.7 307.5,93.9 307.7,94.6 307.9,95.3 308.0,95.8 308.2,96.3 308.4,96.5 308.6,96.9 308.7,97.9 308.9,98.5 309.1,98.7 309.3,99.5 309.5,100.2 309.7,100.2 309.9,100.9 310.1,101.2 310.3,101.9 310.6,102.0 310.9,102.8 311.2,103.1 311.5,103.5 311.8,104.9 312.1,104.3 312.5,105.1 312.8,105.6 313.2,105.6 313.5,105.6 313.8,105.6 314.0,105.2 314.3,105.1 314.5,104.6 314.8,103.9 315.0,103.1 315.5,103.8 316.1,103.9 316.5,105.1 316.9,105.4 317.3,105.6 317.6,105.6 317.9,106.4 318.2,107.2 318.5,106.5 318.8,107.9 319.1,108.3 319.4,107.8 319.7,107.1 320.0,106.8 320.3,106.0 320.6,105.8 321.0,105.3 321.4,105.0 321.8,104.1 322.1,104.3 322.5,103.6 322.9,103.1 323.1,102.5 323.4,102.0 323.6,101.5 323.9,101.1 324.1,100.8 324.3,99.7 324.6,100.2 324.9,99.5 325.1,99.1 325.4,98.7 325.7,97.8 326.1,97.6 326.5,97.5 326.8,97.6 327.2,97.0 327.6,98.0 328.0,98.7 328.4,97.9 328.8,98.8 329.1,99.2 329.4,99.4 329.8,99.9 330.1,99.3 330.6,100.5 331.1,100.2 331.6,100.0 332.1,99.6 332.6,99.4 333.2,99.3 333.7,99.1 334.2,98.7 334.7,98.7 335.3,98.8 335.8,98.7 336.4,99.0 336.9,98.7 337.5,98.4 338.0,98.9 338.6,99.2 339.1,98.7 339.7,98.7 340.2,99.2 340.8,98.6 341.3,98.4 341.8,98.7 342.4,98.9 342.9,97.9 343.4,98.5 343.9,97.6 344.4,98.3 344.8,97.2 345.2,97.8 345.6,96.2 346.0,96.5 346.4,96.3 346.7,95.7 347.1,94.8 347.5,94.1 347.7,95.0 348.0,96.2 348.2,96.5 348.5,96.6 348.7,96.9 349.0,96.9 349.4,96.1 349.8,95.7 350.1,95.4 350.3,96.3 350.4,97.4 350.5,97.3 350.7,97.7 350.8,98.8 350.9,99.0 351.1,99.6 351.2,100.5 351.3,100.7 351.4,101.3 351.6,101.5 351.8,102.6 351.9,102.2 352.1,103.3 352.2,103.0 352.3,102.5 352.4,101.6 352.5,100.6 352.5,100.2 352.6,99.6 352.7,99.0 352.8,98.6 352.9,98.6 353.0,97.5 353.1,97.0 353.2,96.3 353.3,96.6 353.4,95.7 353.4,94.7 353.5,94.1 353.6,93.6 353.7,92.9 353.8,92.2 353.9,91.5 354.0,91.8 354.2,91.1 354.4,91.0 354.6,89.6 354.8,89.1 355.0,88.5 355.2,89.2 355.4,88.1 355.6,87.3 355.9,86.9 356.1,86.9 356.4,85.5 356.6,86.0 356.9,86.3 357.1,84.7 357.4,84.3 357.7,83.6 358.0,83.5 358.6,83.7 359.1,83.3 359.6,84.2 360.1,84.8 360.7,85.9 361.2,84.4 361.6,83.8 362.1,83.2 362.6,83.7 363.1,84.1 363.5,83.9 364.0,84.5 364.4,84.8 364.8,85.2 365.2,85.4 365.5,86.4 365.9,86.5 366.2,87.1 366.4,87.6 366.6,87.6 366.9,88.4 367.1,89.3 367.4,89.9 367.7,90.5 368.0,90.2 368.3,90.8 368.6,91.8 368.7,91.3 368.9,91.9 369.0,92.8 369.2,94.0 369.3,93.4 369.5,94.4 369.6,95.1 369.8,95.4 370.0,96.3 370.1,97.2 370.3,97.2 370.4,97.7 370.7,98.0 370.9,99.5 371.2,100.0 371.4,99.9 371.7,99.8 372.1,100.9 372.6,101.0 373.1,99.1 373.6,99.0 374.1,99.6 374.7,99.2 375.2,99.0 375.8,99.0 376.4,98.7 376.9,99.5 377.5,99.3 378.0,99.3 378.5,98.8 379.0,98.2 379.5,98.6 380.0,97.9 380.5,97.9 381.0,97.6 381.5,98.1 382.0,97.5 382.6,98.5 383.1,98.0 383.7,97.2 384.2,97.8 384.8,97.0 385.4,96.7 385.9,97.3 386.5,97.4 387.1,97.8 387.6,98.9 388.2,98.3 388.7,97.2 389.2,96.7 389.7,96.3 390.3,95.9 390.8,96.6 391.3,96.1 391.8,96.6 392.4,96.7 392.9,96.1 393.4,96.1 393.9,95.9 394.5,96.1 395.0,96.4 395.5,95.7 396.1,94.7 396.6,95.2 397.1,94.7 397.6,95.5 398.2,95.0 398.7,95.1 399.2,94.8 399.7,94.5 400.3,93.9 400.8,95.5 401.3,94.8 401.8,94.7 402.4,93.9 402.9,94.5 403.4,95.7 403.9,95.3 404.4,95.1 404.9,96.1 405.3,96.1 405.8,96.7 406.3,96.6 406.8,97.0 407.4,96.8 407.9,96.9 408.4,96.6 408.9,97.4 409.5,97.0 410.0,98.4 410.5,97.6 411.1,98.8 411.6,98.9 412.1,98.5 412.5,97.9 413.0,97.0 413.5,97.5 413.9,97.2 414.4,96.6 414.8,96.0 415.3,96.3 415.8,95.4 416.3,95.9 416.8,95.4 417.4,96.1 417.9,95.5 418.4,96.2 418.9,95.4 419.5,96.0 420.0,96.2 420.6,95.7 421.1,95.1 421.7,95.0 422.3,95.5 422.8,95.1 423.4,95.4 423.9,96.3 424.5,95.2 425.0,95.2 425.6,95.5 426.1,95.1 426.7,94.8 427.2,94.9 427.8,95.1 428.4,95.5 428.9,94.8 429.5,95.1 430.0,95.4 430.5,95.0 431.1,94.4 431.6,93.8 432.1,94.3 432.6,94.1 432.9,93.4 433.2,93.2 433.5,92.8 433.8,92.6 434.1,92.5 434.5,91.5 434.9,91.5 435.3,91.3 435.8,91.0 436.3,90.3 436.8,90.8 437.1,91.4 437.5,91.9 437.8,92.1 438.2,92.3 438.6,93.0 439.0,92.4 439.5,92.4 440.0,92.6 440.5,93.5 441.1,93.3 441.6,93.9 442.1,94.2 442.6,93.6 443.2,94.2 443.7,94.0 444.3,94.0 444.8,94.1 445.4,94.3 445.9,95.0 446.4,94.4 447.0,94.9 447.5,94.7 448.1,95.1 448.6,94.9 449.2,94.4 449.7,94.5 450.2,93.9 450.7,94.0 451.2,94.0 451.7,93.4 452.1,93.9 452.5,93.1 452.9,92.9 453.2,91.9 453.5,91.6 453.8,91.2 454.2,91.0 454.6,90.3 455.1,90.2 455.6,90.3 456.1,90.3 456.6,89.9 457.1,89.8 457.5,90.2 458.0,91.1 458.5,90.6 458.9,90.2 459.4,90.2 459.8,90.1 460.3,88.8 460.8,88.8 461.2,89.1 461.7,88.6 462.2,88.2 462.8,88.6 463.4,88.4 463.9,89.1 464.2,89.0 464.5,89.6 464.8,89.0 465.1,90.4 465.4,90.9 465.7,91.4 466.1,91.7 466.5,92.4 466.9,92.3 467.3,93.3 467.7,93.2 468.2,93.4 468.7,93.0 469.2,92.5 469.5,92.2 469.7,91.9 469.8,91.0 469.9,90.9 470.0,89.7 470.2,89.6 470.3,89.6 470.4,88.5 470.5,88.5 470.7,87.4 470.8,86.2 471.0,86.7 471.1,86.2 471.2,85.5 471.4,84.9 471.5,84.8 471.6,84.3 471.7,86.0 471.9,85.8 472.0,86.4 472.1,86.9 472.2,88.0 472.3,88.7 472.4,89.0 472.5,89.9 472.6,89.9 472.7,91.1 472.8,91.5 472.9,91.8 473.1,92.4 473.2,92.9 473.3,93.1 473.4,93.9 473.6,93.7 473.9,94.3 474.2,94.8 474.4,95.3 474.7,95.9 475.3,95.2 475.9,95.6 476.4,95.4 477.0,95.4 477.5,95.3 477.9,95.4 478.4,94.6 478.9,94.7 479.3,94.4 479.8,93.7 480.2,93.5 480.7,92.1 481.2,92.5 481.6,91.8 482.1,91.8 482.6,91.8 483.2,91.3 483.7,91.3 484.0,91.2 484.1,89.5 484.2,89.5 484.3,90.5 484.6,90.3 484.8,91.0 485.0,91.0 485.3,91.9 485.7,91.4 486.2,91.2 486.6,91.7 486.9,91.6 487.1,91.3 487.3,92.2 487.4,93.7 487.6,93.3 487.8,93.8 488.0,94.0 488.1,94.4 488.3,94.8 488.4,95.4 488.5,95.9 488.7,96.4 488.8,97.5 488.9,97.5 489.1,98.1 489.2,98.7 489.3,99.4 489.5,99.9 489.5,100.6 489.6,101.2 489.6,101.0 489.7,101.8 489.8,103.4 489.9,103.9 490.0,104.1 490.2,104.0 490.3,104.9 490.5,105.3 490.6,105.6 490.7,105.2 490.8,104.4 490.9,103.9 491.0,103.9 491.1,102.1 491.2,102.4 491.3,101.8 491.4,101.2 491.5,100.8 491.6,100.0 491.6,98.8 491.7,98.6 491.8,98.6 491.9,97.7 492.0,97.1 492.0,96.7 492.1,96.2 492.2,94.9 492.3,94.8 492.4,94.8 492.5,94.5 492.6,93.1 492.7,92.9 492.8,92.8 492.8,92.5 493.1,92.3 493.3,92.4 493.5,92.4 493.7,92.0 494.0,91.3 494.2,91.1 494.3,90.1 494.3,90.3 494.4,89.5 494.5,88.8 494.5,88.4 494.6,86.9 494.7,86.7 494.7,86.4 494.8,86.1 494.9,85.4 494.9,85.7 495.0,84.7 495.1,83.5 495.1,82.9 495.2,83.1 495.3,82.2 495.4,80.8 495.4,80.6 495.5,80.3 495.6,80.3 495.6,80.5 495.7,81.2 495.7,81.6 495.7,81.3 495.8,82.6 495.8,82.7 495.9,83.7 495.9,84.1 496.0,84.5 496.0,85.0 496.0,85.8 496.1,86.0 496.1,86.9 496.1,87.2 496.2,87.8 496.2,88.8 496.2,88.8 496.2,89.0 496.2,89.9 496.3,90.8 496.3,91.3 496.3,91.9 496.3,92.7 496.4,93.1 496.4,93.4 496.4,94.3 496.4,94.5 496.4,95.4 496.5,95.9 496.5,96.8 496.5,96.5 496.5,97.2 496.5,97.9 496.6,98.0 496.6,98.4 496.6,99.5 496.6,100.2 496.8,99.7 496.9,100.5 496.9,101.8 496.9,101.6 497.0,102.0 497.0,102.7 497.0,102.7 497.0,103.9 497.1,104.7 497.1,105.9 497.1,106.0 497.1,106.6 497.2,107.1 497.2,107.7 497.2,107.8 497.3,108.4 497.3,109.6 497.3,110.4 497.3,110.8 497.4,111.0 497.4,111.4 497.5,111.8 497.5,112.3 497.6,113.6 497.6,114.1 497.7,114.5 497.7,115.0 497.7,115.5 497.8,116.0 497.8,117.1 497.9,117.5 497.9,117.7 498.0,118.7 498.0,118.5 498.1,119.4 498.1,120.2 498.2,121.0 498.3,120.6 498.4,121.9 498.5,122.7 498.6,122.9 498.7,123.3 498.8,123.1 498.9,123.4 498.9,124.7 499.1,124.3 499.2,123.5 499.3,122.8 499.4,122.6 499.5,122.1 499.6,121.5 499.7,121.0 499.8,121.0 500.0,121.0 500.2,121.5 500.3,122.2 500.5,122.1 500.6,123.1 500.7,123.4 500.8,124.4 500.9,124.4 501.0,125.3 501.1,126.3 501.1,126.4 501.2,127.1 501.3,127.8 501.4,127.2 501.5,126.5 501.5,125.7 501.6,126.0 501.7,125.7 501.7,124.8 501.8,124.4 501.8,124.0 501.9,122.9 502.0,122.1 502.0,122.3 502.1,122.3 502.1,120.7 502.2,120.3 502.2,120.2 502.2,119.8 502.2,118.9 502.3,118.4 502.3,118.0 502.3,117.9 502.3,116.9 502.4,116.5 502.4,115.9 502.4,114.8 502.4,113.6 502.5,113.3 502.5,113.1 502.5,112.4 502.5,112.6 502.6,111.7 502.6,111.7 502.6,110.8 502.6,109.9 502.7,108.6 502.7,108.7 502.7,108.3 502.8,107.4 502.8,107.0 502.8,106.5 502.8,106.5 502.9,106.4 503.2,106.6 503.4,107.5 503.6,107.7 503.7,108.8 503.8,108.6 503.8,109.7 503.9,110.5 503.9,110.5 504.0,110.9 504.0,111.5 504.1,112.3 504.1,112.7 504.2,113.5 504.3,114.5 504.3,114.7 504.4,115.1 504.4,115.3 504.6,115.8 504.7,116.0 504.8,116.6 505.0,116.9 505.1,117.1 505.2,117.9 505.4,118.2 505.5,119.1 505.7,120.2 505.8,120.4 506.0,119.4 506.3,119.2 506.5,118.8 506.7,118.6 506.9,118.9 507.0,119.6 507.1,119.5 507.3,120.3 507.4,120.8 507.5,121.2 507.6,121.6 507.7,122.0 507.8,122.6 508.0,122.4 508.1,122.7 508.3,122.1 508.4,121.2 508.6,120.5 508.7,120.0 508.9,119.7 509.0,119.0 509.1,118.5 509.3,118.3 509.4,118.2 509.5,116.8 509.7,117.0 509.8,116.2 509.9,115.8 510.2,115.1 510.5,114.5 510.8,114.0 511.1,113.9 511.5,113.6 511.9,113.2 512.2,112.9 512.3,111.9 512.5,111.4 512.6,110.8 512.8,110.0 512.9,109.3 513.1,109.5 513.4,108.8 513.8,108.3 514.2,107.9 514.7,107.7 515.3,107.2 515.5,107.8 515.7,108.7 516.0,109.2 516.2,109.1 516.4,109.3 516.5,111.0 516.6,111.6 516.8,110.7 516.9,111.2 517.0,112.5 517.2,112.9 517.3,113.4 517.4,113.8 517.6,113.0 517.7,112.1 517.8,111.2 517.9,111.3 518.0,111.0 518.2,110.1 518.3,109.2 518.5,109.0 518.6,108.5 518.8,108.0 518.9,107.7 519.1,107.2 519.2,107.2 519.4,107.4 519.5,109.4 519.7,108.7 519.8,109.5 520.0,110.0 520.1,109.7 520.4,109.8 520.7,111.6 521.0,113.2 521.3,112.4 521.5,111.7 521.7,111.7 521.9,110.5 522.1,109.6 522.3,109.7 522.8,109.1 523.2,110.1 523.7,108.8 524.2,109.1 524.7,108.1 525.3,107.8 525.7,107.8 526.2,107.8 526.6,107.2 527.0,107.0 527.4,106.6 527.8,106.3 528.2,106.1 528.7,104.9 529.2,105.2 529.7,104.5 530.2,104.5 530.7,103.9 531.1,103.9 531.6,103.6 532.1,102.9 532.6,103.0 533.2,102.9 533.6,103.5 534.1,102.5 534.5,101.8 535.0,101.3 535.4,101.7 535.9,101.2 536.3,100.0 536.6,100.8 536.9,98.5 537.3,99.8 537.6,99.3 537.9,98.2 538.4,99.1 538.9,97.7 539.5,97.6 540.0,97.7 540.5,97.4 541.1,97.7 541.6,97.8 542.1,97.1 542.6,96.6 543.2,97.3 543.7,97.2 544.2,97.5 544.7,96.3 545.3,98.4 545.8,98.4 546.3,97.8 546.8,96.7 547.4,98.1 547.9,97.7 548.5,96.1 549.1,97.4 549.6,96.7 550.2,97.8 550.7,98.0 551.3,96.6 551.8,96.0 552.4,97.4 552.9,98.1 553.4,97.9 553.9,97.5 554.5,97.3 555.0,96.1 555.5,95.9 556.1,96.5 556.6,97.0 557.1,96.5 557.6,97.4 558.2,96.9 558.7,95.7 559.2,95.6 559.7,96.1 560.2,98.0 560.5,96.9 560.8,98.1 561.2,97.5 561.6,97.6 562.1,96.9 562.7,97.1 563.3,97.5 563.8,97.9 564.4,97.3 564.9,97.0 565.5,97.4 566.0,96.3 566.6,96.7 567.1,97.6 567.7,97.4 568.2,97.4 568.8,97.9 569.3,97.3 569.9,97.5 570.5,95.1 571.0,96.5 571.6,96.3 572.1,97.2 572.6,96.4 573.2,95.5 573.7,96.2 574.2,97.2 574.7,95.5 575.3,95.4 575.8,95.5 576.3,95.7 576.8,95.6 577.4,96.0 577.9,95.8 578.4,95.0 578.9,95.5 579.5,93.5 580.0,94.6 580.4,94.0 580.8,94.1 581.3,93.7 581.7,93.1 582.1,93.0 582.6,91.6 583.1,93.6 583.6,93.2 584.1,93.3 584.5,94.3 584.8,94.0 585.2,95.3 585.5,95.1 585.8,94.0 586.2,95.1 586.5,96.0 586.9,96.9 587.3,97.1 587.7,97.5 588.1,97.5 588.4,98.3 588.7,97.8 589.0,99.1 589.3,100.1 589.6,100.6 589.8,100.4 590.1,101.0 590.5,100.4 590.9,101.1 591.2,102.2 591.6,102.9 592.0,102.6 592.5,102.7 593.0,103.5 593.5,102.8 594.0,103.9 594.4,102.3 594.8,102.3 595.2,102.7 595.6,102.3 596.0,102.1 596.4,101.1 596.7,100.7 597.1,101.9 597.4,99.9 597.8,99.9 598.2,98.8 598.6,99.0 599.0,98.2 599.5,98.1 599.9,98.6 600.4,97.8 600.9,98.3 601.4,97.9 601.9,96.9 602.4,96.4 602.9,95.8 603.4,95.8 604.0,96.4 604.5,96.3 605.1,96.0 605.7,97.6 606.2,95.6 606.8,97.0 607.4,96.6 607.9,96.4 608.5,97.2 609.1,96.8 609.6,95.1 610.2,95.4 610.8,95.9 611.3,96.2 611.8,96.1 612.4,96.2 612.9,96.4 613.4,95.9 613.9,95.5 614.5,97.4 615.0,98.3 615.5,97.1 616.0,97.0 616.5,98.0 617.0,97.8 617.5,99.6 618.0,98.4 618.5,98.5 619.0,99.1 619.5,98.1 620.1,99.8 620.6,99.8 621.2,101.0 621.7,99.3 622.3,100.3 622.9,99.3 623.4,98.3 623.9,99.1 624.5,99.3 625.0,97.8 625.5,98.7 626.1,96.9 626.6,95.4 627.1,98.6 627.6,99.5 628.2,100.1 628.7,98.5 629.3,97.6 629.9,95.8 630.4,97.5 631.0,94.9 631.6,97.6 632.1,96.6 632.6,98.8 633.2,98.2 633.7,95.2 634.2,96.8 634.7,97.1 635.3,93.8 635.8,97.0 636.3,97.3 636.7,95.4 637.2,94.8 637.6,92.2 638.1,93.5 638.6,93.3 639.0,93.3 639.5,94.6 639.9,93.7 640.3,93.2 640.7,92.4 641.2,92.5 641.6,91.7 642.0,91.5 642.4,91.3 642.9,91.1 643.4,91.5 643.8,91.0 644.3,91.4 644.8,91.3 645.2,90.8 645.7,91.2 646.1,91.8 646.5,92.5 646.9,92.6 647.2,92.8 647.6,94.0 647.9,94.4 648.3,94.1 648.6,94.3 649.0,95.3 649.4,95.6 649.7,96.8 650.1,96.8 650.4,97.0 650.8,97.3 651.2,97.1 651.5,97.6 651.9,98.2 652.2,98.7 652.6,99.4 653.0,99.7 653.4,99.8 653.8,100.9 654.2,101.1 654.6,101.2 655.1,101.3 655.5,101.7 656.0,102.7 656.4,102.1 656.8,103.1 657.2,103.1 657.6,104.0 658.0,104.9 658.3,105.0 658.7,106.1 659.0,105.9 659.3,106.5 659.6,106.0 660.0,106.4 660.4,106.8 660.8,107.6 661.2,107.8 661.7,108.1 662.1,108.7 662.7,109.4 663.2,108.5 663.8,108.4 664.3,108.9 664.8,108.5 665.3,108.0 665.8,108.5 666.2,108.1 666.6,107.0 667.0,106.2 667.4,105.8 667.8,106.3 668.2,106.2 668.5,105.2 668.8,104.6 669.1,104.5 669.4,103.7 669.7,102.8 670.0,103.3 670.3,102.6 670.6,102.3 670.8,102.1 671.1,100.8 671.4,101.2 671.7,99.5 672.0,99.6 672.3,99.9 672.6,99.1 673.0,98.2 673.3,98.1 673.6,97.9 673.9,97.4 674.4,97.0 674.9,96.7 675.4,96.5 675.9,96.0 676.4,96.0 677.0,95.7 677.5,95.6 678.0,95.4 678.6,95.6 679.1,96.1 679.6,95.9 680.2,95.7 680.7,96.0 681.3,96.1 681.8,96.3 682.4,96.0 683.0,96.3 683.5,96.6 684.1,96.6 684.7,96.3 685.2,95.7 685.8,95.8 686.4,96.2 686.9,96.1 687.5,97.0 688.0,95.7 688.6,95.9 689.2,96.3 689.7,96.0 690.3,96.2 690.9,96.2 691.4,96.5 692.0,95.5 692.6,96.5 693.1,97.5 693.4,96.8 693.7,98.7 694.0,95.1 694.2,86.9 694.5,98.7 694.8,95.6 695.1,96.5 695.4,97.2 695.7,95.9 695.9,97.6 696.2,96.8 696.5,97.0 696.8,98.3 697.1,98.6 697.3,97.4 697.6,97.8 697.9,96.2 698.2,96.5 698.5,95.2 698.8,98.2 699.0,96.9 699.3,96.4 699.6,91.5 699.9,98.9 700.2,99.0 700.5,94.3 700.7,98.7 701.0,97.0 701.3,94.0 701.6,96.8 701.9,98.1 702.1,95.0 702.4,95.8 702.7,93.1 703.0,97.1 703.3,95.7 703.6,95.9 703.8,97.1 704.1,94.6 704.4,95.1 704.7,96.3 705.0,98.9 705.2,96.4 705.5,98.6 705.8,94.7 706.1,95.4 706.4,99.7 706.6,94.6 706.9,96.7 707.2,99.3 707.5,95.2 707.7,96.0 708.0,98.1 708.3,92.8 708.6,92.5 708.9,95.2 709.1,94.0 709.4,94.7 709.7,92.7 710.0,92.0 710.2,97.3 710.5,95.4 710.8,95.5 711.1,93.6 711.4,99.6 711.6,94.8 711.9,93.8 712.2,96.1 712.5,91.4 712.8,90.9 713.0,97.7 713.3,96.4 713.6,97.8 713.9,95.2 714.2,93.4 714.5,96.0 714.7,98.3 715.0,93.5 715.3,92.4 715.6,94.8 715.9,97.5 716.1,94.4 716.4,94.5 716.7,93.6 717.0,94.0 717.2,95.7 717.5,92.9" fill="none" stroke="#008000" stroke-width="1.7" stroke-linejoin="round" stroke-linecap="butt" />
<line x1="32.0" x2="716.2" y1="95.5" y2="95.5" stroke="#000" stroke-width="1.4" stroke-dasharray="12.4,7.7" stroke-dashoffset="19.0"/>
</g>
<g clip-path="url(#cb)">
<polyline points="31.0,283.1 31.5,282.3 32.1,281.9 32.6,283.2 33.1,283.1 33.6,282.9 34.1,281.6 34.5,281.8 35.0,280.9 35.5,281.0 36.1,280.4 36.6,280.7 37.2,280.8 37.7,280.9 38.3,280.5 38.8,279.4 39.4,280.3 39.9,280.1 40.5,280.3 41.0,280.3 41.6,279.9 42.1,280.3 42.6,281.1 43.2,281.6 43.7,281.6 44.2,281.9 44.7,281.9 45.1,282.2 45.6,283.0 46.0,283.2 46.4,282.7 46.9,283.1 47.3,284.0 47.7,283.6 48.1,284.5 48.5,284.4 48.9,284.9 49.3,285.3 49.7,284.9 50.1,286.0 50.5,285.9 50.8,286.5 51.2,286.3 51.5,287.2 51.9,288.8 52.2,289.0 52.6,289.1 53.0,289.8 53.3,290.2 53.7,291.1 54.1,290.4 54.6,290.1 55.0,289.4 55.4,289.1 55.7,289.5 55.9,288.8 56.2,286.9 56.4,286.6 56.7,286.6 57.0,286.6 57.3,285.7 57.6,286.2 58.0,285.3 58.3,282.9 58.6,282.8 58.9,283.0 59.4,283.2 59.8,282.9 60.3,282.8 60.7,282.1 61.2,282.9 61.7,282.4 62.3,281.7 62.8,281.9 63.4,282.1 63.9,282.0 64.5,281.4 65.1,281.8 65.6,282.3 66.2,281.7 66.7,282.0 67.3,282.2 67.9,281.5 68.4,282.4 69.0,281.8 69.6,282.3 70.1,281.5 70.7,281.2 71.3,281.5 71.8,281.2 72.4,281.2 72.9,282.3 73.5,282.2 74.0,281.5 74.6,282.5 75.1,281.8 75.6,281.5 76.2,281.5 76.7,281.3 77.2,281.1 77.7,282.4 78.2,282.6 78.7,283.5 79.2,282.9 79.7,282.9 80.3,283.3 80.8,282.3 81.3,282.3 81.8,284.3 82.4,283.4 82.9,285.0 83.4,284.1 83.9,283.9 84.5,283.8 85.0,285.0 85.5,285.0 86.1,285.1 86.6,284.0 87.1,283.3 87.6,284.7 88.2,284.9 88.7,285.6 89.2,289.8 89.5,286.6 89.7,286.0 90.0,285.8 90.3,287.8 90.5,288.1 90.8,286.0 91.1,287.6 91.3,287.6 91.6,285.0 91.8,286.7 92.1,287.2 92.4,284.6 92.6,285.6 92.9,282.3 93.2,283.7 93.4,289.2 93.7,292.0 93.9,286.5 94.2,287.4 94.5,287.5 94.7,290.1 94.9,284.5 95.1,288.6 95.4,290.4 95.6,286.9 95.8,289.7 96.0,288.1 96.2,289.5 96.4,288.4 96.7,288.9 96.9,287.2 97.1,288.9 97.3,290.1 97.6,295.1 97.8,289.0 98.1,288.8 98.3,293.1 98.5,290.8 98.8,291.8 99.0,291.0 99.3,289.8 99.5,289.9 99.7,291.4 99.9,291.8 100.1,291.4 100.3,292.0 100.5,292.1 100.7,290.3 100.9,291.3 101.1,293.3 101.3,293.2 101.5,287.1 101.7,290.7 101.9,291.7 102.0,295.6 102.2,291.9 102.4,289.9 102.5,292.7 102.7,293.1 102.9,295.6 103.0,294.6 103.2,295.2 103.4,294.4 103.5,292.9 103.7,293.5 103.9,290.4 104.2,292.9 104.5,297.8 104.7,298.1 105.0,297.8 105.3,294.1 105.4,294.4 105.5,292.1 105.6,293.6 105.7,297.2 105.8,286.0 105.9,296.4 106.0,291.9 106.1,292.6 106.2,291.2 106.3,293.6 106.6,289.3 106.8,288.8 107.1,291.5 107.6,291.2 108.2,292.0 108.7,291.4 109.2,291.5 109.7,291.8 110.3,291.6 110.8,291.9 111.3,291.0 111.8,290.8 112.4,291.2 112.9,291.0 113.4,290.7 113.9,290.9 114.5,289.9 115.0,291.6 115.5,291.9 116.1,292.3 116.6,292.3 117.1,291.6 117.6,291.5 118.2,291.4 118.7,292.5 119.2,292.1 119.7,292.0 120.1,292.1 120.6,291.6 121.0,290.6 121.4,290.4 121.9,290.8 122.3,290.1 122.7,289.9 123.1,289.4 123.5,288.3 123.9,288.8 124.2,287.9 124.6,287.7 124.9,287.0 125.2,286.4 125.6,284.8 125.9,284.8 126.2,285.4 126.6,285.1 126.9,285.3 127.3,284.5 127.6,284.2 127.9,283.3 128.3,282.3 128.8,283.0 129.4,282.1 129.9,282.4 130.5,283.0 131.0,281.7 131.6,281.5 132.1,281.9 132.6,282.1 133.2,282.5 133.7,282.9 134.2,282.4 134.7,281.7 135.3,282.6 135.8,283.2 136.3,283.0 136.8,283.2 137.4,283.8 137.9,283.5 138.4,283.3 138.9,283.7 139.5,283.6 140.0,283.8 140.5,283.7 141.1,283.7 141.6,283.5 142.1,284.4 142.6,284.1 143.2,284.4 143.7,284.1 144.3,284.2 144.8,285.4 145.4,284.3 146.0,284.1 146.5,284.4 147.1,284.4 147.6,284.0 148.2,283.9 148.7,283.3 149.2,284.1 149.7,283.2 150.3,283.2 150.8,282.8 151.3,282.1 151.8,282.8 152.3,282.2 152.8,282.1 153.3,282.4 153.8,282.0 154.4,282.7 154.9,281.7 155.3,280.8 155.8,280.9 156.3,281.0 156.8,281.2 157.2,282.1 157.7,282.4 158.1,282.1 158.6,281.4 158.9,282.6 159.3,282.6 159.6,283.6 160.0,283.7 160.3,284.4 160.8,283.9 161.4,283.7 161.9,284.0 162.5,284.2 162.9,284.4 163.2,283.3 163.6,282.4 163.9,282.1 164.3,282.2 164.7,282.5 165.1,281.1 165.6,281.1 166.0,280.5 166.4,280.5 166.9,279.8 167.3,279.3 167.8,280.1 168.3,279.1 168.8,279.2 169.3,278.6 169.7,278.0 170.2,278.4 170.6,277.7 171.1,278.7 171.5,278.7 171.9,279.1 172.3,279.5 172.7,280.2 173.1,281.2 173.5,281.2 173.9,282.2 174.2,282.4 174.6,282.1 174.9,283.5 175.3,283.4 175.7,284.4 176.0,284.4 176.3,284.8 176.6,284.9 176.9,285.3 177.2,286.5 177.5,287.3 177.8,287.0 178.2,287.2 178.6,288.0 179.0,288.4 179.4,288.7 179.7,288.8 180.0,288.8 180.3,287.9 180.6,287.3 180.9,286.8 181.2,286.7 181.4,285.7 181.8,285.4 182.3,284.1 182.8,285.2 183.3,284.7 183.8,284.2 184.3,284.8 184.8,284.9 185.3,285.2 185.7,285.2 186.1,285.6 186.4,284.4 186.8,284.4 187.1,283.6 187.5,282.8 188.0,282.7 188.5,281.7 189.0,281.6 189.5,281.3 189.8,282.7 190.1,282.9 190.4,284.2 190.7,284.2 191.0,285.1 191.3,285.5 191.6,285.9 191.8,286.1 192.1,286.6 192.4,287.3 192.6,287.4 192.9,286.9 193.2,287.9 193.4,288.7 193.7,289.6 194.0,289.3 194.3,289.9 194.5,290.9 194.8,291.2 195.1,291.5 195.4,292.0 195.7,292.7 196.1,292.2 196.4,294.0 196.7,294.0 197.0,294.3 197.4,295.3 197.8,295.3 198.2,296.0 198.6,296.0 198.9,296.8 199.3,296.7 199.7,297.2 200.1,298.9 200.5,298.1 200.9,297.6 201.3,299.2 201.8,298.6 202.3,299.1 202.8,298.9 203.2,299.2 203.7,299.5 204.2,299.0 204.7,300.0 205.3,299.9 205.8,299.6 206.3,299.1 206.8,299.5 207.2,298.7 207.6,299.0 208.0,297.9 208.4,296.6 208.8,296.7 209.2,296.9 209.7,297.5 210.3,297.9 210.8,297.7 211.3,297.5 211.8,297.6 212.4,297.7 212.9,298.1 213.4,297.4 213.9,296.8 214.4,296.5 215.0,297.2 215.5,297.3 215.9,297.5 216.0,296.5 216.2,295.9 216.4,295.8 216.5,295.0 216.7,294.5 216.8,294.1 217.0,293.6 217.3,293.0 217.7,292.4 218.1,291.9 218.3,292.7 218.6,292.9 218.8,293.7 219.0,294.1 219.2,293.5 219.3,294.7 219.4,295.1 219.5,295.5 219.6,296.4 219.7,297.1 219.9,298.3 220.0,297.6 220.1,298.8 220.2,299.1 220.4,300.3 220.5,300.0 220.7,301.8 220.9,301.1 221.1,301.7 221.3,302.0 221.5,301.2 221.7,301.8 222.0,300.1 222.1,300.4 222.2,301.4 222.3,302.0 222.4,302.5 222.4,303.5 222.5,303.3 222.6,304.1 222.6,304.6 222.7,305.1 222.8,305.6 222.8,305.4 222.9,307.0 223.0,307.4 223.0,308.0 223.1,307.0 223.1,308.6 223.2,309.8 223.2,309.8 223.3,310.1 223.3,311.8 223.4,312.2 223.4,312.1 223.5,312.4 223.5,313.4 223.5,313.4 223.6,314.6 223.6,314.6 223.7,315.5 223.7,316.4 223.8,316.3 223.8,316.8 223.9,316.6 223.9,318.3 223.9,318.7 224.0,320.1 224.0,319.7 224.1,321.3 224.1,321.1 224.2,321.4 224.2,322.2 224.2,322.8 224.3,323.2 224.3,323.3 224.4,323.6 224.4,323.7 224.5,324.3 224.5,324.9 224.5,326.0 224.6,327.0 224.6,328.1 224.7,328.3 224.7,328.4 224.8,329.5 224.8,330.0 224.9,331.5 224.9,332.4 225.0,331.3 225.0,331.6 225.0,332.0 225.1,332.5 225.2,332.3 225.2,330.6 225.3,330.8 225.3,328.7 225.4,329.2 225.4,328.0 225.5,328.0 225.5,327.5 225.5,326.9 225.6,326.7 225.6,325.8 225.6,325.2 225.6,324.2 225.7,323.9 225.7,323.4 225.7,322.6 225.7,320.7 225.8,321.2 225.8,320.2 225.8,320.5 225.8,319.9 225.9,319.6 225.9,318.0 225.9,317.6 226.0,317.8 226.0,317.9 226.0,316.5 226.0,316.5 226.1,315.5 226.1,314.8 226.1,314.4 226.1,314.0 226.2,313.9 226.2,312.4 226.2,312.1 226.2,312.6 226.2,311.4 226.3,311.2 226.3,310.0 226.3,310.2 226.3,308.5 226.3,307.5 226.4,307.8 226.4,306.6 226.4,306.4 226.4,306.2 226.4,306.4 226.4,305.2 226.5,304.7 226.5,304.7 226.5,304.0 226.5,304.2 226.5,302.8 226.6,301.9 226.6,301.0 226.6,300.9 226.6,300.4 226.6,300.3 226.7,299.7 226.7,298.4 226.7,298.0 226.7,298.0 226.7,296.8 226.8,296.2 226.8,295.4 226.8,295.4 226.8,294.8 226.8,295.0 226.9,294.0 226.9,294.4 226.9,292.7 226.9,292.5 226.9,291.3 226.9,291.6 227.0,290.7 227.0,289.7 227.0,289.6 227.0,289.4 227.0,289.0 227.1,289.1 227.1,287.3 227.1,286.3 227.1,285.8 227.1,285.6 227.2,284.6 227.2,283.9 227.2,284.5 227.2,283.9 227.2,282.9 227.3,282.0 227.3,281.4 227.3,281.0 227.3,281.1 227.3,279.8 227.3,279.5 227.4,279.2 227.4,278.6 227.4,277.4 227.4,277.0 227.4,276.9 227.5,276.4 227.5,276.0 227.5,275.3 227.5,275.3 227.5,274.6 227.6,274.1 227.6,273.4 227.6,270.5 227.6,271.8 227.7,271.2 227.7,270.5 227.7,270.3 227.7,269.7 227.7,269.1 227.8,268.3 227.8,267.8 227.8,268.1 227.8,266.9 227.9,265.9 227.9,265.8 227.9,264.4 227.9,264.7 227.9,264.5 228.0,263.7 228.0,263.1 228.0,263.1 228.0,261.9 228.1,261.1 228.1,261.5 228.1,260.6 228.1,259.9 228.1,259.3 228.2,258.2 228.2,258.4 228.2,258.0 228.3,257.2 228.3,256.7 228.3,255.9 228.4,255.4 228.4,254.2 228.4,254.0 228.5,253.9 228.5,253.4 228.5,252.4 228.6,252.4 228.6,251.1 228.6,251.3 228.7,250.8 228.7,249.9 228.7,249.2 228.7,248.8 228.7,248.1 228.7,247.5 228.7,246.5 228.6,246.6 228.6,246.5 228.6,246.0 228.6,245.2 228.6,243.9 228.6,244.2 228.6,243.7 228.6,242.6 228.6,242.3 228.6,242.0 228.6,240.9 228.5,240.0 228.5,240.0 228.5,239.8 228.5,238.9 228.5,238.6 228.6,237.4 228.6,237.6 228.6,236.3 228.6,235.6 228.6,235.1 228.7,234.7 228.7,234.7 228.7,234.3 228.7,233.4 228.7,232.6 228.8,231.8 228.8,232.0 228.8,230.9 228.8,230.8 228.8,230.4 228.9,228.8 228.9,228.6 228.9,228.8 228.9,229.0 228.9,228.4 229.0,226.9 229.0,227.3 229.0,225.9 229.0,224.7 229.1,225.0 229.1,224.3 229.1,223.6 229.2,222.5 229.2,222.8 229.2,222.7 229.2,221.6 229.3,221.0 229.3,220.3 229.3,218.7 229.4,218.6 229.4,219.0 229.4,217.8 229.5,217.7 229.5,216.7 229.5,216.3 229.6,216.4 229.8,215.8 230.0,215.0 230.3,214.5 230.5,214.7 230.7,216.0 230.9,216.0 231.0,217.0 231.0,217.6 231.0,217.1 231.1,217.2 231.1,218.4 231.1,219.1 231.1,220.1 231.2,220.1 231.2,220.6 231.2,221.6 231.2,222.0 231.3,222.3 231.3,222.8 231.3,223.5 231.3,224.7 231.4,225.4 231.4,225.9 231.4,225.7 231.4,225.6 231.5,226.7 231.5,227.5 231.5,227.7 231.6,228.9 231.6,229.1 231.6,229.7 231.7,229.5 231.7,228.5 231.7,230.2 231.8,231.1 231.8,231.7 231.8,233.0 231.9,233.0 232.1,233.6 232.4,234.0 232.8,234.6 233.2,233.3 233.5,233.1 233.6,234.2 233.7,234.5 233.8,234.9 233.9,236.5 234.0,236.1 234.1,236.9 234.3,237.3 234.6,237.7 234.8,238.9 235.1,239.1 235.2,239.6 235.3,240.3 235.4,241.2 235.5,241.0 235.5,241.6 235.6,242.7 235.7,242.4 235.8,242.8 235.9,243.9 236.0,243.9 236.1,245.1 236.3,245.8 236.4,244.3 236.5,246.3 236.7,247.2 236.8,247.6 236.9,249.0 237.1,248.7 237.3,249.5 237.5,249.7 237.6,250.5 237.8,250.4 238.0,250.8 238.2,252.0 238.4,252.2 238.6,253.0 239.0,252.7 239.4,252.6 239.6,252.1 239.7,252.9 239.9,252.9 240.0,253.8 240.1,254.6 240.3,254.6 240.4,256.7 240.5,256.3 240.6,257.1 240.7,258.2 240.8,258.1 241.0,258.1 241.1,259.4 241.2,259.7 241.3,259.5 241.4,260.1 241.5,261.4 241.6,262.2 241.6,261.4 241.7,262.4 241.8,262.8 241.9,263.8 242.0,263.7 242.0,265.6 242.1,265.7 242.2,265.7 242.3,265.4 242.3,264.7 242.4,266.4 242.5,266.9 242.6,268.1 242.6,268.6 242.7,270.1 242.8,270.0 242.8,270.2 242.9,271.2 243.0,271.9 243.0,271.8 243.1,273.1 243.2,273.5 243.3,274.5 243.3,275.1 243.4,274.6 243.5,274.7 243.6,276.3 243.8,277.0 243.9,277.4 244.0,277.7 244.1,278.8 244.3,277.9 244.4,279.3 244.6,280.4 244.9,280.2 245.1,281.1 245.4,282.0 245.8,281.4 246.1,280.2 246.4,280.4 246.6,280.5 246.8,281.6 247.0,281.8 247.1,281.8 247.3,282.4 247.5,283.7 247.7,284.3 248.0,284.4 248.2,285.0 248.5,284.5 248.9,285.3 249.2,285.8 249.4,285.1 249.5,284.6 249.7,284.2 249.8,284.2 250.1,284.5 250.5,283.5 250.9,283.7 251.1,283.0 251.3,281.4 251.5,281.4 251.7,281.0 251.9,281.6 252.1,280.0 252.3,279.6 252.4,279.0 252.6,278.5 252.8,277.9 252.9,279.3 253.1,280.5 253.3,280.7 253.4,281.8 253.6,281.4 253.7,281.7 253.9,281.3 254.1,282.3 254.2,283.4 254.4,282.5 254.6,284.1 254.9,285.2 255.1,285.0 255.3,286.9 255.5,286.6 255.7,287.0 256.0,287.7 256.2,287.7 256.5,288.1 256.8,287.2 257.2,287.0 257.5,286.6 257.8,286.1 258.2,285.0 258.7,285.7 259.1,283.3 259.6,284.4 260.1,285.0 260.5,285.5 260.8,285.3 261.2,285.4 261.6,286.0 261.9,287.0 262.3,287.7 262.8,287.8 263.2,288.0 263.6,288.0 264.1,288.6 264.5,288.4 264.9,288.4 265.2,289.0 265.6,287.7 265.9,288.1 266.2,287.2 266.5,286.5 266.9,284.3 267.1,284.5 267.4,284.5 267.7,284.5 268.0,283.7 268.3,283.2 268.5,283.1 268.9,282.5 269.3,281.5 269.8,281.9 270.2,282.3 270.7,281.8 271.1,281.9 271.4,282.3 271.8,281.5 272.2,282.9 272.6,283.3 273.0,283.9 273.4,284.6 273.8,283.0 274.2,285.0 274.6,284.2 275.1,284.9 275.6,285.4 276.1,285.1 276.6,284.3 277.0,283.9 277.5,282.6 277.9,282.7 278.3,282.6 278.7,282.2 279.0,281.9 279.3,281.6 279.5,281.3 279.8,280.5 280.1,280.8 280.4,279.5 280.6,279.3 280.8,280.1 281.0,280.9 281.3,281.1 281.5,281.5 281.7,282.3 281.9,283.6 282.1,283.7 282.3,284.7 282.5,284.3 282.6,284.7 282.8,286.0 282.9,286.0 283.1,286.2 283.2,287.3 283.3,288.3 283.5,288.2 283.6,287.8 283.7,289.3 283.9,289.3 284.1,288.7 284.3,288.2 284.4,287.4 284.6,286.6 284.8,286.7 285.0,285.7 285.2,284.8 285.3,284.9 285.5,285.0 285.8,284.3 286.0,283.8 286.2,283.6 286.4,282.6 286.7,282.1 286.9,281.3 287.1,280.6 287.3,280.8 287.5,280.2 287.6,279.5 287.8,278.6 288.0,277.8 288.2,277.3 288.3,277.8 288.5,276.9 288.7,276.2 288.9,276.0 289.1,276.8 289.3,278.0 289.5,279.2 289.7,279.9 289.9,280.5 290.2,279.7 290.6,279.5 290.9,278.5 291.3,278.4 291.5,278.5 291.7,279.7 291.8,280.4 292.0,280.8 292.2,281.1 292.4,281.6 292.5,280.5 292.7,281.7 292.9,282.9 293.1,283.8 293.3,283.8 293.5,284.9 293.7,285.5 293.9,286.5 294.1,286.2 294.2,285.9 294.4,287.4 294.6,287.8 294.8,287.6 294.9,289.2 295.1,290.5 295.3,289.9 295.5,290.7 295.6,291.3 295.8,291.0 296.0,291.4 296.1,290.9 296.3,290.6 296.4,291.2 296.6,290.8 296.8,290.0 296.9,289.4 297.1,289.1 297.2,288.5 297.4,287.5 297.6,286.6 297.8,287.1 298.1,286.4 298.3,285.8 298.6,284.3 298.9,284.0 299.2,284.3 299.5,284.3 299.8,283.9 300.2,284.9 300.6,284.4 300.9,285.2 301.3,286.0 301.5,287.1 301.7,286.3 301.9,287.0 302.2,287.4 302.4,287.2 302.6,288.6 302.8,287.8 303.0,289.7 303.3,289.8 303.5,290.8 303.7,291.7 304.0,291.4 304.2,291.6 304.5,292.4 305.0,293.1 305.6,293.1 306.2,292.8 306.6,292.7 307.1,292.5 307.5,291.2 307.9,291.8 308.3,291.0 308.5,290.8 308.8,290.4 309.0,290.1 309.3,289.3 309.5,288.9 309.8,288.1 310.0,287.3 310.2,286.3 310.4,286.8 310.6,285.7 310.8,285.7 311.0,285.3 311.2,285.4 311.4,283.9 311.6,283.5 311.8,282.3 312.0,282.1 312.2,282.4 312.4,282.2 312.6,281.2 312.8,280.0 313.0,279.3 313.2,279.0 313.4,280.4 313.6,279.2 313.8,277.4 314.0,277.5 314.2,276.4 314.4,276.1 314.6,275.4 314.8,275.7 315.0,274.6 315.2,274.2 315.4,273.8 315.6,274.0 315.8,272.8 316.0,272.1 316.2,271.7 316.6,271.7 316.9,272.9 317.3,271.2 317.7,270.1 318.0,269.3 318.5,270.0 319.0,270.4 319.5,270.3 320.0,270.7 320.4,270.9 320.8,271.1 321.2,271.5 321.6,272.0 322.0,271.2 322.2,273.0 322.5,273.4 322.7,274.3 323.0,274.3 323.2,275.4 323.5,275.5 323.7,275.8 323.9,276.1 324.1,276.5 324.3,277.0 324.4,277.2 324.6,278.1 324.7,279.4 324.9,279.5 325.1,280.4 325.2,280.3 325.4,280.4 325.5,281.7 325.7,282.1 326.0,283.0 326.2,282.2 326.4,283.2 326.6,283.6 326.8,284.7 327.0,285.2 327.2,285.5 327.6,285.3 327.9,285.1 328.2,283.6 328.6,283.3 328.9,282.6 329.2,282.5 329.6,282.3 329.9,282.2 330.3,281.1 330.6,281.2 331.0,280.9 331.4,280.5 331.8,279.9 332.3,279.9 332.7,279.5 333.2,279.2 333.7,278.6 334.2,278.8 334.7,278.3 335.3,278.2 335.8,277.9 336.3,277.4 336.8,278.2 337.4,278.8 337.9,278.3 338.4,278.0 338.9,278.6 339.4,278.2 339.9,278.7 340.3,278.8 340.8,278.9 341.3,279.4 341.8,278.7 342.4,278.4 342.9,278.9 343.3,280.1 343.7,280.3 344.2,279.9 344.6,279.8 345.0,280.7 345.5,280.6 346.1,280.3 346.6,281.0 347.1,282.1 347.6,282.0 348.2,282.1 348.7,281.7 349.2,282.3 349.7,281.7 350.3,281.3 350.6,280.8 351.0,281.8 351.3,282.3 351.7,283.0 351.9,282.7 352.1,283.5 352.3,283.8 352.5,284.8 352.6,285.4 352.8,286.7 353.0,287.4 353.2,287.2 353.4,287.7 353.6,287.8 353.8,287.8 354.0,288.2 354.2,289.1 354.4,289.5 354.6,290.3 354.8,290.7 355.1,291.8 355.3,292.3 355.5,292.6 355.7,292.5 355.9,293.6 356.1,294.3 356.3,293.8 356.6,294.5 356.8,294.8 357.0,295.4 357.2,296.5 357.4,297.7 357.6,296.9 357.8,297.6 358.1,298.0 358.4,299.4 358.8,299.2 359.1,299.8 359.5,300.2 360.0,299.8 360.5,300.9 361.1,300.6 361.5,299.8 361.8,298.9 362.1,298.6 362.4,298.3 362.7,297.7 363.0,297.4 363.2,296.9 363.5,296.2 363.7,295.8 363.9,295.0 364.1,295.0 364.3,294.6 364.5,293.5 364.7,293.5 364.9,292.9 365.2,292.4 365.4,291.5 365.6,291.3 365.8,290.6 366.0,290.1 366.2,289.4 366.5,289.4 366.8,288.9 367.2,288.6 367.5,288.0 367.9,287.5 368.2,287.0 368.5,287.0 368.8,285.9 369.1,285.1 369.3,285.8 369.5,284.8 369.6,283.9 369.8,283.0 370.0,282.8 370.2,282.0 370.4,282.0 370.5,281.7 370.8,281.1 371.1,281.2 371.3,280.8 371.6,279.8 371.8,280.3 372.1,278.7 372.4,278.5 372.8,278.0 373.2,277.7 373.6,276.5 374.0,276.4 374.4,276.5 374.8,275.2 375.2,275.7 375.6,275.7 376.0,274.8 376.4,274.5 376.8,273.8 377.2,272.4 377.6,272.6 378.0,272.6 378.4,272.3 378.8,272.5 379.3,271.2 379.7,271.4 380.1,270.4 380.7,270.8 381.3,271.1 381.8,271.2 382.3,270.2 382.8,270.9 383.2,271.2 383.6,271.3 384.1,271.8 384.5,273.2 384.9,273.9 385.3,273.7 385.7,274.0 386.1,274.6 386.4,275.5 386.8,275.3 387.2,275.5 387.6,276.9 388.0,276.3 388.4,276.6 388.7,276.7 389.0,277.3 389.3,277.7 389.7,277.8 390.0,278.7 390.2,280.2 390.4,279.8 390.7,280.5 390.9,281.3 391.1,281.8 391.3,281.7 391.5,282.6 391.8,283.2 392.0,283.9 392.3,284.7 392.6,284.9 393.0,284.8 393.3,285.7 393.6,285.5 393.9,285.7 394.3,286.5 394.7,286.8 395.1,287.2 395.5,287.4 395.9,288.0 396.4,289.8 396.8,289.0 397.2,289.3 397.7,289.5 398.1,288.9 398.6,289.1 399.0,289.4 399.4,288.5 399.9,287.4 400.4,287.9 400.9,288.7 401.3,288.7 401.8,288.3 402.2,288.7 402.5,289.6 402.8,290.8 403.2,290.9 403.5,291.6 403.8,291.2 404.1,291.1 404.4,290.9 404.7,290.3 405.0,290.4 405.3,289.6 405.7,288.8 406.1,288.4 406.5,288.9 406.9,287.8 407.3,286.8 407.8,286.4 408.2,287.0 408.6,287.1 409.1,286.0 409.4,286.6 409.7,286.8 410.1,286.7 410.4,288.2 410.7,288.5 411.1,289.3 411.3,288.6 411.5,290.0 411.8,290.3 412.0,290.8 412.3,290.8 412.5,291.4 412.9,292.0 413.4,294.0 413.9,293.3 414.3,293.2 414.5,292.2 414.7,292.8 414.9,291.2 415.1,289.1 415.3,290.2 415.5,290.4 415.7,289.2 416.1,289.7 416.4,289.0 416.8,287.6 417.2,287.7 417.6,287.6 418.1,286.8 418.6,286.7 419.1,286.5 419.5,287.1 420.0,286.0 420.5,285.4 421.1,286.4 421.7,285.8 422.2,286.0 422.8,286.0 423.4,285.5 423.9,285.6 424.5,285.3 425.1,285.2 425.6,285.3 426.2,286.1 426.7,285.6 427.3,285.6 427.9,285.2 428.4,285.4 428.9,285.4 429.5,285.0 430.0,285.3 430.5,284.8 431.1,284.7 431.6,284.3 432.1,284.9 432.6,284.7 433.2,285.2 433.7,284.3 434.2,284.2 434.7,284.2 435.2,284.2 435.6,284.2 436.1,285.3 436.5,285.9 436.9,285.9 437.4,285.1 437.9,285.5 438.3,285.2 438.8,284.7 439.3,285.1 439.8,284.0 440.3,283.8 440.7,283.0 441.2,283.1 441.7,283.4 442.2,283.2 442.7,283.0 443.2,282.8 443.7,281.9 444.2,281.3 444.7,281.6 445.3,281.6 445.8,279.7 446.3,280.7 446.8,281.3 447.4,281.2 447.9,281.5 448.4,281.4 448.9,281.1 449.5,281.4 450.0,281.9 450.5,281.5 451.0,281.9 451.5,282.2 452.0,282.3 452.5,281.6 452.9,283.3 453.4,282.5 453.9,282.8 454.4,283.6 454.9,284.0 455.3,282.9 455.8,284.1 456.3,284.1 456.8,284.7 457.2,284.9 457.7,284.9 458.2,285.4 458.7,285.0 459.1,286.0 459.6,285.8 460.0,286.4 460.4,286.7 460.8,287.0 461.2,287.6 461.5,288.2 461.8,288.7 462.1,289.0 462.5,288.8 462.8,289.8 463.2,289.4 463.5,289.3 463.9,288.6 464.2,287.9 464.5,288.1 464.8,286.5 465.1,286.7 465.5,286.7 465.8,286.2 466.2,285.5 466.7,285.4 467.2,285.1 467.6,284.4 468.2,284.2 468.7,284.1 469.2,284.2 469.7,284.4 470.3,284.8 470.8,284.7 471.3,284.9 471.8,285.0 472.4,284.8 472.9,284.3 473.4,285.1 473.9,285.0 474.4,285.5 474.9,284.9 475.3,285.4 475.6,284.9 475.8,286.6 476.1,286.9 476.4,288.2 476.7,288.4 477.0,288.6 477.2,288.4 477.4,289.3 477.7,289.7 477.9,291.2 478.1,291.6 478.3,293.3 478.5,292.3 478.8,292.2 479.0,293.3 479.2,293.1 479.4,294.8 479.6,294.8 479.8,295.0 480.0,296.0 480.3,296.3 480.5,296.8 480.7,296.9 481.0,296.7 481.3,297.1 481.7,298.4 482.0,299.2 482.4,298.9 482.8,299.0 483.3,298.9 483.7,298.8 484.0,298.3 484.1,297.7 484.3,296.9 484.4,295.7 484.5,295.3 484.7,296.4 484.9,295.3 485.1,293.8 485.3,293.8 485.6,292.7 485.8,293.1 486.1,292.2 486.3,292.2 486.4,291.8 486.6,290.6 486.7,290.5 486.8,288.8 486.9,288.6 487.1,288.2 487.2,287.0 487.3,287.1 487.5,287.2 487.6,286.0 487.7,285.3 487.7,285.6 487.8,284.0 487.9,283.3 487.9,283.0 488.0,282.8 488.1,282.7 488.2,281.8 488.2,281.8 488.3,281.3 488.4,281.4 488.5,279.8 488.6,280.1 488.7,278.7 488.8,278.7 489.0,277.7 489.1,277.2 489.2,276.5 489.4,276.8 489.6,277.4 489.8,278.0 490.1,279.2 490.3,278.7 490.5,279.7 490.8,279.9 491.0,279.6 491.2,280.7 491.5,280.1 491.6,280.4 491.8,280.9 491.9,282.2 492.0,283.2 492.2,283.8 492.3,284.8 492.4,284.3 492.6,284.3 492.7,285.7 492.7,286.2 492.8,285.4 492.8,286.8 492.9,287.5 493.0,288.3 493.0,288.8 493.1,289.1 493.2,289.9 493.2,290.6 493.3,291.1 493.3,292.1 493.4,291.9 493.5,292.8 493.5,293.0 493.6,293.4 493.7,294.6 493.8,295.2 493.8,295.9 493.9,295.9 494.0,296.2 494.1,296.8 494.1,297.4 494.2,296.9 494.3,298.6 494.3,299.6 494.4,299.9 494.5,300.0 494.5,300.8 494.6,301.8 494.7,302.0 494.7,302.8 494.8,302.6 494.9,303.8 494.9,303.8 495.0,304.4 495.1,304.6 495.1,305.4 495.2,306.3 495.2,306.7 495.3,307.2 495.4,308.2 495.4,308.6 495.5,309.1 495.6,309.9 495.6,310.3 495.7,311.0 495.8,310.8 495.8,311.4 495.8,310.2 495.9,309.4 495.9,309.6 495.9,308.9 496.0,308.6 496.0,307.0 496.0,307.0 496.1,306.9 496.1,306.5 496.1,306.5 496.2,305.5 496.2,305.0 496.2,303.2 496.3,303.4 496.3,303.6 496.3,302.5 496.3,302.2 496.4,301.7 496.4,301.0 496.4,300.8 496.4,300.1 496.4,299.4 496.4,298.8 496.4,298.3 496.5,298.0 496.5,297.3 496.5,296.5 496.5,295.3 496.5,295.3 496.5,294.9 496.5,294.8 496.5,294.7 496.6,293.2 496.6,291.7 496.6,291.3 496.6,291.4 496.6,291.4 496.6,291.0 496.6,290.0 496.7,289.4 496.7,289.0 496.7,288.5 496.7,288.5 496.7,287.0 496.7,286.5 496.7,286.1 496.8,285.7 496.8,285.2 496.8,284.3 496.8,284.9 496.8,283.9 496.8,284.7 496.8,283.9 496.9,283.5 496.9,281.6 496.9,281.1 496.9,280.7 496.9,279.9 496.9,278.7 496.9,278.3 497.0,278.3 497.0,276.1 497.0,276.7 497.0,275.7 497.0,276.2 497.0,274.9 497.1,274.8 497.1,274.6 497.1,273.6 497.1,273.6 497.1,273.3 497.1,272.3 497.2,271.9 497.2,270.9 497.2,270.0 497.2,269.9 497.2,268.9 497.2,269.0 497.3,268.1 497.3,267.5 497.3,266.1 497.3,266.2 497.3,266.0 497.3,264.6 497.4,265.2 497.4,264.5 497.4,263.5 497.4,263.9 497.4,262.8 497.4,261.5 497.5,261.4 497.5,261.1 497.5,260.6 497.5,259.6 497.5,258.9 497.6,258.3 497.6,257.8 497.6,257.1 497.6,257.0 497.7,256.3 497.7,255.6 497.7,254.8 497.7,254.1 497.7,254.8 497.8,253.3 497.8,253.3 497.8,252.7 497.8,252.4 497.9,250.9 497.9,251.2 497.9,250.1 497.9,250.4 497.9,249.7 498.0,248.2 498.0,248.3 498.0,247.7 498.0,247.3 498.0,246.9 498.1,245.9 498.1,245.3 498.1,245.5 498.2,245.1 498.3,244.4 498.4,242.9 498.4,242.1 498.5,241.5 498.6,240.8 498.6,240.6 498.7,240.9 498.8,240.0 498.9,239.4 498.9,238.4 499.0,238.0 499.1,236.8 499.2,236.7 499.3,238.0 499.3,236.5 499.4,236.8 499.5,235.7 499.6,235.1 499.7,234.5 499.8,234.2 499.8,233.1 499.9,231.8 500.0,231.6 500.1,230.4 500.3,230.4 500.4,230.0 500.5,230.0 500.7,229.1 500.8,228.8 500.9,228.3 501.1,228.2 501.3,227.8 501.5,227.1 501.7,226.0 501.9,226.2 501.9,226.9 502.0,226.6 502.0,226.9 502.0,227.8 502.1,228.6 502.1,229.8 502.1,229.3 502.2,230.8 502.2,231.0 502.2,232.1 502.3,231.6 502.3,232.2 502.3,232.7 502.4,233.2 502.4,233.8 502.4,234.2 502.4,234.6 502.4,236.2 502.4,235.9 502.4,236.1 502.4,237.0 502.4,236.9 502.4,238.3 502.4,239.0 502.4,240.4 502.4,240.0 502.4,240.4 502.4,241.0 502.4,242.1 502.4,243.6 502.4,242.9 502.4,243.3 502.4,243.8 502.4,243.1 502.4,244.8 502.4,245.2 502.4,246.4 502.4,247.0 502.3,247.8 502.3,247.4 502.3,248.0 502.3,248.4 502.3,249.3 502.3,250.1 502.3,250.1 502.3,250.6 502.3,251.9 502.3,252.2 502.3,252.7 502.3,253.6 502.4,253.9 502.4,253.5 502.5,254.2 502.5,254.3 502.5,255.1 502.6,256.3 502.6,256.3 502.7,257.9 502.7,257.6 502.8,258.1 502.8,258.1 502.8,259.4 502.9,258.4 502.9,257.4 503.0,257.6 503.0,257.4 503.1,257.6 503.1,256.3 503.1,255.2 503.2,254.8 503.2,254.4 503.3,253.7 503.3,253.1 503.3,252.8 503.4,252.4 503.5,251.6 503.5,251.2 503.6,251.0 503.6,250.6 503.7,249.7 503.7,249.0 503.8,248.2 503.8,247.6 503.9,246.8 504.0,247.8 504.0,246.3 504.1,245.7 504.1,245.3 504.2,244.7 504.2,243.3 504.3,243.2 504.3,243.0 504.4,242.4 504.4,241.5 504.5,241.9 504.5,240.7 504.5,241.2 504.5,240.1 504.6,239.9 504.6,239.4 504.6,237.8 504.7,237.5 504.7,237.6 504.7,235.9 504.7,235.3 504.8,235.4 504.8,235.3 504.8,235.2 504.8,233.9 504.9,233.7 504.9,232.0 504.9,231.8 505.0,230.8 505.0,231.5 505.0,230.7 505.0,229.7 505.1,229.0 505.1,228.9 505.1,228.4 505.2,227.1 505.2,227.7 505.2,226.3 505.2,225.7 505.3,225.4 505.3,225.2 505.3,223.9 505.4,224.1 505.4,222.8 505.4,222.3 505.5,222.4 505.5,222.0 505.5,220.7 505.5,221.4 505.6,220.6 505.6,219.2 505.6,218.8 505.7,217.6 505.7,217.8 505.7,216.2 505.8,216.4 505.8,216.7 505.8,215.5 505.9,216.0 505.9,215.2 505.9,214.3 505.9,212.9 506.0,212.9 506.0,213.1 506.0,212.2 506.1,212.5 506.1,211.8 506.2,210.7 506.2,209.7 506.2,209.6 506.3,208.7 506.3,208.3 506.4,208.1 506.4,206.9 506.5,206.8 506.5,205.8 506.6,205.1 506.6,205.1 506.7,204.1 506.7,203.2 506.8,201.9 506.8,201.8 506.9,201.8 506.9,202.0 507.1,201.5 507.3,200.4 507.5,200.5 507.8,199.0 508.0,199.4 508.2,199.0 508.4,197.9 508.5,197.9 508.7,196.7 508.9,196.4 509.1,196.0 509.3,194.5 509.5,193.3 509.7,195.2 509.9,194.3 510.1,193.4 510.5,193.2 510.9,193.2 511.2,193.1 511.3,193.3 511.5,193.2 511.6,191.6 511.7,191.9 511.8,191.3 511.9,190.3 512.0,191.0 512.1,192.2 512.2,191.8 512.3,192.7 512.4,192.5 512.5,194.3 512.6,194.1 512.7,194.6 512.8,196.7 512.8,196.6 512.9,197.6 513.1,197.3 513.2,197.9 513.3,198.2 513.4,198.7 513.5,198.5 513.6,199.0 513.7,200.5 514.1,200.6 514.5,200.8 514.8,200.0 514.9,201.9 515.0,202.1 515.1,203.1 515.1,203.8 515.2,203.9 515.3,204.9 515.4,205.4 515.5,205.5 515.6,205.6 515.7,206.8 515.8,207.5 516.0,208.8 516.1,208.6 516.3,208.6 516.5,209.2 516.7,210.2 516.8,211.5 517.1,210.9 517.3,212.1 517.5,212.5 517.7,212.0 517.9,212.9 518.0,213.8 518.2,214.8 518.3,214.3 518.5,215.0 518.6,215.3 518.8,216.4 518.9,216.7 519.1,217.7 519.2,218.4 519.3,218.3 519.4,218.6 519.5,218.6 519.6,220.5 519.7,220.8 519.8,222.2 519.9,222.9 520.0,222.7 520.1,222.9 520.2,223.0 520.3,223.8 520.4,225.4 520.5,225.1 520.6,225.7 520.7,226.2 520.8,227.8 520.9,227.9 521.1,228.3 521.1,228.5 521.2,229.2 521.3,229.4 521.4,229.2 521.5,230.8 521.6,231.0 521.7,230.4 521.8,230.9 521.9,231.9 522.0,233.3 522.1,234.2 522.2,234.9 522.3,234.8 522.4,234.5 522.5,234.7 522.6,235.9 522.7,236.9 522.8,237.3 522.9,238.2 523.0,238.3 523.1,238.7 523.2,239.4 523.3,240.6 523.4,240.6 523.5,241.1 523.7,241.9 523.8,242.1 523.9,243.0 524.0,243.7 524.1,243.4 524.2,244.0 524.4,244.5 524.5,245.8 524.7,245.1 524.8,246.1 525.0,247.5 525.1,247.4 525.3,248.1 525.4,248.7 525.6,248.9 525.8,250.3 526.0,250.7 526.1,250.4 526.3,250.7 526.5,251.5 526.7,252.0 526.8,252.4 527.0,252.4 527.2,253.6 527.4,254.5 527.5,253.0 527.7,253.9 527.9,256.1 528.1,256.5 528.2,256.3 528.4,257.4 528.6,258.3 528.8,258.1 529.1,259.2 529.3,259.9 529.5,259.0 529.7,260.0 529.9,261.7 530.2,261.4 530.4,262.8 530.8,262.5 531.2,263.2 531.7,263.4 532.1,263.9 532.6,263.4 533.2,263.3 533.7,263.4 534.0,263.8 534.3,264.6 534.6,265.3 534.8,265.6 535.1,265.2 535.3,266.7 535.5,266.7 535.7,267.3 535.9,268.3 536.1,268.4 536.2,269.5 536.4,269.3 536.6,270.6 536.8,270.5 536.9,270.6 537.1,271.2 537.3,272.5 537.5,273.4 537.6,272.7 537.8,273.4 538.0,273.8 538.2,275.2 538.4,276.1 538.6,276.8 538.8,277.0 539.1,277.8 539.5,277.8 539.8,278.3 540.2,279.3 540.5,279.8 541.0,279.2 541.5,279.7 541.9,278.8 542.4,279.5 542.9,279.7 543.4,279.7 543.9,279.2 544.5,279.8 545.0,280.4 545.5,280.4 546.1,280.3 546.6,280.3 547.1,279.6 547.6,279.6 548.2,281.4 548.7,280.7 549.2,279.3 549.7,279.8 550.3,280.0 550.8,280.3 551.3,279.7 551.8,280.7 552.2,280.9 552.6,280.9 553.1,280.7 553.5,281.1 553.9,281.4 554.4,282.2 554.9,282.4 555.3,282.0 555.8,282.5 556.3,282.9 556.8,283.6 557.4,283.2 557.9,282.8 558.4,282.8 558.9,282.6 559.5,282.9 560.0,282.9 560.5,282.5 561.1,283.2 561.6,282.4 562.1,281.6 562.6,282.0 563.2,282.3 563.8,281.4 564.3,282.7 564.9,282.1 565.5,282.7 566.0,282.9 566.6,282.9 567.1,282.4 567.6,282.6 568.2,282.2 568.7,281.6 569.2,281.7 569.7,282.0 570.3,281.5 570.8,280.9 571.3,280.7 571.8,281.0 572.4,281.3 572.9,280.5 573.4,282.2 573.8,281.7 574.3,282.1 574.7,282.5 575.1,282.7 575.6,283.9 576.0,282.5 576.4,284.0 576.9,284.6 577.3,285.5 577.8,285.2 578.2,285.8 578.6,285.9 579.1,285.6 579.5,285.9 580.0,286.6 580.4,287.1 580.8,287.1 581.3,287.9 581.8,288.1 582.2,288.9 582.7,288.9 583.2,288.8 583.7,288.3 584.2,289.0 584.7,288.9 585.3,287.9 585.8,287.4 586.3,288.0 586.6,286.9 586.9,287.2 587.2,287.5 587.4,287.0 587.7,286.9 588.0,286.7 588.3,286.2 588.5,285.7 588.6,284.1 588.8,283.6 589.0,283.0 589.2,282.2 589.3,282.2 589.5,281.6 589.8,280.4 590.0,280.8 590.3,280.1 590.6,280.2 590.9,279.4 591.4,279.5 591.8,278.6 592.2,278.3 592.7,278.2 593.1,278.7 593.6,277.7 594.0,276.8 594.4,275.2 594.9,276.4 595.3,276.7 595.7,277.2 596.2,278.5 596.6,278.9 597.0,278.9 597.3,279.0 597.7,278.8 598.0,279.4 598.3,280.1 598.7,280.9 599.0,281.2 599.3,281.4 599.6,280.4 599.9,281.9 600.2,282.6 600.5,283.2 600.8,283.0 601.3,284.0 601.7,284.3 602.2,284.9 602.7,285.0 603.2,285.2 603.7,285.2 604.2,285.0 604.7,286.2 605.3,285.4 605.8,286.5 606.3,286.1 606.8,285.9 607.4,287.4 607.9,287.4 608.4,286.4 608.9,287.1 609.5,286.7 610.0,286.9 610.5,287.3 611.1,287.8 611.6,287.7 612.1,287.4 612.6,287.1 613.2,286.6 613.7,287.0 614.2,286.8 614.7,286.6 615.3,286.7 615.7,287.2 616.2,286.4 616.7,285.7 617.1,285.9 617.6,285.4 618.0,284.9 618.5,285.6 619.0,284.3 619.5,284.2 620.0,284.7 620.5,284.4 621.1,284.1 621.6,283.4 622.1,283.1 622.6,283.2 623.2,283.2 623.7,283.7 624.2,283.3 624.7,282.5 625.3,282.7 625.8,282.9 626.3,282.7 626.8,282.8 627.4,283.0 627.9,282.4 628.4,282.6 628.9,283.7 629.5,283.2 630.0,283.1 630.5,283.0 631.1,282.8 631.6,282.7 632.1,283.4 632.7,283.8 633.2,283.4 633.8,283.9 634.3,284.5 634.9,285.1 635.4,284.1 635.9,285.0 636.4,285.4 637.0,285.6 637.5,285.4 638.0,284.9 638.6,284.5 639.1,284.9 639.7,284.8 640.2,284.9 640.8,285.3 641.3,285.7 641.9,287.4 642.4,285.1 643.0,285.5 643.5,285.5 644.1,283.9 644.6,284.5 645.2,284.7 645.7,283.9 646.3,284.3 646.8,285.3 647.4,284.0 647.9,283.7 648.4,283.5 648.9,283.6 649.4,283.7 649.9,283.2 650.4,283.0 650.9,282.9 651.4,282.7 651.9,282.3 652.4,281.5 652.9,281.7 653.5,281.7 654.0,282.2 654.5,282.6 655.0,282.5 655.6,281.9 656.1,281.6 656.7,281.4 657.2,281.1 657.7,280.5 658.2,280.6 658.6,279.4 659.0,279.9 659.5,279.1 659.7,279.2 660.0,278.6 660.2,278.1 660.5,278.1 660.7,277.1 661.0,276.8 661.2,276.5 661.4,276.0 661.7,274.5 661.9,274.1 662.1,273.3 662.3,272.7 662.5,272.7 662.8,272.2 663.0,272.4 663.2,272.3 663.4,271.1 663.6,271.4 663.9,270.1 664.1,270.8 664.3,269.7 664.5,268.6 664.7,268.1 665.0,267.7 665.2,267.3 665.4,266.9 665.7,266.2 666.0,265.3 666.2,264.7 666.5,264.7 666.8,263.1 667.1,263.9 667.4,262.4 667.7,261.8 668.1,262.1 668.4,261.2 668.8,260.4 669.2,260.6 669.6,259.6 670.1,259.7 670.6,259.8 671.1,259.7 671.6,258.6 672.1,258.4 672.6,258.8 673.1,259.3 673.5,259.8 673.9,261.5 674.3,260.9 674.7,261.6 675.1,262.1 675.5,262.2 675.9,263.0 676.3,262.3 676.7,263.0 677.1,262.9 677.5,263.5 677.9,264.9 678.3,265.0 678.7,264.7 679.1,265.0 679.5,265.8 679.9,266.9 680.3,268.0 680.7,267.0 681.1,266.8 681.4,266.6 681.8,268.1 682.2,268.5 682.6,269.3 683.0,269.7 683.4,270.3 683.8,271.1 684.3,271.0 684.7,270.7 685.1,272.3 685.6,272.3 686.0,272.1 686.5,272.7 687.0,272.8 687.5,273.2 687.9,273.1 688.4,273.4 688.9,273.3 689.5,273.0 690.0,274.5 690.5,275.1 691.1,274.6 691.6,275.0 692.1,274.4 692.6,275.5 693.2,270.7 693.4,275.5 693.7,273.5 693.9,279.3 694.2,274.6 694.4,277.5 694.6,274.5 694.9,276.8 695.1,278.5 695.4,276.0 695.6,276.7 695.8,278.2 696.1,276.7 696.3,277.0 696.6,278.4 696.8,277.6 697.1,277.9 697.4,276.9 697.6,276.0 697.9,277.2 698.2,276.5 698.4,279.0 698.7,278.3 698.9,278.4 699.2,276.7 699.5,276.9 699.7,278.6 700.0,279.1 700.3,276.6 700.5,277.3 700.8,278.4 701.1,278.6 701.3,278.2 701.6,279.2 701.8,279.6 702.1,277.8 702.4,280.0 702.6,277.4 702.9,280.6 703.2,278.8 703.4,277.8 703.7,280.9 703.9,281.1 704.2,280.0 704.5,278.2 704.7,279.6 705.0,280.4 705.3,276.7 705.5,279.3 705.8,278.0 706.1,278.1 706.3,281.1 706.6,279.3 706.8,280.5 707.1,279.5 707.4,279.1 707.6,280.6 707.9,280.8 708.2,280.8 708.4,282.1 708.7,280.5 708.9,278.2 709.2,280.4 709.5,281.7 709.7,280.1 710.0,282.9 710.3,279.2 710.5,281.2 710.8,279.9 711.1,282.1 711.3,282.2 711.6,281.9 711.8,283.5 712.1,280.7 712.4,282.0 712.6,280.5 712.9,282.9 713.2,279.7 713.4,284.0 713.7,279.0 713.9,279.3 714.2,282.7 714.5,283.8 714.7,284.9 715.0,281.6 715.3,280.8 715.6,280.0 715.9,281.8 716.1,285.7 716.4,282.0 716.7,282.0 717.0,282.0 717.2,280.9 717.5,282.5" fill="none" stroke="#ff00ff" stroke-width="1.7" stroke-linejoin="round" stroke-linecap="butt" />
<polyline points="31.0,286.6 31.5,285.9 32.1,285.7 32.6,286.9 33.2,285.7 33.7,286.6 34.2,285.8 34.7,285.9 35.3,284.5 35.8,285.3 36.3,285.9 36.8,285.1 37.4,284.3 37.9,284.3 38.4,284.1 38.9,284.0 39.5,285.2 40.0,283.3 40.5,283.2 41.1,284.1 41.6,283.1 42.1,282.8 42.6,284.3 43.2,283.5 43.7,283.8 44.2,283.8 44.7,283.5 45.3,283.3 45.8,284.0 46.3,281.2 46.8,282.4 47.4,282.8 47.9,282.6 48.4,282.0 48.9,282.6 49.4,282.8 49.9,283.7 50.3,283.6 50.8,283.6 51.3,283.9 51.8,283.2 52.3,283.2 52.8,283.0 53.3,283.1 53.9,283.4 54.4,283.6 55.0,283.5 55.4,284.4 55.8,283.4 56.2,284.3 56.6,284.7 57.0,285.2 57.5,285.2 58.0,284.2 58.5,285.1 58.9,283.7 59.5,283.8 60.0,284.5 60.5,283.7 61.1,284.8 61.6,284.6 62.1,284.3 62.6,284.0 63.2,283.7 63.7,282.9 64.2,284.4 64.8,284.2 65.3,283.3 65.9,283.5 66.4,283.8 67.0,283.5 67.5,284.0 68.0,284.3 68.6,284.0 69.1,283.8 69.7,283.4 70.2,283.5 70.8,282.9 71.3,284.4 71.8,283.3 72.4,282.7 72.9,282.6 73.4,282.7 73.9,282.8 74.5,283.4 75.0,283.4 75.6,282.7 76.1,280.4 76.4,281.9 76.6,285.4 76.9,280.8 77.2,279.6 77.5,283.3 77.7,284.9 78.0,283.4 78.3,285.3 78.5,280.2 78.8,283.3 79.1,283.0 79.4,282.2 79.6,282.2 79.9,280.1 80.2,282.4 80.5,285.1 80.7,279.5 81.0,285.2 81.3,285.2 81.5,282.7 81.8,285.0 82.1,282.0 82.4,283.5 82.6,285.2 82.9,282.8 83.2,286.1 83.4,282.8 83.7,283.0 84.0,283.0 84.3,282.8 84.5,285.1 84.8,287.6 85.1,283.8 85.4,280.1 85.6,280.9 85.9,284.9 86.2,279.1 86.4,286.1 86.7,277.7 87.0,283.0 87.3,283.3 87.5,278.7 87.8,279.6 88.1,282.5 88.3,283.0 88.6,278.5 88.9,285.5 89.2,278.7 89.4,281.9 89.7,283.8 90.0,285.3 90.3,280.3 90.5,284.7 90.8,285.8 91.1,281.6 91.3,287.3 91.6,277.4 91.9,277.9 92.2,281.1 92.4,282.4 92.7,285.4 93.0,279.1 93.2,282.4 93.5,279.3 93.8,281.5 94.1,286.6 94.3,284.7 94.6,283.8 94.9,287.6 95.2,280.9 95.4,285.7 95.7,290.9 96.0,282.3 96.2,282.6 96.5,281.1 96.8,275.2 97.1,281.9 97.3,281.4 97.6,284.8 97.9,282.5 98.1,284.9 98.4,281.0 98.7,278.3 99.0,282.7 99.2,279.6 99.5,277.8 99.8,284.7 100.1,282.7 100.3,284.4 100.6,282.7 100.9,284.3 101.1,280.9 101.4,284.2 101.7,285.2 102.0,280.4 102.2,284.0 102.5,283.5 102.8,285.6 103.0,286.5 103.3,288.5 103.6,283.0 103.9,281.6 104.1,284.3 104.4,280.5 104.7,286.1 105.0,280.8 105.2,282.4 105.5,281.7 105.8,282.5 106.0,279.8 106.3,283.2 106.6,283.9 107.0,284.2 107.5,284.7 108.0,285.3 108.5,286.2 108.9,285.3 109.5,285.1 110.0,285.4 110.5,286.0 111.1,285.7 111.6,285.8 112.0,284.3 112.4,284.6 112.8,284.2 113.2,284.1 113.6,283.9 114.0,283.8 114.4,280.8 114.7,280.9 115.1,281.5 115.5,281.0 115.8,280.9 116.2,280.7 116.5,280.5 116.9,280.3 117.2,279.3 117.6,279.1 117.9,280.4 118.2,277.4 118.6,277.9 118.9,278.1 119.2,279.3 119.5,279.2 119.8,280.2 120.1,280.3 120.6,280.0 121.1,281.3 121.6,282.2 122.1,283.4 122.4,282.9 122.7,283.3 123.1,283.8 123.4,283.7 123.7,284.3 124.0,284.8 124.4,285.2 124.7,284.9 125.1,286.2 125.4,286.9 125.9,284.8 126.4,285.6 126.8,285.7 127.3,285.9 127.8,284.7 128.3,284.6 128.8,285.8 129.3,285.4 129.8,285.2 130.3,286.1 130.8,285.3 131.3,286.9 131.8,285.6 132.3,285.5 132.8,285.9 133.3,286.7 133.8,286.0 134.3,284.6 134.8,284.4 135.3,284.9 135.8,284.8 136.4,284.8 136.9,283.9 137.5,283.5 138.1,284.4 138.6,283.9 139.2,283.5 139.8,284.1 140.3,284.8 140.9,284.0 141.4,285.4 142.0,285.6 142.6,285.0 143.1,283.8 143.7,282.7 144.2,284.6 144.7,285.1 145.3,285.1 145.8,284.9 146.3,285.6 146.8,285.8 147.4,286.0 147.9,284.8 148.4,285.9 148.8,285.2 149.3,284.2 149.8,284.4 150.3,285.7 150.8,284.3 151.3,285.0 151.9,283.5 152.4,284.9 153.0,284.1 153.5,284.6 154.1,284.5 154.6,284.2 155.0,284.8 155.5,284.1 155.9,283.4 156.4,284.0 156.8,283.6 157.2,283.0 157.7,283.3 158.1,284.2 158.6,284.8 159.0,284.6 159.5,285.5 160.0,284.7 160.5,286.8 160.8,284.0 161.0,284.6 161.3,284.0 161.5,282.6 161.8,284.5 162.0,280.4 162.3,283.1 162.5,282.9 162.8,279.6 163.1,280.5 163.3,282.8 163.6,279.0 163.9,279.9 164.2,279.3 164.5,278.5 164.8,277.2 165.2,277.3 165.6,276.8 166.0,276.9 166.4,275.6 166.7,274.4 167.1,276.0 167.5,275.4 168.0,275.7 168.4,275.0 168.9,273.7 169.3,273.6 169.7,273.5 170.2,273.4 170.7,272.5 171.2,273.7 171.7,274.5 172.0,273.7 172.4,275.6 172.7,275.8 173.0,275.7 173.4,276.4 173.7,278.9 174.1,278.4 174.6,277.0 175.0,277.1 175.4,276.1 175.7,275.1 175.9,275.7 176.1,276.0 176.3,278.3 176.4,277.8 176.6,278.0 176.8,279.9 176.9,281.7 177.1,281.0 177.3,281.5 177.5,282.4 177.7,281.7 177.8,282.2 178.0,282.1 178.2,282.6 178.4,283.2 178.6,284.2 178.8,284.1 178.9,283.0 179.0,283.2 179.2,282.0 179.3,284.2 179.4,280.6 179.6,280.5 179.7,282.4 179.9,280.2 180.0,279.9 180.1,277.5 180.3,278.3 180.6,277.5 180.9,278.2 181.2,277.6 181.6,277.4 181.9,274.3 182.2,277.3 182.7,278.3 183.2,278.3 183.7,274.5 184.2,276.9 184.5,275.7 184.9,275.8 185.2,274.4 185.5,278.3 185.9,271.0 186.2,274.3 186.4,273.9 186.7,271.9 186.9,272.0 187.2,272.1 187.4,268.2 187.7,272.3 187.9,271.2 188.2,269.0 188.7,270.7 189.1,271.5 189.6,268.2 190.1,268.7 190.6,267.8 191.0,269.3 191.4,268.8 191.9,268.1 192.3,266.5 192.6,267.9 192.9,268.4 193.3,269.6 193.6,268.7 193.9,271.7 194.2,270.9 194.6,268.9 194.9,273.1 195.2,273.0 195.6,270.8 195.9,273.0 196.3,273.0 196.7,273.5 197.1,273.2 197.6,271.0 198.0,272.1 198.4,271.7 198.7,274.3 199.0,271.0 199.3,273.5 199.7,274.1 200.0,275.7 200.4,274.7 200.9,276.0 201.3,277.1 201.8,274.5 202.2,274.9 202.7,275.4 203.2,278.1 203.7,275.9 203.8,276.0 204.0,277.1 204.1,276.0 204.3,278.6 204.5,279.3 204.6,279.2 204.8,281.5 204.9,280.1 205.1,279.0 205.2,282.8 205.3,283.2 205.5,283.1 205.6,282.5 205.7,284.6 205.9,282.6 206.0,285.6 206.1,287.1 206.2,285.3 206.5,285.3 206.9,286.2 207.3,286.1 207.7,283.5 208.0,283.6 208.4,285.0 208.7,287.7 209.0,283.9 209.3,283.3 209.6,281.8 209.9,280.7 210.3,281.6 210.7,280.4 211.1,281.1 211.4,280.9 211.8,280.6 212.3,281.0 212.7,279.2 213.1,278.5 213.6,277.3 214.1,278.5 214.6,277.2 215.1,276.7 215.6,276.3 216.0,277.3 216.3,278.2 216.6,278.4 217.0,278.3 217.3,279.7 217.7,279.0 218.1,279.4 218.3,278.3 218.5,278.1 218.6,277.8 218.8,277.9 218.9,277.8 219.1,277.6 219.2,276.9 219.3,276.0 219.4,275.4 219.4,273.6 219.5,273.6 219.6,273.5 219.7,273.1 219.7,272.4 219.8,271.8 219.9,271.5 220.0,271.4 220.1,269.1 220.1,269.6 220.2,269.2 220.3,268.0 220.4,268.3 220.6,267.6 220.7,268.3 220.8,266.3 220.9,265.6 221.0,264.9 221.1,264.9 221.2,264.9 221.4,264.5 221.6,263.1 221.8,262.9 221.9,262.9 222.1,263.1 222.2,262.0 222.3,261.7 222.3,260.0 222.4,259.5 222.5,258.0 222.6,258.5 222.6,257.5 222.7,257.0 222.8,255.3 222.9,255.9 222.9,255.6 222.9,255.0 222.9,254.5 222.8,254.7 222.8,253.8 222.8,253.1 222.8,252.8 222.8,251.5 222.8,251.5 222.8,250.5 222.7,250.0 222.7,250.1 222.7,249.0 222.7,247.8 222.7,247.5 222.7,247.7 222.7,246.7 222.7,246.3 222.6,246.0 222.6,244.7 222.6,244.8 222.6,244.2 222.6,244.8 222.6,243.4 222.7,242.9 222.7,243.1 222.7,241.1 222.8,241.3 222.8,241.1 222.8,239.9 222.9,239.8 222.9,239.4 222.9,238.6 223.0,237.9 223.0,236.8 223.0,237.1 223.1,236.2 223.1,234.7 223.1,233.7 223.2,235.3 223.2,234.4 223.2,233.4 223.3,232.5 223.3,232.0 223.3,231.1 223.4,231.7 223.4,230.0 223.5,230.6 223.5,228.0 223.6,228.9 223.6,227.6 223.7,227.6 223.7,227.4 223.7,226.7 223.8,225.3 223.8,225.9 223.9,224.7 223.9,224.2 224.0,224.4 224.0,224.1 224.1,222.6 224.1,222.6 224.2,221.5 224.2,220.8 224.3,221.1 224.4,220.8 224.4,219.1 224.5,218.5 224.6,217.6 224.6,218.9 224.7,217.5 224.7,216.9 225.0,216.5 225.3,214.4 225.6,215.5 225.7,216.2 225.9,216.2 226.0,216.9 226.2,217.7 226.3,218.4 226.4,216.8 226.5,216.8 226.6,216.6 226.7,216.2 226.8,215.2 226.9,215.1 227.2,214.5 227.6,214.0 227.8,213.4 227.9,213.5 227.9,212.0 228.0,211.2 228.0,211.6 228.1,210.4 228.1,210.0 228.2,209.9 228.3,208.2 228.3,208.2 228.4,207.0 228.4,207.0 228.5,206.8 228.5,205.3 228.5,205.5 228.6,205.9 228.6,205.3 228.6,203.1 228.7,203.0 228.7,203.4 228.7,202.8 228.7,201.1 228.8,200.1 228.8,201.1 228.8,198.9 228.8,198.7 228.9,199.0 228.9,199.1 228.9,197.5 229.0,197.0 229.0,197.0 229.0,195.4 229.0,195.0 229.1,193.5 229.1,194.2 229.1,193.7 229.1,193.9 229.2,193.2 229.2,192.7 229.2,191.6 229.3,192.3 229.3,191.6 229.4,190.8 229.4,190.3 229.4,189.5 229.5,188.8 229.5,188.1 229.5,187.4 229.6,186.7 229.6,186.6 229.6,186.8 229.7,185.5 229.7,185.9 229.7,185.0 229.8,183.1 229.8,182.8 229.9,183.0 230.0,183.2 230.1,185.4 230.2,186.1 230.3,186.2 230.4,186.3 230.5,187.1 230.7,188.6 230.8,190.4 231.0,189.2 231.0,188.2 231.1,187.0 231.1,186.3 231.2,186.2 231.2,185.4 231.2,184.4 231.3,184.3 231.3,184.5 231.4,184.5 231.4,184.1 231.5,183.5 231.5,182.2 231.5,182.1 231.6,180.6 231.6,180.9 231.7,181.6 231.7,182.0 231.8,182.1 231.8,182.9 231.9,183.4 232.0,184.0 232.0,185.4 232.1,183.8 232.1,185.0 232.2,185.7 232.2,186.7 232.3,186.3 232.3,187.5 232.4,188.2 232.4,188.5 232.4,189.2 232.5,190.7 232.5,189.8 232.6,191.0 232.6,190.9 232.6,191.7 232.7,191.8 232.7,192.9 232.8,193.2 232.8,192.7 232.8,193.5 232.9,194.6 232.9,196.2 233.0,196.8 233.0,195.7 233.0,198.1 233.1,195.5 233.1,197.0 233.1,198.4 233.2,199.7 233.2,199.4 233.2,200.1 233.3,201.1 233.3,201.3 233.4,202.0 233.4,204.2 233.4,203.5 233.5,204.6 233.5,204.4 233.5,205.6 233.6,206.0 233.6,206.2 233.6,207.1 233.7,206.6 233.7,207.1 233.8,208.4 233.8,208.6 233.8,209.2 233.9,210.5 233.9,210.7 233.9,211.5 234.0,212.2 234.0,212.4 234.1,212.7 234.1,212.9 234.1,213.6 234.2,214.6 234.2,214.8 234.2,216.1 234.3,215.8 234.3,216.0 234.3,217.4 234.4,218.7 234.4,218.7 234.5,218.5 234.5,219.2 234.5,219.8 234.6,220.4 234.6,221.1 234.6,221.4 234.7,221.8 234.7,222.4 234.7,223.6 234.8,222.7 234.8,224.5 234.9,224.0 234.9,224.4 234.9,225.8 235.0,226.2 235.0,228.7 235.0,227.2 235.1,227.8 235.1,227.5 235.1,228.9 235.2,229.7 235.2,231.7 235.3,231.0 235.3,230.5 235.4,232.0 235.4,231.9 235.4,232.2 235.5,233.0 235.5,233.5 235.6,235.4 235.6,235.5 235.7,235.5 235.7,236.4 235.8,237.6 235.8,237.4 235.8,238.5 235.9,238.8 235.9,239.5 236.0,239.3 236.1,240.6 236.1,241.6 236.2,241.3 236.3,241.3 236.3,242.6 236.4,243.4 236.5,244.3 236.5,244.0 236.6,244.4 236.6,245.8 236.7,245.6 236.7,247.3 236.8,247.2 236.8,247.2 236.8,248.2 236.9,249.2 236.9,248.5 236.9,249.2 237.0,250.0 237.0,250.5 237.1,250.2 237.1,252.4 237.1,252.0 237.2,252.5 237.2,254.6 237.2,254.9 237.3,254.8 237.3,256.1 237.3,255.8 237.4,255.5 237.4,256.0 237.5,256.0 237.7,255.7 237.8,255.6 237.9,255.2 238.0,254.2 238.2,252.6 238.3,253.1 238.6,252.8 238.9,252.9 239.2,252.5 239.3,253.1 239.5,252.8 239.7,253.3 239.9,251.6 240.0,250.9 240.3,250.9 240.5,252.8 240.8,251.2 241.0,252.9 241.1,255.1 241.2,253.9 241.3,253.9 241.4,256.0 241.4,256.7 241.5,257.3 241.6,258.0 241.7,257.8 241.8,258.2 241.8,258.3 241.9,259.2 241.9,259.7 242.0,259.7 242.1,260.3 242.1,261.0 242.2,261.5 242.2,261.5 242.3,262.5 242.3,263.4 242.4,262.9 242.4,264.3 242.5,265.0 242.6,265.4 242.6,266.2 242.7,267.5 242.7,267.1 242.8,267.4 242.9,267.8 242.9,268.1 243.0,268.6 243.1,270.3 243.1,271.7 243.2,270.6 243.2,271.7 243.3,272.4 243.4,272.2 243.4,272.4 243.5,274.0 243.6,274.1 243.6,274.9 243.7,274.8 243.8,275.3 243.8,276.6 243.9,276.8 244.0,276.7 244.1,277.6 244.2,279.0 244.3,278.6 244.4,279.4 244.5,280.7 244.6,280.9 244.7,280.9 244.8,282.0 245.0,282.2 245.2,283.5 245.5,282.7 245.7,284.9 246.0,283.6 246.3,282.5 246.7,283.4 246.9,282.6 247.0,282.1 247.1,281.5 247.2,281.7 247.3,279.8 247.4,280.6 247.5,280.2 247.5,279.0 247.7,276.8 247.8,278.0 248.0,276.6 248.1,275.6 248.3,274.0 248.4,275.9 248.5,276.7 248.6,276.1 248.7,276.6 248.8,276.4 248.9,277.4 249.0,277.5 249.1,278.7 249.2,279.4 249.3,279.6 249.3,280.3 249.4,281.2 249.5,282.3 249.6,283.9 249.7,284.0 249.8,283.9 249.9,283.6 250.0,281.1 250.0,282.4 250.1,281.3 250.2,281.1 250.3,281.4 250.4,279.2 250.5,279.0 250.6,278.1 250.8,277.6 250.9,276.5 251.1,277.0 251.2,276.3 251.4,276.0 251.5,275.1 251.7,275.0 251.8,274.4 252.0,275.2 252.1,276.0 252.2,276.4 252.4,276.5 252.5,277.0 252.6,277.3 252.8,277.5 252.9,278.3 253.0,278.8 253.2,279.1 253.4,280.2 253.6,280.0 253.8,280.9 254.0,281.1 254.2,280.9 254.4,282.4 254.6,283.1 254.9,282.9 255.1,281.8 255.4,280.8 255.7,280.5 255.9,280.0 256.2,279.6 256.6,279.3 257.1,278.3 257.5,278.0 257.9,277.9 258.3,277.6 258.7,277.5 259.1,278.2 259.4,276.5 259.8,275.6 260.1,275.5 260.6,277.3 261.1,276.1 261.6,275.2 262.1,274.7 262.4,277.5 262.8,275.9 263.1,276.4 263.4,276.5 263.8,277.1 264.1,277.7 264.6,277.9 265.1,278.0 265.6,277.4 266.1,278.5 266.4,278.2 266.8,276.8 267.2,276.6 267.6,276.4 268.0,276.5 268.4,276.5 268.8,275.1 269.2,274.4 269.6,274.6 270.0,274.2 270.1,275.1 270.2,275.2 270.3,276.1 270.4,276.0 270.5,277.2 270.6,278.3 270.7,277.5 270.8,279.2 270.9,280.3 271.1,280.9 271.3,280.6 271.6,281.4 271.9,281.6 272.2,282.1 272.5,282.5 272.9,282.6 273.4,283.0 273.9,282.5 274.4,283.1 274.9,281.4 275.3,281.1 275.8,281.8 276.3,281.5 276.8,283.1 277.3,282.1 277.8,281.5 278.3,281.8 278.7,282.1 279.1,282.2 279.5,282.6 279.9,283.2 280.3,282.9 280.6,282.6 280.8,282.1 281.1,281.5 281.4,279.2 281.7,281.7 282.1,280.7 282.6,281.9 283.2,281.1 283.4,279.2 283.5,279.5 283.6,279.7 283.6,281.0 283.7,279.2 283.7,279.6 283.8,278.6 283.8,276.5 283.9,277.1 283.9,278.1 284.0,275.3 284.1,274.5 284.1,275.0 284.2,274.0 284.2,275.8 284.3,273.3 284.3,272.6 284.4,272.6 284.4,271.2 284.5,268.5 284.6,270.5 284.7,269.3 284.7,270.0 284.8,268.9 284.9,268.2 284.9,267.8 285.0,267.2 285.1,267.2 285.2,261.3 285.2,263.6 285.3,264.9 285.4,263.5 285.5,263.3 285.5,263.0 285.8,263.3 286.1,263.4 286.4,264.2 286.5,265.5 286.6,262.4 286.6,265.9 286.7,263.7 286.7,264.9 286.8,263.9 286.8,264.8 286.9,266.8 286.9,267.0 287.0,265.8 287.0,268.2 287.1,268.0 287.2,269.6 287.2,269.9 287.3,271.5 287.3,271.5 287.4,270.9 287.4,271.3 287.5,272.4 287.6,273.5 287.7,273.8 287.7,273.1 287.8,273.6 287.9,274.7 287.9,275.5 288.0,274.7 288.1,276.7 288.2,276.3 288.2,277.4 288.3,278.5 288.4,279.4 288.5,278.7 288.7,277.8 288.8,278.8 289.0,281.5 289.1,281.2 289.3,282.2 289.4,281.8 289.6,282.0 289.7,282.8 290.0,284.0 290.3,285.8 290.6,284.5 290.9,283.5 291.2,285.6 291.5,286.2 291.9,284.2 292.3,286.0 292.6,285.3 293.0,283.7 293.6,285.2 294.2,284.8 294.7,284.8 295.2,285.7 295.6,286.0 296.0,284.3 296.4,283.5 296.8,283.5 297.1,284.4 297.2,282.0 297.4,281.5 297.5,281.6 297.7,279.6 297.8,279.5 298.0,278.5 298.1,280.7 298.3,278.4 298.5,278.3 298.7,276.8 298.9,276.7 299.1,276.0 299.3,275.7 299.5,275.7 299.7,273.7 300.0,274.6 300.2,274.3 300.4,274.1 300.7,271.5 300.9,273.1 301.3,271.6 301.7,273.3 302.0,273.7 302.4,274.0 302.6,273.3 302.8,275.8 303.1,271.9 303.3,270.1 303.6,272.1 303.9,272.3 304.3,269.7 304.7,270.2 305.0,269.5 305.3,270.5 305.6,271.0 305.9,271.6 306.2,272.3 306.4,271.4 306.6,270.0 306.8,269.5 307.0,268.1 307.2,267.9 307.4,268.6 307.6,269.4 307.8,266.1 308.0,268.5 308.2,270.9 308.4,270.7 308.6,271.9 308.8,272.0 309.2,272.7 309.6,271.4 309.9,273.8 310.3,273.9 310.7,273.3 311.1,274.6 311.4,275.0 311.7,274.1 311.9,272.4 312.2,273.9 312.4,271.6 312.6,271.7 312.9,272.1 313.1,272.3 313.4,272.7 313.6,271.5 313.8,273.3 314.1,274.8 314.3,275.4 314.5,274.2 314.7,274.6 314.9,277.1 315.1,276.2 315.3,276.8 315.5,276.6 315.8,277.0 316.0,275.4 316.2,276.6 316.5,273.9 316.7,277.4 317.0,275.0 317.3,273.8 317.6,273.3 317.9,274.0 318.2,272.2 318.6,273.6 319.0,273.8 319.3,273.7 319.6,273.4 319.8,275.7 320.1,274.5 320.3,277.1 320.5,278.3 320.8,277.7 321.2,276.1 321.6,278.0 322.0,277.3 322.4,281.3 322.7,277.7 323.1,279.4 323.5,280.5 323.8,281.2 324.0,280.0 324.2,281.9 324.4,281.4 324.6,281.3 324.8,280.7 325.1,283.8 325.3,282.9 325.6,283.7 326.0,285.1 326.3,285.6 326.7,284.6 327.0,285.3 327.2,284.2 327.5,285.4 327.7,283.8 327.9,282.1 328.2,285.3 328.4,281.2 328.8,281.7 329.3,281.3 329.8,281.7 330.3,281.4 330.8,280.5 331.3,281.3 331.8,280.7 332.4,281.0 332.9,280.1 333.4,280.9 333.9,280.5 334.5,280.1 335.0,280.3 335.5,280.0 336.1,280.7 336.6,281.3 337.1,281.0 337.6,282.0 338.2,281.1 338.7,281.1 339.2,281.8 339.7,281.6 340.3,281.9 340.8,282.9 341.3,281.6 341.8,281.8 342.4,282.2 342.9,281.6 343.3,282.7 343.8,281.5 344.3,280.6 344.8,281.0 345.3,279.2 345.8,277.9 346.3,279.4 346.8,279.0 347.4,281.6 347.9,281.4 348.3,282.3 348.7,281.3 349.1,282.9 349.5,280.9 349.9,284.0 350.1,283.8 350.3,283.2 350.6,286.9 350.8,285.5 351.1,285.3 351.2,285.7 351.3,285.7 351.4,286.0 351.4,284.9 351.5,283.0 351.6,282.4 351.6,280.5 351.7,280.3 351.8,281.6 351.8,279.7 351.9,279.2 352.0,279.3 352.0,282.4 352.1,279.4 352.6,279.4 353.1,279.4 353.6,275.5 354.0,275.8 354.5,276.1 354.9,276.3 355.4,276.3 355.8,276.2 356.2,277.2 356.6,275.0 357.0,274.6 357.4,278.5 357.8,274.5 358.2,274.6 358.6,271.9 359.1,273.3 359.5,271.9 359.9,274.2 360.2,273.6 360.5,273.0 360.8,274.6 361.1,274.3 361.2,275.2 361.3,271.9 361.4,273.4 361.6,272.7 361.7,270.3 361.8,269.4 362.0,272.9 362.1,271.8 362.2,268.5 362.4,268.6 362.7,270.6 363.0,268.6 363.2,269.5 363.5,268.6 363.9,266.3 364.2,267.2 364.6,266.1 365.0,268.9 365.2,269.4 365.3,269.9 365.5,272.8 365.6,273.5 365.8,272.4 365.9,272.0 366.1,269.3 366.2,272.6 366.4,272.2 366.6,272.4 366.8,271.0 367.0,272.5 367.2,271.9 367.4,270.7 367.6,271.1 367.7,271.2 367.8,273.2 367.9,270.6 368.0,271.4 368.1,274.7 368.2,273.2 368.3,273.6 368.4,274.6 368.5,275.2 368.6,275.8 368.7,277.7 368.7,276.2 368.8,279.0 368.8,277.9 368.9,275.8 368.9,279.7 368.9,276.6 369.0,276.9 369.0,281.0 369.1,281.4 369.1,283.5 369.2,281.0 369.2,283.7 369.2,281.7 369.3,283.5 369.3,285.9 369.4,285.3 369.4,286.4 369.5,284.8 369.5,287.3 369.5,289.7 369.6,288.6 369.7,288.5 369.8,288.2 369.9,285.9 370.0,285.2 370.1,284.2 370.3,284.6 370.4,285.3 370.5,284.4 370.6,282.8 370.7,282.6 370.9,282.8 371.2,282.0 371.7,284.0 372.2,283.2 372.6,281.6 373.0,282.4 373.4,281.8 373.7,281.0 374.0,284.3 374.3,283.1 374.6,284.5 374.9,284.3 375.4,283.5 375.9,287.0 376.3,287.7 376.8,283.8 377.3,284.6 377.8,285.5 378.3,283.6 378.8,285.8 379.3,284.0 379.8,283.8 380.3,285.8 380.8,286.9 381.2,282.8 381.7,284.6 382.1,284.0 382.5,284.2 383.0,283.7 383.5,283.7 384.0,285.6 384.5,282.7 385.0,280.6 385.4,283.2 385.8,281.4 386.3,281.2 386.7,280.7 387.1,284.7 387.6,280.5 388.0,281.2 388.5,280.5 388.9,280.5 389.4,280.7 389.9,281.3 390.4,280.5 390.9,279.4 391.2,281.1 391.6,282.1 392.0,280.8 392.4,281.6 392.9,282.9 393.4,281.9 393.9,281.6 394.4,281.7 394.8,280.9 395.2,281.9 395.6,283.7 396.0,283.4 396.4,283.2 396.8,281.6 397.3,283.1 397.8,279.4 398.3,282.1 398.8,281.4 399.2,283.2 399.6,285.0 400.1,284.1 400.5,284.5 400.9,281.4 401.2,282.4 401.6,281.5 402.0,283.7 402.3,282.0 402.7,283.0 403.0,282.8 403.3,282.8 403.6,282.9 403.9,283.8 404.2,283.0 404.5,283.6 404.9,284.1 405.4,282.1 405.8,282.9 406.2,282.6 406.6,284.9 407.0,283.6 407.3,284.7 407.7,286.0 408.1,285.1 408.4,283.4 408.7,286.3 408.9,286.6 409.2,283.8 409.5,282.4 409.7,285.4 410.0,281.9 410.3,280.5 410.6,278.8 411.0,280.9 411.3,279.6 411.7,281.3 412.1,280.0 412.3,280.1 412.4,279.8 412.6,280.7 412.8,282.8 412.9,281.9 413.1,283.4 413.3,283.7 413.4,282.9 413.6,282.0 413.9,283.3 414.4,283.0 414.9,289.9 415.4,285.9 415.9,287.5 416.4,285.5 416.9,284.9 417.4,286.1 417.9,284.3 418.4,287.6 418.9,284.5 419.5,287.5 420.0,285.7 420.5,285.4 421.1,286.4 421.7,285.3 422.2,286.1 422.8,285.9 423.4,285.2 423.9,285.6 424.5,286.1 425.1,286.0 425.6,285.7 426.2,285.2 426.7,284.8 427.3,286.1 427.9,284.6 428.4,285.1 428.9,284.8 429.4,284.9 429.9,285.8 430.4,284.7 430.9,284.2 431.4,284.8 431.8,284.3 432.1,283.5 432.4,282.0 432.8,281.7 433.1,282.0 433.4,281.2 433.8,280.8 434.2,281.1 434.6,279.4 435.0,279.6 435.4,280.0 435.9,280.6 436.4,280.5 436.9,281.1 437.4,280.5 437.9,280.4 438.4,282.5 438.9,280.7 439.5,281.6 440.0,281.2 440.5,280.1 441.0,280.8 441.5,281.2 441.9,282.3 442.4,283.1 442.9,282.3 443.4,282.7 443.9,282.8 444.5,283.0 445.0,283.4 445.5,281.9 446.1,281.9 446.6,281.9 447.1,281.1 447.6,281.9 448.2,281.3 448.7,281.2 449.2,282.1 449.7,281.8 450.3,281.7 450.8,281.4 451.3,282.1 451.8,281.4 452.4,282.3 452.9,281.6 453.4,281.4 453.6,281.4 453.8,280.2 453.9,279.3 454.1,278.7 454.3,276.6 454.5,277.5 454.6,277.3 455.0,277.8 455.4,277.2 455.8,277.1 456.3,277.0 456.7,277.0 457.1,275.5 457.6,275.0 458.0,275.1 458.5,274.8 458.9,274.9 459.4,274.1 459.9,276.1 460.4,273.8 460.9,274.4 461.3,272.7 461.8,274.7 462.2,276.0 462.6,276.0 462.9,276.6 463.2,276.4 463.5,275.8 463.8,277.3 464.1,278.2 464.4,279.3 464.7,279.2 465.0,279.0 465.3,279.6 465.6,280.9 465.9,281.8 466.2,283.6 466.6,282.2 466.9,282.5 467.2,281.7 467.6,283.4 467.9,283.8 468.4,282.6 468.9,282.5 469.5,282.9 469.5,282.7 469.6,283.1 469.6,281.3 469.7,280.9 469.7,281.0 469.8,280.0 469.8,280.0 469.8,278.1 469.9,278.2 469.9,277.7 470.0,277.4 470.0,276.4 470.1,276.4 470.1,276.1 470.2,273.2 470.2,274.2 470.3,273.7 470.3,272.4 470.4,273.0 470.5,273.0 470.6,272.1 470.6,271.2 470.7,271.5 470.8,270.2 470.9,269.6 471.0,269.3 471.0,268.2 471.1,267.6 471.2,267.7 471.3,267.6 471.4,267.6 471.6,269.1 471.7,271.3 471.8,269.8 471.9,269.7 472.0,270.6 472.1,271.6 472.2,271.7 472.3,272.4 472.4,273.0 472.4,274.3 472.5,274.7 472.6,274.9 472.6,275.5 472.7,276.4 472.8,276.3 472.9,276.2 472.9,276.5 473.0,277.4 473.1,278.2 473.2,278.8 473.3,281.2 473.5,280.5 473.6,280.4 473.8,281.9 473.9,281.0 474.1,281.5 474.2,283.3 474.4,284.1 474.7,284.5 475.1,284.9 475.6,284.4 476.0,284.9 476.4,284.8 476.9,285.4 477.4,283.4 477.9,284.2 478.4,284.6 478.9,284.9 479.4,285.0 479.9,285.3 480.4,284.9 480.9,283.5 481.4,283.9 481.9,282.6 482.4,282.9 482.8,282.3 483.2,283.5 483.7,282.3 484.1,281.3 484.6,281.8 485.0,282.4 485.5,282.4 486.1,283.4 486.3,282.6 486.5,280.7 486.7,280.4 486.9,280.6 487.2,279.6 487.2,279.3 487.3,279.0 487.4,277.6 487.5,277.6 487.6,278.2 487.7,276.8 487.8,276.5 487.9,275.4 488.0,275.0 488.1,273.9 488.2,273.3 488.3,273.2 488.3,273.6 488.4,273.0 488.5,271.7 488.6,270.2 488.7,270.0 488.8,271.0 488.9,270.6 489.0,269.2 489.1,267.6 489.2,267.3 489.3,267.0 489.4,266.6 489.4,264.8 489.5,265.2 489.6,265.4 489.7,264.2 489.8,263.8 489.9,264.0 490.0,262.7 490.1,261.7 490.2,261.8 490.3,261.5 490.4,260.5 490.4,258.8 490.5,259.1 490.6,258.2 490.7,258.8 490.7,258.6 490.8,257.2 490.9,256.8 491.0,255.7 491.1,255.0 491.1,255.9 491.2,254.6 491.3,254.0 491.4,253.6 491.5,253.1 491.6,252.7 491.8,251.3 491.9,251.6 492.0,250.8 492.2,251.0 492.3,250.3 492.4,250.4 492.7,250.3 493.0,250.6 493.2,249.8 493.3,250.2 493.3,249.7 493.4,250.3 493.5,248.2 493.6,248.8 493.6,247.4 493.7,246.8 493.8,246.2 493.9,245.5 493.9,245.2 494.0,244.7 494.0,244.5 494.1,242.7 494.1,242.4 494.1,242.3 494.1,241.0 494.2,240.2 494.2,239.7 494.2,239.7 494.3,239.3 494.3,238.9 494.3,238.7 494.3,238.0 494.4,237.1 494.4,235.7 494.4,235.7 494.4,235.4 494.4,235.6 494.5,234.8 494.5,234.0 494.5,233.6 494.5,232.3 494.6,231.6 494.6,230.5 494.6,229.7 494.6,229.9 494.6,228.9 494.7,229.0 494.7,228.5 494.7,229.2 494.7,227.7 494.8,227.7 494.8,227.1 494.8,226.8 494.9,225.2 494.9,224.8 494.9,224.0 495.0,223.5 495.0,223.5 495.0,222.5 495.0,221.7 495.1,223.0 495.1,221.5 495.1,220.8 495.2,220.1 495.2,218.8 495.2,219.4 495.3,217.9 495.3,217.9 495.3,216.9 495.4,216.9 495.4,216.3 495.4,215.1 495.5,216.4 495.5,216.1 495.5,213.8 495.5,213.3 495.6,211.9 495.6,211.4 495.6,211.5 495.7,211.3 495.7,209.9 495.8,209.9 495.8,208.8 495.8,209.0 495.9,209.2 495.9,208.3 495.9,208.0 496.0,207.6 496.0,206.3 496.0,206.2 496.1,205.0 496.1,205.3 496.1,204.2 496.2,203.8 496.2,203.9 496.2,202.8 496.3,201.7 496.3,201.9 496.4,200.4 496.5,199.9 496.5,199.6 496.6,199.8 496.7,198.5 496.8,197.3 496.9,197.0 496.9,196.6 497.0,195.6 497.1,197.1 497.1,197.1 497.2,197.5 497.2,198.2 497.2,197.9 497.3,200.0 497.3,200.0 497.4,200.9 497.4,200.5 497.4,201.6 497.5,201.7 497.5,202.8 497.6,203.2 497.6,202.6 497.6,203.2 497.7,204.7 497.7,204.2 497.7,204.8 497.8,206.4 497.8,207.2 497.8,207.0 497.8,208.6 497.9,209.2 497.9,208.6 497.9,209.6 498.0,209.5 498.0,210.6 498.0,210.5 498.0,211.3 498.1,212.3 498.1,211.6 498.1,212.5 498.1,213.7 498.2,214.4 498.2,213.7 498.2,215.2 498.3,215.2 498.3,216.1 498.3,216.1 498.3,216.3 498.4,218.4 498.4,219.3 498.4,219.7 498.4,219.4 498.5,220.2 498.5,220.0 498.5,221.0 498.6,221.5 498.6,222.1 498.6,223.0 498.6,224.2 498.7,223.8 498.7,225.9 498.7,225.5 498.7,226.2 498.8,226.1 498.8,226.7 498.8,226.7 498.9,227.7 498.9,229.2 498.9,229.8 498.9,230.1 499.0,230.9 499.0,230.3 499.0,230.2 499.0,232.0 499.1,232.6 499.1,232.0 499.1,234.5 499.2,235.8 499.2,235.3 499.2,235.0 499.2,234.6 499.2,235.9 499.2,236.0 499.3,237.2 499.3,237.9 499.3,238.3 499.3,238.4 499.3,239.3 499.3,240.5 499.3,241.3 499.4,240.7 499.4,242.2 499.4,242.6 499.4,242.5 499.4,242.7 499.4,243.9 499.5,243.5 499.5,246.6 499.5,245.5 499.5,245.9 499.5,247.3 499.5,246.8 499.6,247.1 499.6,247.9 499.6,248.7 499.6,249.4 499.7,248.9 499.7,250.9 499.7,251.7 499.8,251.6 499.8,251.8 499.8,251.9 499.9,252.5 499.9,254.9 499.9,254.6 500.0,254.4 500.0,255.3 500.0,256.2 500.1,255.9 500.1,256.8 500.2,257.0 500.2,257.6 500.2,258.7 500.3,258.8 500.3,259.1 500.4,259.9 500.4,260.8 500.5,261.4 500.5,262.5 500.6,262.9 500.6,263.7 500.6,262.9 500.7,262.0 500.7,261.5 500.8,260.7 500.8,260.7 500.8,259.3 500.9,259.3 500.9,259.0 500.9,258.8 501.0,257.8 501.0,257.3 501.1,255.9 501.1,255.3 501.1,254.9 501.2,254.6 501.2,254.5 501.2,254.5 501.3,253.8 501.3,253.4 501.3,251.6 501.4,251.0 501.4,251.2 501.5,250.2 501.5,250.0 501.6,249.9 501.7,249.7 501.8,248.0 501.9,247.5 501.9,247.5 502.0,245.0 502.1,246.2 502.1,246.3 502.2,247.1 502.2,248.3 502.3,247.4 502.3,248.9 502.3,249.3 502.4,249.8 502.4,249.1 502.4,250.5 502.5,251.7 502.5,251.6 502.5,252.3 502.6,251.7 502.6,253.0 502.7,254.1 502.7,254.6 502.7,255.1 502.8,255.0 502.8,257.3 502.8,256.9 502.9,258.0 502.9,258.8 502.9,260.1 503.1,259.7 503.2,260.1 503.3,260.1 503.4,261.3 503.5,260.5 503.6,262.7 503.7,262.8 503.8,262.4 503.9,264.4 504.1,264.3 504.3,265.5 504.4,265.5 504.6,265.1 504.7,266.9 504.9,266.9 505.1,267.8 505.3,267.4 505.4,268.7 505.6,269.1 505.8,268.9 505.9,269.4 506.0,270.0 506.1,271.3 506.2,271.4 506.2,273.0 506.3,273.5 506.4,273.4 506.5,275.4 506.6,274.7 506.7,275.0 506.8,275.6 506.9,276.4 507.0,277.9 507.1,278.1 507.2,278.3 507.3,278.0 507.4,278.0 507.5,279.3 507.6,279.3 507.6,278.5 507.7,278.3 507.7,277.2 507.7,275.9 507.7,276.9 507.8,276.2 507.8,274.6 507.8,275.4 507.9,274.6 507.9,274.2 507.9,273.8 507.9,273.0 508.0,272.8 508.0,272.3 508.0,271.2 508.1,269.7 508.1,270.0 508.1,269.0 508.1,269.0 508.2,269.0 508.2,268.7 508.2,267.3 508.2,267.1 508.3,266.8 508.3,265.5 508.3,265.7 508.4,264.5 508.4,263.1 508.4,263.8 508.4,263.6 508.5,262.4 508.5,261.5 508.5,260.2 508.5,258.4 508.6,259.6 508.6,259.7 508.6,259.9 508.7,259.4 508.7,257.8 508.7,257.6 508.8,256.7 508.8,256.1 508.8,255.5 508.9,256.2 508.9,255.3 508.9,253.5 509.0,253.6 509.0,252.7 509.0,251.1 509.0,251.5 509.1,252.0 509.1,251.2 509.1,251.3 509.2,250.4 509.2,250.0 509.2,249.2 509.3,248.8 509.3,247.5 509.3,247.1 509.4,246.4 509.3,245.9 509.2,244.9 509.2,243.2 509.1,242.5 509.1,243.6 509.0,242.6 508.9,243.0 509.0,242.5 509.1,241.8 509.2,241.1 509.3,240.1 509.4,239.3 509.5,238.6 509.6,238.3 509.7,237.6 509.7,238.4 509.8,237.6 509.9,237.0 510.0,236.7 510.1,234.4 510.2,235.1 510.3,233.5 510.4,232.7 510.5,233.4 510.5,232.1 510.6,231.7 510.8,232.4 510.9,230.9 511.1,230.4 511.3,229.8 511.4,229.5 511.6,228.4 512.1,230.6 512.6,228.5 512.7,229.3 512.9,228.7 513.0,227.3 513.1,225.8 513.2,226.0 513.3,226.8 513.5,226.7 513.6,225.1 513.7,224.9 513.9,225.1 514.0,224.8 514.2,227.4 514.4,226.8 514.6,226.1 514.7,227.3 514.9,227.9 515.0,229.4 515.1,229.7 515.3,230.5 515.4,229.1 515.5,230.9 515.7,231.0 515.8,230.8 515.9,231.8 516.0,233.8 516.1,233.9 516.2,233.1 516.2,234.9 516.3,235.4 516.4,236.1 516.5,236.0 516.6,236.6 516.7,237.0 516.8,237.3 516.9,238.1 517.0,238.3 517.1,238.9 517.2,239.8 517.3,240.7 517.3,241.2 517.4,242.0 517.5,242.0 517.6,242.8 517.7,243.8 517.8,244.2 517.9,244.1 518.0,245.3 518.1,245.9 518.2,245.5 518.3,246.8 518.4,246.9 518.4,248.5 518.5,248.2 518.6,249.4 518.7,248.9 518.8,249.0 518.9,250.3 519.0,251.0 519.1,252.1 519.2,252.4 519.3,250.5 519.4,253.1 519.5,253.2 519.6,253.9 519.7,253.4 519.8,255.2 519.9,255.4 519.9,255.6 519.8,255.4 519.7,254.1 519.5,254.0 519.4,254.0 519.3,253.1 519.2,252.9 519.0,252.4 518.9,251.1 518.8,250.0 518.6,250.5 518.5,250.4 518.4,247.9 518.3,248.5 518.1,248.2 518.0,247.9 517.9,246.7 517.7,246.8 517.7,246.0 517.8,247.1 517.9,247.9 518.0,247.5 518.1,249.0 518.2,249.8 518.3,251.0 518.4,251.0 518.5,251.1 518.6,251.9 518.6,251.6 518.7,251.6 518.8,253.1 518.9,253.5 519.0,254.3 519.1,255.6 519.2,256.2 519.3,257.0 519.4,256.9 519.5,257.3 519.6,258.0 519.7,259.2 519.8,259.7 519.9,260.1 520.1,260.4 520.2,260.4 520.3,260.9 520.4,261.3 520.5,262.1 520.6,262.5 520.7,262.7 520.8,264.1 520.9,264.5 521.0,265.4 521.2,265.5 521.3,265.4 521.4,265.9 521.6,266.4 521.7,266.4 521.8,267.9 522.0,268.3 522.2,267.7 522.3,268.0 522.5,269.9 522.7,270.3 522.9,271.3 523.1,271.6 523.3,271.0 523.5,271.8 523.8,271.3 524.0,273.1 524.2,273.7 524.5,274.4 524.8,275.0 525.1,275.2 525.4,275.1 525.6,276.0 525.9,276.6 526.3,276.2 526.6,276.9 526.9,276.8 527.2,278.3 527.5,278.1 527.8,278.7 528.2,278.9 528.5,281.0 528.8,281.1 529.2,280.2 529.6,280.4 530.1,282.6 530.5,281.5 531.0,282.0 531.4,281.8 531.9,281.6 532.4,281.1 532.9,282.3 533.4,282.5 533.9,283.3 534.4,283.5 534.9,283.5 535.3,285.7 535.8,284.1 536.3,285.3 536.7,289.6 537.2,286.9 537.7,284.4 538.2,284.9 538.7,287.6 539.2,284.5 539.7,284.3 540.3,286.1 540.8,287.5 541.3,285.9 541.8,285.5 542.4,286.7 542.9,284.2 543.4,283.9 543.9,286.3 544.5,285.2 545.0,286.0 545.5,285.2 546.1,286.7 546.6,286.1 547.1,285.6 547.6,286.7 548.2,284.5 548.7,286.5 549.2,285.8 549.7,285.1 550.3,286.8 550.8,286.2 551.3,287.0 551.8,286.5 552.4,287.1 552.9,286.1 553.4,287.7 553.9,287.1 554.5,285.7 555.0,285.6 555.5,286.5 556.1,282.7 556.6,287.4 557.1,286.3 557.6,284.2 558.2,286.5 558.7,283.4 559.2,283.9 559.7,287.4 560.2,286.4 560.7,284.5 561.2,282.7 561.7,281.4 562.2,286.5 562.6,283.5 563.2,285.6 563.8,284.0 564.3,283.3 564.9,284.4 565.5,283.6 566.0,284.2 566.6,282.4 567.1,284.9 567.7,284.4 568.3,285.6 568.8,283.1 569.4,285.3 570.0,283.0 570.5,282.0 571.1,284.0 571.7,285.1 572.2,283.4 572.8,283.3 573.3,283.8 573.9,286.0 574.5,286.0 575.0,284.5 575.6,283.2 576.1,284.4 576.7,284.7 577.2,284.7 577.8,282.6 578.3,284.4 578.8,281.5 579.3,282.5 579.9,284.1 580.4,284.8 580.8,283.3 581.3,280.9 581.7,282.9 582.1,282.2 582.6,283.0 583.0,281.8 583.5,286.1 584.0,281.7 584.5,281.6 584.9,282.8 585.4,278.8 585.9,277.6 586.2,278.4 586.6,280.0 587.0,278.9 587.4,277.7 587.8,279.5 588.2,276.8 588.5,276.8 588.9,275.8 589.2,276.7 589.6,276.5 590.0,276.7 590.5,273.2 590.9,276.0 591.4,274.8 591.8,274.4 592.2,275.7 592.7,274.0 593.1,273.5 593.6,276.1 594.0,276.1 594.4,276.1 594.9,276.7 595.3,277.2 595.7,277.8 596.0,281.6 596.3,277.8 596.7,281.4 597.0,275.8 597.3,280.4 597.6,279.2 597.9,284.2 598.1,282.2 598.4,278.5 598.6,281.1 598.9,283.5 599.1,282.1 599.4,284.3 599.7,282.9 600.3,284.0 600.8,283.9 601.3,283.6 601.8,285.0 602.4,284.3 603.0,286.5 603.5,282.3 604.1,283.2 604.6,285.4 605.2,283.0 605.8,283.7 606.3,285.5 606.9,284.2 607.5,284.6 608.0,284.0 608.6,282.7 609.2,282.2 609.7,284.9 610.3,283.7 610.8,284.1 611.3,283.5 611.8,283.6 612.1,282.0 612.4,286.9 612.6,281.0 612.9,285.8 613.2,283.7 613.4,282.4 613.7,281.7 613.9,281.6 614.2,284.8 614.5,282.0 614.7,283.4 615.0,280.6 615.3,282.6 615.5,279.8 615.8,282.9 616.1,283.2 616.3,282.5 616.6,282.0 616.8,279.8 617.1,284.0 617.4,281.5 617.6,283.3 617.9,282.0 618.2,281.5 618.4,281.1 618.7,280.1 618.9,284.0 619.2,282.0 619.5,283.2 619.7,284.8 620.0,283.6 620.3,282.7 620.5,279.4 620.8,279.8 621.1,279.8 621.3,280.1 621.6,280.8 621.8,280.9 622.1,278.9 622.4,281.0 622.6,277.5 622.9,279.4 623.2,281.6 623.4,286.7 623.7,280.5 623.9,282.7 624.2,278.4 624.5,279.7 624.7,282.8 625.0,280.7 625.3,283.2 625.5,282.4 625.8,282.3 626.0,280.4 626.3,282.6 626.5,281.4 626.7,284.7 627.0,282.5 627.2,283.5 627.4,283.3 627.7,283.9 627.9,282.9 628.5,283.8 629.0,283.9 629.6,282.2 630.2,282.1 630.7,279.6 631.3,287.0 631.8,283.5 632.3,281.6 632.8,284.6 633.3,285.5 633.8,284.2 634.2,284.1 634.7,283.5 635.1,283.7 635.6,280.5 636.0,283.8 636.4,282.0 636.9,283.6 637.4,281.9 637.9,283.5 638.4,280.2 638.8,280.7 639.3,279.7 639.8,279.6 640.3,281.0 640.8,279.1 641.2,280.1 641.7,278.4 642.2,278.3 642.7,279.7 643.2,277.5 643.7,275.3 644.2,277.6 644.8,276.3 645.4,277.5 645.8,277.2 646.2,278.8 646.6,279.2 646.9,278.6 647.3,279.0 647.6,279.0 648.1,280.8 648.5,281.2 648.9,280.7 649.4,281.4 649.8,281.6 650.3,281.3 650.7,281.4 651.1,280.1 651.6,279.3 652.1,279.4 652.6,279.9 653.1,280.4 653.6,279.6 654.0,277.9 654.5,278.5 655.0,279.4 655.5,277.5 655.9,277.7 656.2,276.8 656.5,276.4 656.8,276.1 657.2,276.4 657.5,275.4 657.7,275.6 658.0,273.8 658.2,274.5 658.5,272.1 658.7,273.1 659.0,273.1 659.2,271.8 659.5,271.8 659.7,271.5 660.0,271.0 660.2,270.3 660.5,270.5 660.7,270.0 661.0,269.3 661.2,268.3 661.4,267.6 661.7,268.7 662.0,267.3 662.2,267.2 662.5,266.2 662.8,264.1 663.0,264.6 663.3,265.2 663.7,264.6 664.2,264.8 664.7,263.4 665.1,263.0 665.6,262.7 666.1,262.9 666.6,263.1 667.1,262.5 667.4,262.9 667.7,263.5 668.0,264.7 668.3,264.9 668.5,264.9 668.9,264.8 669.4,265.0 669.9,264.9 670.4,265.4 670.9,265.6 671.4,265.8 671.9,265.9 672.4,266.3 672.8,266.7 673.1,267.6 673.5,267.5 673.8,267.8 674.1,269.3 674.4,269.7 674.8,270.0 675.1,269.8 675.4,271.0 675.8,270.6 676.1,272.6 676.4,272.5 676.7,272.0 677.1,272.2 677.4,272.8 677.7,274.2 678.1,273.6 678.4,274.9 678.7,274.5 679.1,274.8 679.4,275.1 679.8,275.6 680.2,276.3 680.5,277.7 680.9,277.8 681.3,278.4 681.7,278.1 682.1,278.3 682.5,278.6 683.0,279.3 683.5,278.1 684.0,279.2 684.5,279.2 685.0,280.0 685.5,280.1 686.0,281.7 686.4,281.5 686.9,282.8 687.4,282.4 687.9,282.0 688.4,282.9 688.9,283.1 689.5,281.9 690.0,281.7 690.5,282.1 691.1,282.1 691.5,283.5 692.0,283.7 692.5,282.7 693.0,282.9 693.2,284.7 693.4,286.4 693.7,284.7 693.9,283.9 694.2,283.2 694.5,282.0 694.7,288.9 695.0,283.7 695.3,285.0 695.5,284.4 695.8,276.3 696.1,284.9 696.3,282.1 696.6,286.6 696.9,284.7 697.2,288.3 697.4,285.3 697.7,287.0 698.0,280.2 698.3,283.3 698.6,280.3 698.9,284.0 699.1,281.0 699.4,283.0 699.7,285.0 700.0,286.1 700.3,283.6 700.5,283.1 700.8,282.7 701.1,285.9 701.4,279.6 701.7,283.4 702.0,278.5 702.2,283.1 702.5,285.4 702.8,282.6 703.1,287.4 703.4,287.9 703.6,283.9 703.9,283.9 704.2,282.1 704.5,284.9 704.8,283.0 705.1,282.6 705.3,285.8 705.6,285.0 705.9,284.0 706.2,284.6 706.5,281.8 706.7,286.7 707.0,280.6 707.3,284.6 707.6,285.1 707.9,285.1 708.2,280.1 708.4,278.7 708.7,281.3 709.0,283.5 709.3,284.1 709.6,283.2 709.8,285.3 710.1,285.5 710.4,287.5 710.7,281.5 711.0,284.6 711.3,281.3 711.5,288.3 711.8,281.6 712.1,289.3 712.4,284.0 712.6,279.9 712.9,283.0 713.2,283.4 713.4,283.1 713.7,281.0 713.9,282.1 714.2,282.9 714.5,281.8 714.7,282.9 715.0,282.4 715.3,280.3 715.6,284.0 715.9,292.6 716.1,283.2 716.4,282.3 716.7,282.5 717.0,280.2 717.2,282.5 717.5,281.8" fill="none" stroke="#00b4b4" stroke-width="1.7" stroke-linejoin="round" stroke-linecap="butt" />
<line x1="32.0" x2="716.2" y1="287.2" y2="287.2" stroke="#000" stroke-width="1.4" stroke-dasharray="12.4,7.7" stroke-dashoffset="0.3"/>
</g>
<rect x="32.0" y="15.7" width="684.2" height="318.0" fill="none" stroke="#1c1c1c" stroke-width="1.35"/>
<line x1="32.0" x2="716.2" y1="175.3" y2="175.3" stroke="#1c1c1c" stroke-width="1.35"/>
<path d="M75.3,15.7v7.4 M75.3,167.9v14.8 M75.3,333.7v-7.4 M140.3,15.7v7.4 M140.3,167.9v14.8 M140.3,333.7v-7.4 M205.4,15.7v7.4 M205.4,167.9v14.8 M205.4,333.7v-7.4 M270.4,15.7v7.4 M270.4,167.9v14.8 M270.4,333.7v-7.4 M335.4,15.7v7.4 M335.4,167.9v14.8 M335.4,333.7v-7.4 M400.4,15.7v7.4 M400.4,167.9v14.8 M400.4,333.7v-7.4 M465.5,15.7v7.4 M465.5,167.9v14.8 M465.5,333.7v-7.4 M530.5,15.7v7.4 M530.5,167.9v14.8 M530.5,333.7v-7.4 M595.5,15.7v7.4 M595.5,167.9v14.8 M595.5,333.7v-7.4 M660.6,15.7v7.4 M660.6,167.9v14.8 M660.6,333.7v-7.4 M32.0,152.9h7.4 M716.2,152.9h-7.4 M32.0,124.2h7.4 M716.2,124.2h-7.4 M32.0,95.5h7.4 M716.2,95.5h-7.4 M32.0,66.8h7.4 M716.2,66.8h-7.4 M32.0,38.1h7.4 M716.2,38.1h-7.4 M32.0,310.4h7.4 M716.2,310.4h-7.4 M32.0,287.2h7.4 M716.2,287.2h-7.4 M32.0,263.9h7.4 M716.2,263.9h-7.4 M32.0,240.7h7.4 M716.2,240.7h-7.4 M32.0,217.4h7.4 M716.2,217.4h-7.4 M32.0,194.2h7.4 M716.2,194.2h-7.4" stroke="#1c1c1c" stroke-width="1.35" fill="none"/>
<text x="27.5" y="157.3" text-anchor="end">-2</text>
<text x="27.5" y="128.6" text-anchor="end">-1</text>
<text x="27.5" y="99.9" text-anchor="end">0</text>
<text x="27.5" y="71.2" text-anchor="end">1</text>
<text x="27.5" y="42.5" text-anchor="end">2</text>
<text x="721.2" y="338.1">-1</text>
<text x="721.2" y="314.8">-0.5</text>
<text x="721.2" y="291.6">0</text>
<text x="721.2" y="268.3">0.5</text>
<text x="721.2" y="245.1">1</text>
<text x="721.2" y="221.8">1.5</text>
<text x="721.2" y="198.6">2</text>
<text x="75.3" y="349.3" text-anchor="middle">00:41:30</text>
<text x="140.3" y="349.3" text-anchor="middle">00:41:45</text>
<text x="205.4" y="349.3" text-anchor="middle">00:42:00</text>
<text x="270.4" y="349.3" text-anchor="middle">00:42:15</text>
<text x="335.4" y="349.3" text-anchor="middle">00:42:30</text>
<text x="400.4" y="349.3" text-anchor="middle">00:42:45</text>
<text x="465.5" y="349.3" text-anchor="middle">00:43:00</text>
<text x="530.5" y="349.3" text-anchor="middle">00:43:15</text>
<text x="595.5" y="349.3" text-anchor="middle">00:43:30</text>
<text x="660.6" y="349.3" text-anchor="middle">00:43:45</text>
<text x="374.5" y="362.4" text-anchor="middle" font-size="14">Time (UT)</text>
<text x="374" y="9.9" text-anchor="middle" font-size="13.9" font-weight="bold">2007 February 3: Upstream Quasi-parallel</text>
<text transform="translate(10.4,95.5) rotate(-90)" text-anchor="middle" font-size="14">B (nT)</text>
<text transform="translate(756.8,254.6) rotate(-90)" text-anchor="middle" font-size="14">B (nT)</text>
<text x="45" y="33" font-size="14">a</text>
<text x="45" y="193" font-size="14">b</text>
<text y="147.7" font-size="13" fill="#a3a3a3"><tspan x="272.6" font-size="15.5">±</tspan><tspan x="282.3">B</tspan></text>
<text x="312.6" y="147.7" font-size="13" fill="#ff0000">B<tspan x="321.5" dy="6.3" font-size="10.5">x</tspan></text>
<text x="346.9" y="147.7" font-size="13" fill="#0000ff">B<tspan x="355.6" dy="6.3" font-size="10.5">y</tspan></text>
<text x="380.8" y="147.7" font-size="13" fill="#008000">B<tspan x="389.7" dy="6.3" font-size="10.5">z</tspan></text>
<text x="374.7" y="237.2" font-size="13" fill="#ff00ff">B<tspan x="383.3" dy="6.6" font-size="10.3">||</tspan></text>
<text x="408.6" y="237.2" font-size="13" fill="#00b4b4">B</text>
<text transform="translate(417.6,243.6) scale(1.05,0.64)" font-size="9.5" fill="#00b4b4">⊥</text>
<path d="M95.4,523.8H306.9 M95.4,736.6H306.9" stroke="#000" stroke-width="1.3" stroke-dasharray="12.4,7.7" stroke-dashoffset="2.5" fill="none"/>
<path d="M201.1,417.4V630.2 M201.1,630.2V843.0" stroke="#000" stroke-width="1.3" stroke-dasharray="12.4,7.7" stroke-dashoffset="1.5" fill="none"/>
<polyline points="204.1,521.8 199.7,524.7 191.8,526.1 183.8,524.7 179.5,523.2 173.7,520.8 180.9,523.2 186.7,521.1 191.1,519.6 196.1,516.7 202.6,516.7 208.4,517.0 214.2,516.0 216.4,516.7 218.8,518.9 222.9,518.9 219.3,514.5 217.8,511.2 227.2,511.2 236.6,511.2 241.7,514.1 246.1,516.7 251.8,518.9 255.8,517.4 257.6,521.8 262.7,528.3 257.6,523.2 251.8,521.1 246.1,520.8 240.3,521.1 236.6,517.4 235.9,524.7 237.4,521.8 243.2,522.5 248.9,523.2 251.8,519.6 246.1,518.2 240.3,518.2 234.5,517.9 227.2,518.2 222.9,519.6 216.4,521.1 214.2,523.2 225.1,523.2" fill="none" stroke="#000" stroke-width="1.45" stroke-linejoin="round" stroke-linecap="butt" />
<polyline points="200.1,751.3 205.2,745.3 211.2,750.4 214.9,753.9 217.2,750.4 222.3,756.1 224.9,761.2 218.9,777.5 236.0,777.0 245.4,776.4 257.4,773.9 261.1,766.7 262.1,754.7 258.7,741.9 258.2,736.8 257.4,723.1 255.6,712.0 243.7,688.4 236.0,664.1 235.6,652.1 235.1,643.0 238.9,642.7 253.4,656.4 242.8,660.7 236.0,664.1 227.4,668.4 219.4,675.7 216.3,680.8 213.7,680.8 206.0,688.0 205.2,693.1 190.7,699.6 187.2,700.0 181.2,699.1 179.5,700.8 174.4,707.2 178.3,707.2 182.1,704.3 191.0,703.8 201.8,706.8 206.9,713.7 204.7,719.7 205.7,727.0 203.5,729.9 201.3,730.4 200.9,739.3 204.0,744.5" fill="none" stroke="#000" stroke-width="1.45" stroke-linejoin="round" stroke-linecap="butt" />
<rect x="95.4" y="417.4" width="211.5" height="425.6" fill="none" stroke="#1c1c1c" stroke-width="1.35"/>
<line x1="95.4" x2="306.9" y1="630.2" y2="630.2" stroke="#1c1c1c" stroke-width="1.35"/>
<path d="M276.7,417.4v2.2 M276.7,628.0v4.4 M276.7,843.0v-2.2 M95.4,599.8h2.2 M306.9,599.8h-2.2 M95.4,812.6h2.2 M306.9,812.6h-2.2 M238.9,417.4v2.2 M238.9,628.0v4.4 M238.9,843.0v-2.2 M95.4,561.8h2.2 M306.9,561.8h-2.2 M95.4,774.6h2.2 M306.9,774.6h-2.2 M201.1,417.4v2.2 M201.1,628.0v4.4 M201.1,843.0v-2.2 M95.4,523.8h2.2 M306.9,523.8h-2.2 M95.4,736.6h2.2 M306.9,736.6h-2.2 M163.4,417.4v2.2 M163.4,628.0v4.4 M163.4,843.0v-2.2 M95.4,485.8h2.2 M306.9,485.8h-2.2 M95.4,698.6h2.2 M306.9,698.6h-2.2 M125.6,417.4v2.2 M125.6,628.0v4.4 M125.6,843.0v-2.2 M95.4,447.8h2.2 M306.9,447.8h-2.2 M95.4,660.6h2.2 M306.9,660.6h-2.2" stroke="#1c1c1c" stroke-width="1.35" fill="none"/>
<text x="276.7" y="411.0" text-anchor="middle" font-size="12">-2</text>
<text x="276.7" y="857.6" text-anchor="middle" font-size="12">-2</text>
<text x="88.4" y="604.1" text-anchor="end" font-size="12">-2</text>
<text x="312.2" y="816.9" font-size="12">-2</text>
<text x="238.9" y="411.0" text-anchor="middle" font-size="12">-1</text>
<text x="238.9" y="857.6" text-anchor="middle" font-size="12">-1</text>
<text x="88.4" y="566.1" text-anchor="end" font-size="12">-1</text>
<text x="312.2" y="778.9" font-size="12">-1</text>
<text x="201.1" y="411.0" text-anchor="middle" font-size="12">0</text>
<text x="201.1" y="857.6" text-anchor="middle" font-size="12">0</text>
<text x="88.4" y="528.1" text-anchor="end" font-size="12">0</text>
<text x="312.2" y="740.9" font-size="12">0</text>
<text x="163.4" y="411.0" text-anchor="middle" font-size="12">1</text>
<text x="163.4" y="857.6" text-anchor="middle" font-size="12">1</text>
<text x="88.4" y="490.1" text-anchor="end" font-size="12">1</text>
<text x="312.2" y="702.9" font-size="12">1</text>
<text x="125.6" y="411.0" text-anchor="middle" font-size="12">2</text>
<text x="125.6" y="857.6" text-anchor="middle" font-size="12">2</text>
<text x="88.4" y="452.1" text-anchor="end" font-size="12">2</text>
<text x="312.2" y="664.9" font-size="12">2</text>
<text x="201.1" y="392.7" text-anchor="middle" font-size="14">b<tspan dx="0.9" dy="6" font-size="10">2</tspan><tspan dy="-6" dx="1.5"> (nT)</tspan></text>
<text x="201.1" y="869.5" text-anchor="middle" font-size="14">b<tspan dx="0.9" dy="6" font-size="10">2</tspan><tspan dy="-6" dx="1.5"> (nT)</tspan></text>
<text transform="translate(67.7,523.8) rotate(-90)" text-anchor="middle" font-size="14">b<tspan dx="0.9" dy="6" font-size="10">3</tspan><tspan dy="-6" dx="1.5"> (nT)</tspan></text>
<text transform="translate(336.6,736.6) rotate(-90)" text-anchor="middle" font-size="14">b<tspan dx="0.9" dy="6" font-size="10">1</tspan><tspan dy="-6" dx="1.5"> (nT)</tspan></text>
<text x="105.4" y="438.9" font-size="14">c</text>
<text x="105.4" y="651.7" font-size="14">d</text>
<path d="M442.0,523.8H654.5 M442.0,736.6H654.5" stroke="#000" stroke-width="1.3" stroke-dasharray="12.4,7.7" stroke-dashoffset="2.5" fill="none"/>
<path d="M548.2,417.4V630.2 M548.2,630.2V843.0" stroke="#000" stroke-width="1.3" stroke-dasharray="12.4,7.7" stroke-dashoffset="1.5" fill="none"/>
<polyline points="524.5,533.9 517.1,531.3 509.7,527.9 502.4,524.2 496.1,521.3 489.7,520.3 487.1,518.7 485.3,516.1 485.5,513.2 491.3,508.7 499.2,505.0 507.6,501.6 516.1,498.2 521.3,499.9 526.6,501.6 532.4,501.0 536.1,499.2 538.2,498.2 540.8,498.5 541.5,503.4 539.4,507.6 538.2,509.4 540.8,510.8 542.6,512.4 539.7,511.3 537.1,510.3 533.9,509.7 530.8,509.2 528.2,510.3" fill="none" stroke="#000" stroke-width="1.45" stroke-linejoin="round" stroke-linecap="butt" />
<polyline points="488.7,521.8 491.8,525.2 497.6,528.2 502.4,527.8 506.6,527.6 511.3,530.8 513.4,533.0 520.3,533.0 524.5,533.9" fill="none" stroke="#000" stroke-width="1.45" stroke-linejoin="round" stroke-linecap="butt" />
<polyline points="528.2,510.3 526.7,510.1 525.9,510.7 524.5,512.6 523.8,511.8 522.4,511.6 522.4,511.1 521.0,510.7 520.3,509.5 520.3,510.3 519.5,512.8 518.3,513.0 518.2,515.5 517.8,515.7 517.2,513.3 516.6,512.6 516.6,511.0 515.7,511.2 514.5,511.3 513.3,511.2 512.8,513.9 512.4,513.9 511.4,513.5 511.5,512.2 510.8,511.8 510.2,510.4 508.8,510.4 508.7,510.8 508.3,510.4 507.0,510.7 506.6,510.3 505.8,509.9 505.6,511.1 504.5,510.8 503.5,510.4 503.3,510.6 502.6,509.0 502.3,508.3 502.1,507.6 500.8,508.4 500.1,508.8 499.2,507.9 499.2,507.6 498.1,509.3 498.8,510.2 497.9,511.3 498.0,510.1 497.3,510.0 496.6,509.0 496.2,509.0 496.0,510.4 495.0,509.4 496.2,509.2 496.8,508.7 498.7,507.5" fill="none" stroke="#000" stroke-width="1.45" stroke-linejoin="round" stroke-linecap="butt" />
<polyline points="487.6,521.3 492.9,519.2 499.2,516.6 504.5,515.3 509.7,513.9 511.8,513.4 515.0,514.5 518.2,515.7" fill="none" stroke="#000" stroke-width="1.45" stroke-linejoin="round" stroke-linecap="butt" />
<polyline points="525.1,511.5 529.6,514.4 525.5,519.2 531.7,516.8 529.3,517.5 533.1,518.1 530.0,517.8 524.6,519.8 531.3,517.9 523.6,514.7 530.9,511.5 528.2,519.3 525.3,520.7 530.1,516.0 529.5,518.1 529.0,519.7 527.0,515.2 531.5,516.4 526.2,519.1 532.8,515.1 524.8,516.0 528.3,515.5 532.5,513.4 532.1,512.8 526.5,518.2 531.9,518.9 529.6,516.8 529.1,517.9 528.2,517.2 530.1,516.4 530.8,518.0 533.9,517.2 527.6,515.4 528.6,519.0 527.8,517.4 532.1,511.4 525.6,517.1 529.7,517.0 527.6,518.2 529.4,515.0 534.3,517.2 527.3,516.1 527.9,516.1 523.0,515.3" fill="none" stroke="#000" stroke-width="1.45" stroke-linejoin="round" stroke-linecap="butt" />
<polyline points="532.4,519.7 535.5,518.9 539.2,519.2 542.4,520.6 538.7,519.9 535.0,520.3 536.6,516.6 535.0,515.0" fill="none" stroke="#000" stroke-width="1.45" stroke-linejoin="round" stroke-linecap="butt" />
<polyline points="529.8,726.3 528.9,719.3 527.1,716.6 529.8,714.7 533.4,713.5 538.0,712.4 544.0,713.8 539.3,709.3 538.6,706.5 540.4,700.1 539.8,693.7 538.9,687.4 533.4,685.5 525.2,682.8 515.5,680.0 498.7,688.3 491.4,698.3 486.0,707.4 485.0,713.8 486.9,720.2 488.7,726.6 490.5,732.1 493.3,734.8 497.8,736.7 502.4,734.3 510.6,732.1 517.9,732.1 517.9,735.8 514.3,742.1 509.7,748.5 505.1,754.0 500.6,758.6 496.9,757.7 488.7,747.6 490.0,743.1 493.3,740.3 497.3,737.2 502.4,742.1 509.7,750.4 516.1,756.8 520.7,765.9 513.4,769.5 509.7,761.0 506.1,759.5 502.4,760.4 497.8,765.0 495.5,769.5 494.2,777.8 496.0,784.2 500.6,788.7 504.2,794.2 509.7,798.8 513.4,803.3 514.3,809.7 517.9,812.5 520.7,817.9 523.4,820.7 529.8,819.8 528.9,816.1 532.5,815.2 529.8,810.6 528.0,806.1 526.1,800.6 524.7,796.0 523.9,790.5 522.9,783.2 523.9,777.8 525.2,771.4 527.1,765.0 528.9,759.5 530.7,754.0 533.1,748.5 536.2,744.9 538.9,743.1 541.7,742.1" fill="none" stroke="#000" stroke-width="1.45" stroke-linejoin="round" stroke-linecap="butt" />
<rect x="442.0" y="417.4" width="212.5" height="425.6" fill="none" stroke="#1c1c1c" stroke-width="1.35"/>
<line x1="442.0" x2="654.5" y1="630.2" y2="630.2" stroke="#1c1c1c" stroke-width="1.35"/>
<path d="M624.1,417.4v2.2 M624.1,628.0v4.4 M624.1,843.0v-2.2 M442.0,599.8h2.2 M654.5,599.8h-2.2 M442.0,812.6h2.2 M654.5,812.6h-2.2 M586.2,417.4v2.2 M586.2,628.0v4.4 M586.2,843.0v-2.2 M442.0,561.8h2.2 M654.5,561.8h-2.2 M442.0,774.6h2.2 M654.5,774.6h-2.2 M548.2,417.4v2.2 M548.2,628.0v4.4 M548.2,843.0v-2.2 M442.0,523.8h2.2 M654.5,523.8h-2.2 M442.0,736.6h2.2 M654.5,736.6h-2.2 M510.3,417.4v2.2 M510.3,628.0v4.4 M510.3,843.0v-2.2 M442.0,485.8h2.2 M654.5,485.8h-2.2 M442.0,698.6h2.2 M654.5,698.6h-2.2 M472.4,417.4v2.2 M472.4,628.0v4.4 M472.4,843.0v-2.2 M442.0,447.8h2.2 M654.5,447.8h-2.2 M442.0,660.6h2.2 M654.5,660.6h-2.2" stroke="#1c1c1c" stroke-width="1.35" fill="none"/>
<text x="624.1" y="411.0" text-anchor="middle" font-size="12">-2</text>
<text x="624.1" y="857.6" text-anchor="middle" font-size="12">-2</text>
<text x="435.0" y="604.1" text-anchor="end" font-size="12">-2</text>
<text x="659.8" y="816.9" font-size="12">-2</text>
<text x="586.2" y="411.0" text-anchor="middle" font-size="12">-1</text>
<text x="586.2" y="857.6" text-anchor="middle" font-size="12">-1</text>
<text x="435.0" y="566.1" text-anchor="end" font-size="12">-1</text>
<text x="659.8" y="778.9" font-size="12">-1</text>
<text x="548.2" y="411.0" text-anchor="middle" font-size="12">0</text>
<text x="548.2" y="857.6" text-anchor="middle" font-size="12">0</text>
<text x="435.0" y="528.1" text-anchor="end" font-size="12">0</text>
<text x="659.8" y="740.9" font-size="12">0</text>
<text x="510.3" y="411.0" text-anchor="middle" font-size="12">1</text>
<text x="510.3" y="857.6" text-anchor="middle" font-size="12">1</text>
<text x="435.0" y="490.1" text-anchor="end" font-size="12">1</text>
<text x="659.8" y="702.9" font-size="12">1</text>
<text x="472.4" y="411.0" text-anchor="middle" font-size="12">2</text>
<text x="472.4" y="857.6" text-anchor="middle" font-size="12">2</text>
<text x="435.0" y="452.1" text-anchor="end" font-size="12">2</text>
<text x="659.8" y="664.9" font-size="12">2</text>
<text x="548.2" y="392.7" text-anchor="middle" font-size="14">b<tspan dx="0.9" dy="6" font-size="10">2</tspan><tspan dy="-6" dx="1.5"> (nT)</tspan></text>
<text x="548.2" y="869.5" text-anchor="middle" font-size="14">b<tspan dx="0.9" dy="6" font-size="10">2</tspan><tspan dy="-6" dx="1.5"> (nT)</tspan></text>
<text transform="translate(414.3,523.8) rotate(-90)" text-anchor="middle" font-size="14">b<tspan dx="0.9" dy="6" font-size="10">3</tspan><tspan dy="-6" dx="1.5"> (nT)</tspan></text>
<text transform="translate(684.2,736.6) rotate(-90)" text-anchor="middle" font-size="14">b<tspan dx="0.9" dy="6" font-size="10">1</tspan><tspan dy="-6" dx="1.5"> (nT)</tspan></text>
<text x="452.0" y="438.9" font-size="14">e</text>
<text x="452.0" y="651.7" font-size="14">f</text>
<path d="M197.8,521.8h12.6 M204.1,515.5v12.6 M199.6,517.3l8.9,8.9 M199.6,526.3l8.9,-8.9" stroke="#000" stroke-width="1.5" fill="none"/>
<path d="M198.9,745.3h12.6 M205.2,739.0v12.6 M200.7,740.8l8.9,8.9 M200.7,749.8l8.9,-8.9" stroke="#000" stroke-width="1.5" fill="none"/>
<path d="M524.0,522.4h12.6 M530.3,516.1v12.6 M525.8,517.9l8.9,8.9 M525.8,526.9l8.9,-8.9" stroke="#000" stroke-width="1.5" fill="none"/>
<path d="M523.2,726.3h13.2 M529.8,719.7v13.2 M525.1,721.6l9.3,9.3 M525.1,731.0l9.3,-9.3" stroke="#000" stroke-width="1.5" fill="none"/>
<path d="M204.1,521.8h0 M199.7,524.7h0 M191.8,526.1h0 M183.8,524.7h0 M179.5,523.2h0 M173.7,520.8h0 M180.9,523.2h0 M186.7,521.1h0 M191.1,519.6h0 M196.1,516.7h0 M202.6,516.7h0 M208.4,517.0h0 M214.2,516.0h0 M216.4,516.7h0 M218.8,518.9h0 M222.9,518.9h0 M219.3,514.5h0 M217.8,511.2h0 M227.2,511.2h0 M236.6,511.2h0 M241.7,514.1h0 M246.1,516.7h0 M251.8,518.9h0 M255.8,517.4h0 M257.6,521.8h0 M262.7,528.3h0 M257.6,523.2h0 M251.8,521.1h0 M246.1,520.8h0 M240.3,521.1h0 M236.6,517.4h0 M235.9,524.7h0 M237.4,521.8h0 M243.2,522.5h0 M248.9,523.2h0 M251.8,519.6h0 M246.1,518.2h0 M240.3,518.2h0 M234.5,517.9h0 M227.2,518.2h0 M222.9,519.6h0 M216.4,521.1h0 M214.2,523.2h0 M225.1,523.2h0" stroke="#000" stroke-width="2.4" stroke-linecap="round" fill="none"/>
<path d="M200.1,751.3h0 M205.2,745.3h0 M211.2,750.4h0 M214.9,753.9h0 M217.2,750.4h0 M222.3,756.1h0 M224.9,761.2h0 M218.9,777.5h0 M236.0,777.0h0 M245.4,776.4h0 M257.4,773.9h0 M261.1,766.7h0 M262.1,754.7h0 M258.7,741.9h0 M258.2,736.8h0 M257.4,723.1h0 M255.6,712.0h0 M243.7,688.4h0 M236.0,664.1h0 M235.6,652.1h0 M235.1,643.0h0 M238.9,642.7h0 M253.4,656.4h0 M242.8,660.7h0 M236.0,664.1h0 M227.4,668.4h0 M219.4,675.7h0 M216.3,680.8h0 M213.7,680.8h0 M206.0,688.0h0 M205.2,693.1h0 M190.7,699.6h0 M187.2,700.0h0 M181.2,699.1h0 M179.5,700.8h0 M174.4,707.2h0 M178.3,707.2h0 M182.1,704.3h0 M191.0,703.8h0 M201.8,706.8h0 M206.9,713.7h0 M204.7,719.7h0 M205.7,727.0h0 M203.5,729.9h0 M201.3,730.4h0 M200.9,739.3h0 M204.0,744.5h0" stroke="#000" stroke-width="2.4" stroke-linecap="round" fill="none"/>
<path d="M524.5,533.9h0 M517.1,531.3h0 M509.7,527.9h0 M502.4,524.2h0 M496.1,521.3h0 M489.7,520.3h0 M487.1,518.7h0 M485.3,516.1h0 M485.5,513.2h0 M491.3,508.7h0 M499.2,505.0h0 M507.6,501.6h0 M516.1,498.2h0 M521.3,499.9h0 M526.6,501.6h0 M532.4,501.0h0 M536.1,499.2h0 M538.2,498.2h0 M540.8,498.5h0 M541.5,503.4h0 M539.4,507.6h0 M538.2,509.4h0 M540.8,510.8h0 M542.6,512.4h0 M539.7,511.3h0 M537.1,510.3h0 M533.9,509.7h0 M530.8,509.2h0 M528.2,510.3h0 M488.7,521.8h0 M491.8,525.2h0 M497.6,528.2h0 M502.4,527.8h0 M506.6,527.6h0 M511.3,530.8h0 M513.4,533.0h0 M520.3,533.0h0 M524.5,533.9h0 M528.2,510.3h0 M526.7,510.1h0 M525.9,510.7h0 M524.5,512.6h0 M523.8,511.8h0 M522.4,511.6h0 M522.4,511.1h0 M521.0,510.7h0 M520.3,509.5h0 M520.3,510.3h0 M519.5,512.8h0 M518.3,513.0h0 M518.2,515.5h0 M517.8,515.7h0 M517.2,513.3h0 M516.6,512.6h0 M516.6,511.0h0 M515.7,511.2h0 M514.5,511.3h0 M513.3,511.2h0 M512.8,513.9h0 M512.4,513.9h0 M511.4,513.5h0 M511.5,512.2h0 M510.8,511.8h0 M510.2,510.4h0 M508.8,510.4h0 M508.7,510.8h0 M508.3,510.4h0 M507.0,510.7h0 M506.6,510.3h0 M505.8,509.9h0 M505.6,511.1h0 M504.5,510.8h0 M503.5,510.4h0 M503.3,510.6h0 M502.6,509.0h0 M502.3,508.3h0 M502.1,507.6h0 M500.8,508.4h0 M500.1,508.8h0 M499.2,507.9h0 M499.2,507.6h0 M498.1,509.3h0 M498.8,510.2h0 M497.9,511.3h0 M498.0,510.1h0 M497.3,510.0h0 M496.6,509.0h0 M496.2,509.0h0 M496.0,510.4h0 M495.0,509.4h0 M496.2,509.2h0 M496.8,508.7h0 M498.7,507.5h0 M487.6,521.3h0 M492.9,519.2h0 M499.2,516.6h0 M504.5,515.3h0 M509.7,513.9h0 M511.8,513.4h0 M515.0,514.5h0 M518.2,515.7h0" stroke="#000" stroke-width="2.4" stroke-linecap="round" fill="none"/>
<path d="M529.8,726.3h0 M528.9,719.3h0 M527.1,716.6h0 M529.8,714.7h0 M533.4,713.5h0 M538.0,712.4h0 M544.0,713.8h0 M539.3,709.3h0 M538.6,706.5h0 M540.4,700.1h0 M539.8,693.7h0 M538.9,687.4h0 M533.4,685.5h0 M525.2,682.8h0 M515.5,680.0h0 M498.7,688.3h0 M491.4,698.3h0 M486.0,707.4h0 M485.0,713.8h0 M486.9,720.2h0 M488.7,726.6h0 M490.5,732.1h0 M493.3,734.8h0 M497.8,736.7h0 M502.4,734.3h0 M510.6,732.1h0 M517.9,732.1h0 M517.9,735.8h0 M514.3,742.1h0 M509.7,748.5h0 M505.1,754.0h0 M500.6,758.6h0 M496.9,757.7h0 M488.7,747.6h0 M490.0,743.1h0 M493.3,740.3h0 M497.3,737.2h0 M502.4,742.1h0 M509.7,750.4h0 M516.1,756.8h0 M520.7,765.9h0 M513.4,769.5h0 M509.7,761.0h0 M506.1,759.5h0 M502.4,760.4h0 M497.8,765.0h0 M495.5,769.5h0 M494.2,777.8h0 M496.0,784.2h0 M500.6,788.7h0 M504.2,794.2h0 M509.7,798.8h0 M513.4,803.3h0 M514.3,809.7h0 M517.9,812.5h0 M520.7,817.9h0 M523.4,820.7h0 M529.8,819.8h0 M528.9,816.1h0 M532.5,815.2h0 M529.8,810.6h0 M528.0,806.1h0 M526.1,800.6h0 M524.7,796.0h0 M523.9,790.5h0 M522.9,783.2h0 M523.9,777.8h0 M525.2,771.4h0 M527.1,765.0h0 M528.9,759.5h0 M530.7,754.0h0 M533.1,748.5h0 M536.2,744.9h0 M538.9,743.1h0 M541.7,742.1h0" stroke="#000" stroke-width="2.4" stroke-linecap="round" fill="none"/>
<path d="M502.6,760.5h0 M500.0,762.6h0 M497.6,765.1h0 M496.7,767.4h0 M495.4,769.4h0 M495.2,772.6h0 M494.8,775.2h0 M494.4,777.9h0 M494.6,779.9h0 M495.3,781.7h0 M495.7,784.0h0 M498.1,786.6h0 M500.8,788.7h0 M502.7,791.8h0 M504.5,794.1h0 M505.9,795.6h0 M507.7,797.1h0 M509.8,799.0h0 M511.7,801.0h0 M513.4,803.5h0 M513.6,806.6h0 M514.5,809.9h0 M516.2,811.1h0 M517.7,812.6h0 M519.2,815.4h0 M520.9,817.9h0 M523.3,821.0h0 M526.7,820.0h0 M529.6,819.6h0 M529.1,816.3h0 M532.3,815.4h0 M531.5,813.0h0 M529.7,810.7h0 M528.7,808.1h0 M528.3,806.2h0 M527.1,803.6h0 M526.1,800.8h0 M525.6,798.1h0 M524.5,795.9h0 M524.2,793.3h0 M523.8,790.5h0 M523.4,788.4h0 M523.1,785.7h0 M522.9,783.5h0 M523.4,780.8h0 M524.0,777.8h0 M524.6,774.3h0 M525.2,771.2h0 M525.5,769.4h0 M526.2,767.1h0 M527.2,765.0h0 M527.9,762.2h0 M528.9,759.7h0 M529.6,756.8h0 M530.6,753.9h0 M532.1,751.3h0 M533.1,748.7h0 M534.9,746.7h0 M536.3,744.9h0 M538.9,743.2h0" stroke="#000" stroke-width="2.2" stroke-linecap="round" fill="none"/>
<line x1="277.6" y1="488.8" x2="271.3" y2="466.2" stroke="#000" stroke-width="1.4"/>
<path d="M268.6,456.6L275.7,465.0L266.9,467.5Z" fill="#000"/>
<line x1="623.8" y1="487.0" x2="605.1" y2="479.2" stroke="#000" stroke-width="1.4"/>
<path d="M595.9,475.4L606.9,475.0L603.4,483.5Z" fill="#000"/>
<line x1="624.5" y1="698.0" x2="604.4" y2="718.5" stroke="#000" stroke-width="1.4"/>
<path d="M597.4,725.6L601.1,715.2L607.7,721.7Z" fill="#000"/>
<line x1="236.7" y1="330.2" x2="236.7" y2="373.3" stroke="#000" stroke-width="1.5"/>
<path d="M236.7,382.3L232.0,373.3L241.4,373.3Z" fill="#000"/>
<line x1="500.6" y1="329.6" x2="500.6" y2="372.9" stroke="#000" stroke-width="1.5"/>
<path d="M500.6,381.9L496.0,372.9L505.2,372.9Z" fill="#000"/>
<text x="280" y="478.7" font-size="12">&lt;B&gt;</text>
<text x="614.4" y="477.1" font-size="12">&lt;B&gt;</text>
<text x="596.1" y="700.1" font-size="12">&lt;B&gt;</text>
<text x="126.8" y="679.8" font-size="12">~ &lt;B&gt;</text>
<circle cx="125.3" cy="698.6" r="11.8" fill="none" stroke="#000" stroke-width="1.4"/><circle cx="125.3" cy="698.6" r="4.4" fill="#000"/>
<text y="815.6" font-size="12.3"><tspan x="107.2">λ</tspan><tspan x="114.4" dy="5.6" font-size="9.8">1</tspan><tspan x="123.80000000000001" dy="-5.6">/</tspan><tspan x="132.3">λ</tspan><tspan x="139.5" dy="5.6" font-size="9.8">2</tspan><tspan x="149.3" dy="-5.6">=</tspan><tspan x="159.9">2.5</tspan></text>
<text y="831.6" font-size="12.3"><tspan x="107.2">λ</tspan><tspan x="114.4" dy="5.6" font-size="9.8">2</tspan><tspan x="123.80000000000001" dy="-5.6">/</tspan><tspan x="132.3">λ</tspan><tspan x="139.5" dy="5.6" font-size="9.8">3</tspan><tspan x="149.3" dy="-5.6">=</tspan><tspan x="159.9">52.8</tspan></text>
<text y="816.0" font-size="12.3"><tspan x="573.2">λ</tspan><tspan x="580.4000000000001" dy="5.6" font-size="9.8">1</tspan><tspan x="589.8000000000001" dy="-5.6">/</tspan><tspan x="598.3000000000001">λ</tspan><tspan x="605.5" dy="5.6" font-size="9.8">2</tspan><tspan x="615.3000000000001" dy="-5.6">=</tspan><tspan x="625.9000000000001">6.9</tspan></text>
<text y="832.0" font-size="12.3"><tspan x="573.2">λ</tspan><tspan x="580.4000000000001" dy="5.6" font-size="9.8">2</tspan><tspan x="589.8000000000001" dy="-5.6">/</tspan><tspan x="598.3000000000001">λ</tspan><tspan x="605.5" dy="5.6" font-size="9.8">3</tspan><tspan x="615.3000000000001" dy="-5.6">=</tspan><tspan x="625.9000000000001">5.0</tspan></text>
</svg>
</body></html>
